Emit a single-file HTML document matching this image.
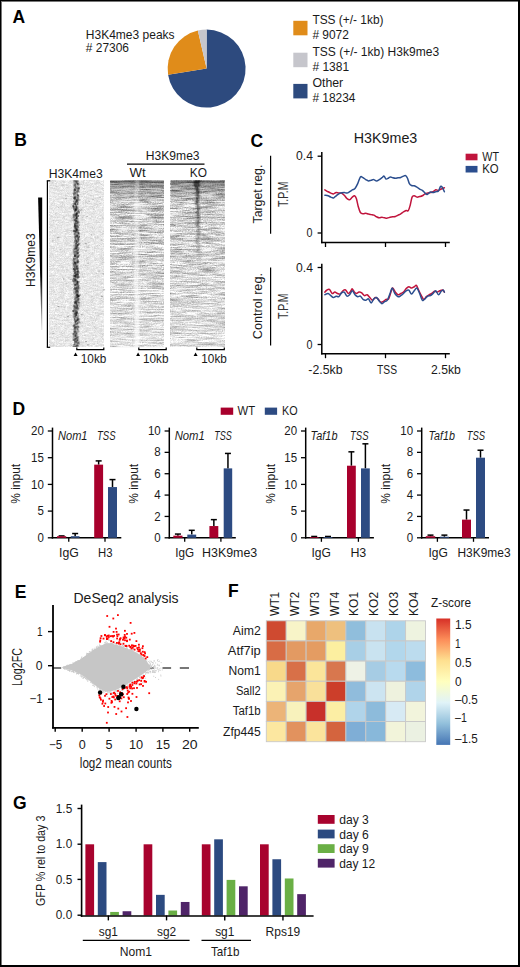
<!DOCTYPE html>
<html><head><meta charset="utf-8"><style>
html,body{margin:0;padding:0;background:#fff;width:520px;height:967px;overflow:hidden}
svg{display:block}
text{font-family:"Liberation Sans", sans-serif;}
</style></head><body>
<svg width="520" height="967" viewBox="0 0 520 967" fill="#1a1a1a">
<defs><filter id="n1" x="0" y="0" width="1" height="1" color-interpolation-filters="sRGB"><feTurbulence type="fractalNoise" baseFrequency="0.2 0.6" numOctaves="3" seed="3" result="a"/><feTurbulence type="fractalNoise" baseFrequency="0.9 0.9" numOctaves="2" seed="4" result="b"/><feComposite in="a" in2="b" operator="arithmetic" k1="0" k2="0.5" k3="0.5" k4="0" result="c"/><feColorMatrix in="c" type="matrix" values="0.415 0 0 0 0.698 0.415 0 0 0 0.698 0.415 0 0 0 0.698 0 0 0 0 1"/></filter><filter id="n2" x="0" y="0" width="1" height="1" color-interpolation-filters="sRGB"><feTurbulence type="fractalNoise" baseFrequency="0.06 0.75" numOctaves="3" seed="5" result="a"/><feTurbulence type="fractalNoise" baseFrequency="0.8 0.9" numOctaves="2" seed="6" result="b"/><feComposite in="a" in2="b" operator="arithmetic" k1="0" k2="0.7" k3="0.35" k4="0" result="c"/><feColorMatrix in="c" type="matrix" values="1.200 0 0 0 0.239 1.200 0 0 0 0.239 1.200 0 0 0 0.239 0 0 0 0 1"/></filter><filter id="n3" x="0" y="0" width="1" height="1" color-interpolation-filters="sRGB"><feTurbulence type="fractalNoise" baseFrequency="0.06 0.75" numOctaves="3" seed="9" result="a"/><feTurbulence type="fractalNoise" baseFrequency="0.8 0.9" numOctaves="2" seed="10" result="b"/><feComposite in="a" in2="b" operator="arithmetic" k1="0" k2="0.7" k3="0.35" k4="0" result="c"/><feColorMatrix in="c" type="matrix" values="1.200 0 0 0 0.239 1.200 0 0 0 0.239 1.200 0 0 0 0.239 0 0 0 0 1"/></filter><linearGradient id="gfade" x1="0" x2="0" y1="0" y2="1"><stop offset="0" stop-color="#000" stop-opacity="0.35"/><stop offset="0.06" stop-color="#000" stop-opacity="0.18"/><stop offset="0.16" stop-color="#000" stop-opacity="0"/><stop offset="0.4" stop-color="#fff" stop-opacity="0.06"/><stop offset="1" stop-color="#fff" stop-opacity="0.36"/></linearGradient><linearGradient id="gwedge" x1="0" x2="0" y1="0" y2="1"><stop offset="0" stop-color="#000"/><stop offset="0.6" stop-color="#000"/><stop offset="1" stop-color="#ccc"/></linearGradient><linearGradient id="cb" x1="0" x2="0" y1="0" y2="1"><stop offset="0.0000" stop-color="#D73027"/><stop offset="0.1667" stop-color="#FC8D59"/><stop offset="0.3333" stop-color="#FEE090"/><stop offset="0.5000" stop-color="#FFFFBF"/><stop offset="0.6667" stop-color="#E0F3F8"/><stop offset="0.8333" stop-color="#91BFDB"/><stop offset="1.0000" stop-color="#4575B4"/></linearGradient></defs>
<rect x="0" y="0" width="520" height="967" fill="#fff"/>
<text x="12.50" y="23.40" font-size="17.5" font-weight="bold" fill="#000">A</text>
<text x="85.80" y="38.50" font-size="12.6" textLength="88.80" lengthAdjust="spacingAndGlyphs">H3K4me3 peaks</text>
<text x="85.80" y="52.30" font-size="12.6" textLength="43.20" lengthAdjust="spacingAndGlyphs"># 27306</text>
<path d="M206.6,68.6 L206.60,29.60 A39,39 0 1 1 168.08,74.70 Z" fill="#2D4A7E"/>
<path d="M206.6,68.6 L168.08,74.70 A39,39 0 0 1 197.83,30.60 Z" fill="#E08C1A"/>
<path d="M206.6,68.6 L197.83,30.60 A39,39 0 0 1 206.60,29.60 Z" fill="#C6C6CC"/>
<rect x="293.30" y="20.80" width="14.20" height="14.50" fill="#E08C1A"/>
<text x="312.40" y="24.30" font-size="12.6" textLength="71.10" lengthAdjust="spacingAndGlyphs">TSS (+/- 1kb)</text>
<text x="312.40" y="38.80" font-size="12.6" textLength="36.50" lengthAdjust="spacingAndGlyphs"># 9072</text>
<rect x="293.30" y="52.70" width="14.20" height="14.50" fill="#C6C6CC"/>
<text x="312.40" y="56.20" font-size="12.6" textLength="126.70" lengthAdjust="spacingAndGlyphs">TSS (+/- 1kb) H3k9me3</text>
<text x="312.40" y="70.70" font-size="12.6" textLength="36.70" lengthAdjust="spacingAndGlyphs"># 1381</text>
<rect x="293.30" y="83.90" width="14.20" height="14.50" fill="#2D4A7E"/>
<text x="312.40" y="87.40" font-size="12.6" textLength="30.80" lengthAdjust="spacingAndGlyphs">Other</text>
<text x="312.40" y="101.90" font-size="12.6" textLength="43.10" lengthAdjust="spacingAndGlyphs"># 18234</text>
<text x="14.20" y="146.40" font-size="17.5" font-weight="bold" fill="#000">B</text>
<rect x="49.7" y="180.5" width="53.8" height="166.5" filter="url(#n1)"/>
<rect x="110.1" y="180.5" width="53.8" height="166.5" filter="url(#n2)"/>
<rect x="110.1" y="180.5" width="53.8" height="166.5" fill="url(#gfade)"/>
<rect x="110.1" y="180.5" width="53.8" height="2.5" fill="#000" opacity="0.25"/>
<rect x="170.6" y="180.5" width="54.0" height="166.5" filter="url(#n3)"/>
<rect x="170.6" y="180.5" width="54.0" height="166.5" fill="url(#gfade)"/>
<rect x="170.6" y="180.5" width="54.0" height="2.5" fill="#000" opacity="0.25"/>
<g fill="#000"><rect x="73.4" y="180.5" width="5.5" height="1.0" opacity="0.32"/><rect x="76.5" y="180.5" width="1.3" height="1.0" opacity="0.54"/><rect x="73.4" y="180.5" width="2.0" height="1.0" opacity="0.53"/><rect x="75.3" y="180.5" width="1.2" height="1.0" opacity="0.71"/><rect x="73.4" y="181.5" width="5.8" height="1.0" opacity="0.30"/><rect x="75.5" y="181.5" width="2.0" height="1.0" opacity="0.41"/><rect x="75.6" y="181.5" width="1.0" height="1.0" opacity="0.37"/><rect x="72.9" y="182.5" width="5.5" height="1.0" opacity="0.31"/><rect x="75.9" y="182.5" width="1.8" height="1.0" opacity="0.55"/><rect x="73.8" y="183.5" width="5.5" height="1.0" opacity="0.28"/><rect x="76.6" y="183.5" width="2.6" height="1.0" opacity="0.63"/><rect x="74.5" y="183.5" width="1.5" height="1.0" opacity="0.47"/><rect x="77.0" y="183.5" width="1.1" height="1.0" opacity="0.51"/><rect x="74.2" y="184.5" width="6.2" height="1.0" opacity="0.22"/><rect x="73.3" y="184.5" width="2.5" height="1.0" opacity="0.50"/><rect x="73.6" y="185.5" width="5.5" height="1.0" opacity="0.33"/><rect x="74.0" y="185.5" width="2.2" height="1.0" opacity="0.38"/><rect x="73.2" y="186.5" width="5.0" height="1.0" opacity="0.27"/><rect x="75.1" y="186.5" width="1.0" height="1.0" opacity="0.54"/><rect x="74.0" y="187.5" width="5.1" height="1.0" opacity="0.32"/><rect x="75.2" y="187.5" width="2.2" height="1.0" opacity="0.50"/><rect x="78.0" y="187.5" width="1.6" height="1.0" opacity="0.35"/><rect x="77.6" y="187.5" width="2.4" height="1.0" opacity="0.59"/><rect x="73.5" y="188.5" width="6.4" height="1.0" opacity="0.34"/><rect x="78.2" y="188.5" width="1.2" height="1.0" opacity="0.44"/><rect x="77.1" y="188.5" width="1.4" height="1.0" opacity="0.48"/><rect x="74.0" y="188.5" width="1.5" height="1.0" opacity="0.39"/><rect x="73.8" y="189.5" width="5.2" height="1.0" opacity="0.34"/><rect x="73.8" y="189.5" width="2.0" height="1.0" opacity="0.58"/><rect x="73.7" y="189.5" width="2.3" height="1.0" opacity="0.50"/><rect x="73.1" y="190.5" width="5.8" height="1.0" opacity="0.37"/><rect x="77.0" y="190.5" width="2.2" height="1.0" opacity="0.43"/><rect x="73.6" y="191.5" width="6.2" height="1.0" opacity="0.34"/><rect x="73.7" y="191.5" width="1.1" height="1.0" opacity="0.55"/><rect x="76.3" y="191.5" width="1.4" height="1.0" opacity="0.51"/><rect x="72.6" y="192.5" width="5.6" height="1.0" opacity="0.41"/><rect x="74.7" y="192.5" width="1.2" height="1.0" opacity="0.61"/><rect x="73.3" y="193.5" width="4.9" height="1.0" opacity="0.26"/><rect x="73.0" y="193.5" width="2.2" height="1.0" opacity="0.51"/><rect x="73.0" y="194.5" width="5.6" height="1.0" opacity="0.41"/><rect x="77.0" y="194.5" width="1.6" height="1.0" opacity="0.74"/><rect x="73.6" y="195.5" width="5.9" height="1.0" opacity="0.34"/><rect x="77.1" y="195.5" width="1.9" height="1.0" opacity="0.54"/><rect x="72.7" y="196.5" width="5.8" height="1.0" opacity="0.23"/><rect x="74.1" y="196.5" width="2.2" height="1.0" opacity="0.75"/><rect x="73.1" y="197.5" width="5.7" height="1.0" opacity="0.37"/><rect x="73.6" y="197.5" width="2.2" height="1.0" opacity="0.74"/><rect x="73.7" y="197.5" width="1.5" height="1.0" opacity="0.54"/><rect x="77.3" y="197.5" width="1.1" height="1.0" opacity="0.73"/><rect x="73.4" y="198.5" width="5.9" height="1.0" opacity="0.30"/><rect x="73.8" y="198.5" width="2.0" height="1.0" opacity="0.61"/><rect x="74.3" y="199.5" width="6.2" height="1.0" opacity="0.37"/><rect x="76.2" y="199.5" width="2.5" height="1.0" opacity="0.53"/><rect x="75.9" y="199.5" width="1.7" height="1.0" opacity="0.56"/><rect x="73.0" y="200.5" width="4.8" height="1.0" opacity="0.41"/><rect x="75.8" y="200.5" width="1.8" height="1.0" opacity="0.72"/><rect x="73.1" y="201.5" width="4.8" height="1.0" opacity="0.28"/><rect x="75.3" y="201.5" width="2.0" height="1.0" opacity="0.65"/><rect x="77.3" y="201.5" width="1.5" height="1.0" opacity="0.55"/><rect x="75.1" y="201.5" width="1.4" height="1.0" opacity="0.45"/><rect x="73.2" y="202.5" width="5.1" height="1.0" opacity="0.26"/><rect x="74.0" y="202.5" width="1.9" height="1.0" opacity="0.40"/><rect x="72.6" y="203.5" width="6.1" height="1.0" opacity="0.39"/><rect x="77.0" y="203.5" width="1.1" height="1.0" opacity="0.68"/><rect x="74.7" y="203.5" width="1.2" height="1.0" opacity="0.72"/><rect x="73.7" y="203.5" width="2.3" height="1.0" opacity="0.56"/><rect x="72.9" y="204.5" width="5.8" height="1.0" opacity="0.28"/><rect x="75.1" y="204.5" width="1.4" height="1.0" opacity="0.62"/><rect x="72.1" y="205.5" width="5.4" height="1.0" opacity="0.35"/><rect x="73.0" y="205.5" width="1.0" height="1.0" opacity="0.53"/><rect x="76.1" y="205.5" width="1.0" height="1.0" opacity="0.44"/><rect x="72.5" y="205.5" width="1.2" height="1.0" opacity="0.60"/><rect x="72.3" y="206.5" width="6.1" height="1.0" opacity="0.41"/><rect x="75.8" y="206.5" width="1.3" height="1.0" opacity="0.45"/><rect x="75.0" y="206.5" width="2.1" height="1.0" opacity="0.56"/><rect x="73.3" y="206.5" width="1.1" height="1.0" opacity="0.66"/><rect x="72.8" y="207.5" width="6.3" height="1.0" opacity="0.32"/><rect x="76.0" y="207.5" width="1.6" height="1.0" opacity="0.71"/><rect x="73.8" y="208.5" width="5.0" height="1.0" opacity="0.31"/><rect x="73.0" y="208.5" width="2.4" height="1.0" opacity="0.57"/><rect x="75.4" y="208.5" width="2.0" height="1.0" opacity="0.68"/><rect x="74.9" y="208.5" width="1.5" height="1.0" opacity="0.74"/><rect x="73.6" y="209.5" width="6.2" height="1.0" opacity="0.38"/><rect x="75.0" y="209.5" width="1.2" height="1.0" opacity="0.51"/><rect x="75.4" y="209.5" width="1.1" height="1.0" opacity="0.74"/><rect x="74.5" y="209.5" width="2.5" height="1.0" opacity="0.64"/><rect x="73.8" y="210.5" width="5.3" height="1.0" opacity="0.30"/><rect x="74.1" y="210.5" width="1.8" height="1.0" opacity="0.67"/><rect x="77.8" y="210.5" width="1.1" height="1.0" opacity="0.42"/><rect x="73.8" y="211.5" width="6.1" height="1.0" opacity="0.25"/><rect x="77.3" y="211.5" width="2.6" height="1.0" opacity="0.56"/><rect x="74.0" y="212.5" width="5.7" height="1.0" opacity="0.36"/><rect x="75.9" y="212.5" width="1.7" height="1.0" opacity="0.68"/><rect x="73.3" y="213.5" width="5.1" height="1.0" opacity="0.32"/><rect x="76.1" y="213.5" width="1.4" height="1.0" opacity="0.73"/><rect x="75.3" y="213.5" width="2.4" height="1.0" opacity="0.47"/><rect x="75.6" y="213.5" width="1.2" height="1.0" opacity="0.46"/><rect x="72.5" y="214.5" width="4.8" height="1.0" opacity="0.30"/><rect x="74.5" y="214.5" width="2.6" height="1.0" opacity="0.51"/><rect x="74.9" y="214.5" width="2.3" height="1.0" opacity="0.55"/><rect x="72.8" y="214.5" width="2.1" height="1.0" opacity="0.57"/><rect x="73.0" y="215.5" width="6.3" height="1.0" opacity="0.40"/><rect x="75.1" y="215.5" width="1.4" height="1.0" opacity="0.49"/><rect x="76.6" y="215.5" width="2.4" height="1.0" opacity="0.72"/><rect x="72.9" y="216.5" width="4.8" height="1.0" opacity="0.27"/><rect x="72.6" y="216.5" width="2.2" height="1.0" opacity="0.43"/><rect x="75.9" y="216.5" width="1.4" height="1.0" opacity="0.48"/><rect x="75.6" y="216.5" width="1.6" height="1.0" opacity="0.39"/><rect x="73.3" y="217.5" width="5.0" height="1.0" opacity="0.32"/><rect x="75.7" y="217.5" width="2.1" height="1.0" opacity="0.70"/><rect x="76.0" y="217.5" width="1.0" height="1.0" opacity="0.68"/><rect x="73.2" y="218.5" width="5.7" height="1.0" opacity="0.26"/><rect x="75.0" y="218.5" width="2.4" height="1.0" opacity="0.69"/><rect x="72.5" y="219.5" width="6.0" height="1.0" opacity="0.38"/><rect x="74.0" y="219.5" width="1.5" height="1.0" opacity="0.72"/><rect x="73.6" y="220.5" width="5.0" height="1.0" opacity="0.27"/><rect x="74.9" y="220.5" width="1.1" height="1.0" opacity="0.52"/><rect x="74.9" y="220.5" width="2.5" height="1.0" opacity="0.63"/><rect x="75.9" y="220.5" width="1.3" height="1.0" opacity="0.67"/><rect x="74.1" y="221.5" width="5.7" height="1.0" opacity="0.29"/><rect x="76.7" y="221.5" width="1.2" height="1.0" opacity="0.65"/><rect x="77.2" y="221.5" width="1.8" height="1.0" opacity="0.43"/><rect x="73.8" y="222.5" width="5.7" height="1.0" opacity="0.32"/><rect x="74.9" y="222.5" width="1.8" height="1.0" opacity="0.40"/><rect x="75.0" y="222.5" width="1.3" height="1.0" opacity="0.46"/><rect x="76.4" y="222.5" width="2.1" height="1.0" opacity="0.40"/><rect x="74.3" y="223.5" width="4.9" height="1.0" opacity="0.24"/><rect x="76.1" y="223.5" width="1.7" height="1.0" opacity="0.52"/><rect x="73.8" y="223.5" width="2.0" height="1.0" opacity="0.63"/><rect x="74.0" y="224.5" width="6.0" height="1.0" opacity="0.30"/><rect x="74.0" y="224.5" width="2.0" height="1.0" opacity="0.67"/><rect x="73.5" y="225.5" width="4.9" height="1.0" opacity="0.39"/><rect x="75.5" y="225.5" width="2.5" height="1.0" opacity="0.43"/><rect x="74.8" y="225.5" width="1.9" height="1.0" opacity="0.65"/><rect x="74.0" y="225.5" width="1.4" height="1.0" opacity="0.65"/><rect x="73.6" y="226.5" width="5.3" height="1.0" opacity="0.33"/><rect x="76.9" y="226.5" width="2.2" height="1.0" opacity="0.51"/><rect x="73.8" y="226.5" width="2.2" height="1.0" opacity="0.49"/><rect x="74.5" y="227.5" width="4.8" height="1.0" opacity="0.29"/><rect x="74.1" y="227.5" width="2.4" height="1.0" opacity="0.46"/><rect x="75.2" y="227.5" width="2.5" height="1.0" opacity="0.44"/><rect x="75.1" y="227.5" width="1.6" height="1.0" opacity="0.38"/><rect x="73.5" y="228.5" width="5.0" height="1.0" opacity="0.30"/><rect x="76.6" y="228.5" width="1.0" height="1.0" opacity="0.65"/><rect x="75.4" y="228.5" width="1.4" height="1.0" opacity="0.37"/><rect x="75.4" y="228.5" width="1.3" height="1.0" opacity="0.39"/><rect x="73.4" y="229.5" width="6.2" height="1.0" opacity="0.33"/><rect x="75.7" y="229.5" width="1.7" height="1.0" opacity="0.69"/><rect x="75.6" y="229.5" width="1.2" height="1.0" opacity="0.61"/><rect x="76.2" y="229.5" width="1.9" height="1.0" opacity="0.73"/><rect x="72.8" y="230.5" width="6.4" height="1.0" opacity="0.39"/><rect x="72.8" y="230.5" width="2.0" height="1.0" opacity="0.73"/><rect x="75.0" y="230.5" width="1.7" height="1.0" opacity="0.59"/><rect x="74.0" y="230.5" width="1.6" height="1.0" opacity="0.61"/><rect x="73.7" y="231.5" width="5.3" height="1.0" opacity="0.36"/><rect x="77.1" y="231.5" width="1.0" height="1.0" opacity="0.58"/><rect x="75.0" y="231.5" width="2.0" height="1.0" opacity="0.62"/><rect x="73.7" y="232.5" width="5.7" height="1.0" opacity="0.36"/><rect x="77.9" y="232.5" width="1.1" height="1.0" opacity="0.52"/><rect x="77.8" y="232.5" width="1.8" height="1.0" opacity="0.45"/><rect x="73.8" y="233.5" width="6.3" height="1.0" opacity="0.36"/><rect x="78.0" y="233.5" width="1.2" height="1.0" opacity="0.45"/><rect x="73.6" y="233.5" width="2.1" height="1.0" opacity="0.52"/><rect x="74.1" y="234.5" width="5.0" height="1.0" opacity="0.29"/><rect x="75.8" y="234.5" width="2.1" height="1.0" opacity="0.45"/><rect x="74.5" y="235.5" width="5.5" height="1.0" opacity="0.38"/><rect x="74.5" y="235.5" width="2.3" height="1.0" opacity="0.47"/><rect x="76.5" y="235.5" width="1.2" height="1.0" opacity="0.55"/><rect x="76.5" y="235.5" width="1.5" height="1.0" opacity="0.69"/><rect x="74.3" y="236.5" width="5.9" height="1.0" opacity="0.26"/><rect x="74.4" y="236.5" width="2.2" height="1.0" opacity="0.45"/><rect x="77.4" y="236.5" width="2.6" height="1.0" opacity="0.70"/><rect x="73.9" y="237.5" width="4.9" height="1.0" opacity="0.27"/><rect x="74.6" y="237.5" width="1.0" height="1.0" opacity="0.44"/><rect x="77.5" y="237.5" width="1.4" height="1.0" opacity="0.72"/><rect x="74.7" y="238.5" width="5.6" height="1.0" opacity="0.29"/><rect x="77.3" y="238.5" width="1.5" height="1.0" opacity="0.69"/><rect x="74.8" y="238.5" width="1.1" height="1.0" opacity="0.67"/><rect x="74.3" y="239.5" width="6.0" height="1.0" opacity="0.26"/><rect x="75.4" y="239.5" width="2.2" height="1.0" opacity="0.41"/><rect x="77.8" y="239.5" width="1.2" height="1.0" opacity="0.59"/><rect x="74.1" y="240.5" width="5.1" height="1.0" opacity="0.35"/><rect x="77.7" y="240.5" width="1.2" height="1.0" opacity="0.38"/><rect x="76.3" y="240.5" width="1.1" height="1.0" opacity="0.54"/><rect x="74.7" y="240.5" width="2.1" height="1.0" opacity="0.66"/><rect x="73.8" y="241.5" width="5.1" height="1.0" opacity="0.35"/><rect x="76.0" y="241.5" width="2.1" height="1.0" opacity="0.66"/><rect x="73.4" y="242.5" width="5.9" height="1.0" opacity="0.29"/><rect x="75.4" y="242.5" width="1.5" height="1.0" opacity="0.59"/><rect x="74.6" y="243.5" width="5.9" height="1.0" opacity="0.28"/><rect x="75.0" y="243.5" width="2.3" height="1.0" opacity="0.48"/><rect x="78.1" y="243.5" width="1.6" height="1.0" opacity="0.71"/><rect x="75.7" y="243.5" width="1.4" height="1.0" opacity="0.50"/><rect x="73.6" y="244.5" width="5.1" height="1.0" opacity="0.33"/><rect x="77.1" y="244.5" width="1.9" height="1.0" opacity="0.58"/><rect x="77.0" y="244.5" width="1.3" height="1.0" opacity="0.70"/><rect x="73.7" y="245.5" width="4.8" height="1.0" opacity="0.32"/><rect x="75.2" y="245.5" width="1.3" height="1.0" opacity="0.36"/><rect x="75.2" y="245.5" width="2.3" height="1.0" opacity="0.58"/><rect x="76.2" y="245.5" width="1.5" height="1.0" opacity="0.48"/><rect x="73.5" y="246.5" width="4.8" height="1.0" opacity="0.35"/><rect x="76.1" y="246.5" width="2.2" height="1.0" opacity="0.45"/><rect x="73.5" y="247.5" width="6.0" height="1.0" opacity="0.32"/><rect x="75.1" y="247.5" width="1.6" height="1.0" opacity="0.74"/><rect x="75.5" y="247.5" width="2.1" height="1.0" opacity="0.56"/><rect x="74.0" y="248.5" width="5.5" height="1.0" opacity="0.39"/><rect x="73.4" y="248.5" width="1.6" height="1.0" opacity="0.50"/><rect x="75.6" y="248.5" width="1.1" height="1.0" opacity="0.57"/><rect x="75.2" y="248.5" width="1.0" height="1.0" opacity="0.35"/><rect x="72.6" y="249.5" width="6.3" height="1.0" opacity="0.40"/><rect x="76.8" y="249.5" width="2.2" height="1.0" opacity="0.50"/><rect x="73.1" y="250.5" width="5.3" height="1.0" opacity="0.41"/><rect x="76.2" y="250.5" width="1.8" height="1.0" opacity="0.47"/><rect x="73.1" y="251.5" width="6.3" height="1.0" opacity="0.40"/><rect x="75.7" y="251.5" width="1.0" height="1.0" opacity="0.67"/><rect x="74.2" y="251.5" width="1.5" height="1.0" opacity="0.49"/><rect x="73.0" y="252.5" width="5.6" height="1.0" opacity="0.31"/><rect x="76.8" y="252.5" width="1.6" height="1.0" opacity="0.72"/><rect x="76.8" y="252.5" width="2.0" height="1.0" opacity="0.57"/><rect x="73.3" y="253.5" width="5.6" height="1.0" opacity="0.30"/><rect x="75.9" y="253.5" width="2.1" height="1.0" opacity="0.39"/><rect x="74.1" y="253.5" width="2.4" height="1.0" opacity="0.44"/><rect x="73.9" y="254.5" width="6.1" height="1.0" opacity="0.37"/><rect x="74.1" y="254.5" width="2.1" height="1.0" opacity="0.35"/><rect x="73.9" y="255.5" width="5.4" height="1.0" opacity="0.38"/><rect x="77.5" y="255.5" width="1.7" height="1.0" opacity="0.52"/><rect x="74.0" y="255.5" width="2.2" height="1.0" opacity="0.71"/><rect x="73.9" y="255.5" width="2.3" height="1.0" opacity="0.65"/><rect x="73.0" y="256.5" width="5.7" height="1.0" opacity="0.26"/><rect x="76.6" y="256.5" width="2.3" height="1.0" opacity="0.68"/><rect x="72.7" y="257.5" width="5.2" height="1.0" opacity="0.36"/><rect x="75.6" y="257.5" width="2.4" height="1.0" opacity="0.38"/><rect x="73.2" y="258.5" width="4.8" height="1.0" opacity="0.26"/><rect x="73.0" y="258.5" width="2.5" height="1.0" opacity="0.68"/><rect x="72.5" y="259.5" width="5.7" height="1.0" opacity="0.33"/><rect x="76.4" y="259.5" width="2.5" height="1.0" opacity="0.48"/><rect x="73.1" y="260.5" width="5.9" height="1.0" opacity="0.23"/><rect x="72.7" y="260.5" width="2.1" height="1.0" opacity="0.51"/><rect x="73.1" y="261.5" width="6.3" height="1.0" opacity="0.39"/><rect x="76.7" y="261.5" width="1.7" height="1.0" opacity="0.63"/><rect x="74.1" y="261.5" width="1.8" height="1.0" opacity="0.40"/><rect x="76.4" y="261.5" width="2.2" height="1.0" opacity="0.69"/><rect x="72.7" y="262.5" width="5.8" height="1.0" opacity="0.41"/><rect x="74.4" y="262.5" width="1.5" height="1.0" opacity="0.51"/><rect x="73.8" y="262.5" width="2.1" height="1.0" opacity="0.43"/><rect x="74.0" y="262.5" width="2.2" height="1.0" opacity="0.73"/><rect x="72.5" y="263.5" width="6.0" height="1.0" opacity="0.29"/><rect x="73.1" y="263.5" width="1.1" height="1.0" opacity="0.39"/><rect x="75.1" y="263.5" width="2.1" height="1.0" opacity="0.42"/><rect x="72.3" y="264.5" width="4.9" height="1.0" opacity="0.27"/><rect x="73.4" y="264.5" width="2.6" height="1.0" opacity="0.66"/><rect x="72.8" y="265.5" width="6.1" height="1.0" opacity="0.41"/><rect x="75.9" y="265.5" width="2.0" height="1.0" opacity="0.68"/><rect x="72.7" y="266.5" width="4.8" height="1.0" opacity="0.30"/><rect x="76.1" y="266.5" width="1.5" height="1.0" opacity="0.45"/><rect x="74.5" y="266.5" width="2.6" height="1.0" opacity="0.45"/><rect x="74.1" y="266.5" width="1.3" height="1.0" opacity="0.53"/><rect x="73.3" y="267.5" width="5.1" height="1.0" opacity="0.29"/><rect x="75.3" y="267.5" width="2.3" height="1.0" opacity="0.41"/><rect x="76.7" y="267.5" width="2.2" height="1.0" opacity="0.57"/><rect x="72.7" y="268.5" width="5.9" height="1.0" opacity="0.42"/><rect x="75.4" y="268.5" width="2.6" height="1.0" opacity="0.72"/><rect x="72.8" y="268.5" width="1.9" height="1.0" opacity="0.61"/><rect x="73.1" y="268.5" width="2.2" height="1.0" opacity="0.54"/><rect x="73.4" y="269.5" width="5.3" height="1.0" opacity="0.24"/><rect x="77.2" y="269.5" width="1.4" height="1.0" opacity="0.53"/><rect x="74.0" y="269.5" width="2.2" height="1.0" opacity="0.58"/><rect x="73.7" y="270.5" width="5.1" height="1.0" opacity="0.37"/><rect x="73.5" y="270.5" width="2.0" height="1.0" opacity="0.68"/><rect x="77.1" y="270.5" width="1.5" height="1.0" opacity="0.45"/><rect x="73.4" y="271.5" width="6.1" height="1.0" opacity="0.26"/><rect x="74.8" y="271.5" width="2.3" height="1.0" opacity="0.51"/><rect x="76.9" y="271.5" width="2.3" height="1.0" opacity="0.75"/><rect x="76.6" y="271.5" width="1.2" height="1.0" opacity="0.69"/><rect x="73.9" y="272.5" width="6.0" height="1.0" opacity="0.25"/><rect x="74.1" y="272.5" width="1.7" height="1.0" opacity="0.50"/><rect x="74.1" y="272.5" width="1.9" height="1.0" opacity="0.56"/><rect x="73.1" y="273.5" width="5.7" height="1.0" opacity="0.29"/><rect x="76.0" y="273.5" width="2.3" height="1.0" opacity="0.67"/><rect x="75.3" y="273.5" width="1.6" height="1.0" opacity="0.39"/><rect x="77.1" y="273.5" width="1.6" height="1.0" opacity="0.72"/><rect x="72.8" y="274.5" width="6.2" height="1.0" opacity="0.31"/><rect x="74.7" y="274.5" width="1.7" height="1.0" opacity="0.58"/><rect x="74.7" y="274.5" width="2.4" height="1.0" opacity="0.56"/><rect x="76.8" y="274.5" width="1.7" height="1.0" opacity="0.48"/><rect x="72.6" y="275.5" width="6.0" height="1.0" opacity="0.40"/><rect x="74.2" y="275.5" width="1.6" height="1.0" opacity="0.67"/><rect x="76.3" y="275.5" width="2.4" height="1.0" opacity="0.45"/><rect x="73.5" y="275.5" width="2.4" height="1.0" opacity="0.70"/><rect x="73.1" y="276.5" width="6.3" height="1.0" opacity="0.33"/><rect x="74.3" y="276.5" width="1.6" height="1.0" opacity="0.38"/><rect x="77.1" y="276.5" width="2.5" height="1.0" opacity="0.62"/><rect x="74.8" y="276.5" width="2.4" height="1.0" opacity="0.67"/><rect x="73.1" y="277.5" width="6.0" height="1.0" opacity="0.33"/><rect x="76.9" y="277.5" width="1.2" height="1.0" opacity="0.40"/><rect x="72.1" y="278.5" width="5.2" height="1.0" opacity="0.28"/><rect x="74.5" y="278.5" width="1.3" height="1.0" opacity="0.53"/><rect x="72.9" y="278.5" width="1.8" height="1.0" opacity="0.63"/><rect x="72.4" y="279.5" width="5.3" height="1.0" opacity="0.31"/><rect x="74.7" y="279.5" width="1.5" height="1.0" opacity="0.72"/><rect x="74.0" y="279.5" width="2.6" height="1.0" opacity="0.43"/><rect x="73.0" y="280.5" width="5.1" height="1.0" opacity="0.39"/><rect x="72.1" y="280.5" width="2.4" height="1.0" opacity="0.60"/><rect x="74.6" y="280.5" width="2.1" height="1.0" opacity="0.56"/><rect x="73.4" y="281.5" width="6.3" height="1.0" opacity="0.42"/><rect x="76.8" y="281.5" width="1.2" height="1.0" opacity="0.48"/><rect x="76.8" y="281.5" width="2.4" height="1.0" opacity="0.64"/><rect x="76.7" y="281.5" width="1.2" height="1.0" opacity="0.73"/><rect x="73.1" y="282.5" width="5.3" height="1.0" opacity="0.36"/><rect x="76.5" y="282.5" width="1.4" height="1.0" opacity="0.55"/><rect x="73.3" y="283.5" width="5.2" height="1.0" opacity="0.38"/><rect x="75.5" y="283.5" width="2.4" height="1.0" opacity="0.44"/><rect x="77.4" y="283.5" width="1.5" height="1.0" opacity="0.62"/><rect x="76.2" y="283.5" width="1.4" height="1.0" opacity="0.39"/><rect x="73.8" y="284.5" width="5.6" height="1.0" opacity="0.23"/><rect x="75.8" y="284.5" width="1.9" height="1.0" opacity="0.52"/><rect x="74.2" y="284.5" width="1.9" height="1.0" opacity="0.75"/><rect x="74.6" y="284.5" width="1.3" height="1.0" opacity="0.64"/><rect x="73.2" y="285.5" width="6.1" height="1.0" opacity="0.25"/><rect x="77.3" y="285.5" width="2.0" height="1.0" opacity="0.58"/><rect x="73.9" y="286.5" width="4.9" height="1.0" opacity="0.38"/><rect x="76.3" y="286.5" width="1.5" height="1.0" opacity="0.36"/><rect x="77.8" y="286.5" width="1.5" height="1.0" opacity="0.60"/><rect x="74.5" y="287.5" width="6.0" height="1.0" opacity="0.33"/><rect x="74.3" y="287.5" width="2.2" height="1.0" opacity="0.59"/><rect x="75.9" y="287.5" width="1.4" height="1.0" opacity="0.66"/><rect x="77.0" y="287.5" width="2.3" height="1.0" opacity="0.44"/><rect x="73.7" y="288.5" width="5.6" height="1.0" opacity="0.23"/><rect x="73.2" y="288.5" width="2.6" height="1.0" opacity="0.53"/><rect x="74.4" y="288.5" width="2.4" height="1.0" opacity="0.59"/><rect x="76.8" y="288.5" width="2.0" height="1.0" opacity="0.55"/><rect x="73.8" y="289.5" width="6.2" height="1.0" opacity="0.23"/><rect x="75.4" y="289.5" width="2.5" height="1.0" opacity="0.57"/><rect x="73.2" y="290.5" width="5.3" height="1.0" opacity="0.23"/><rect x="76.3" y="290.5" width="2.3" height="1.0" opacity="0.66"/><rect x="75.3" y="290.5" width="2.2" height="1.0" opacity="0.61"/><rect x="73.3" y="291.5" width="5.4" height="1.0" opacity="0.27"/><rect x="76.5" y="291.5" width="2.1" height="1.0" opacity="0.66"/><rect x="75.1" y="291.5" width="1.1" height="1.0" opacity="0.50"/><rect x="73.1" y="292.5" width="5.6" height="1.0" opacity="0.37"/><rect x="75.5" y="292.5" width="1.2" height="1.0" opacity="0.65"/><rect x="73.9" y="293.5" width="5.2" height="1.0" opacity="0.40"/><rect x="76.9" y="293.5" width="1.1" height="1.0" opacity="0.54"/><rect x="75.1" y="294.5" width="5.9" height="1.0" opacity="0.42"/><rect x="76.0" y="294.5" width="1.4" height="1.0" opacity="0.57"/><rect x="76.9" y="294.5" width="1.4" height="1.0" opacity="0.72"/><rect x="76.2" y="294.5" width="1.6" height="1.0" opacity="0.74"/><rect x="74.2" y="295.5" width="4.9" height="1.0" opacity="0.30"/><rect x="76.7" y="295.5" width="2.6" height="1.0" opacity="0.58"/><rect x="77.4" y="295.5" width="2.5" height="1.0" opacity="0.72"/><rect x="77.9" y="295.5" width="1.3" height="1.0" opacity="0.72"/><rect x="73.5" y="296.5" width="5.5" height="1.0" opacity="0.27"/><rect x="75.5" y="296.5" width="2.3" height="1.0" opacity="0.51"/><rect x="76.9" y="296.5" width="2.0" height="1.0" opacity="0.54"/><rect x="76.4" y="296.5" width="1.8" height="1.0" opacity="0.42"/><rect x="74.1" y="297.5" width="5.7" height="1.0" opacity="0.30"/><rect x="75.3" y="297.5" width="2.1" height="1.0" opacity="0.46"/><rect x="73.9" y="298.5" width="5.4" height="1.0" opacity="0.40"/><rect x="74.5" y="298.5" width="1.3" height="1.0" opacity="0.37"/><rect x="77.1" y="298.5" width="2.2" height="1.0" opacity="0.40"/><rect x="77.7" y="298.5" width="1.4" height="1.0" opacity="0.40"/><rect x="74.4" y="299.5" width="6.1" height="1.0" opacity="0.31"/><rect x="77.2" y="299.5" width="1.5" height="1.0" opacity="0.56"/><rect x="75.7" y="299.5" width="1.1" height="1.0" opacity="0.45"/><rect x="74.1" y="300.5" width="4.9" height="1.0" opacity="0.28"/><rect x="76.7" y="300.5" width="1.8" height="1.0" opacity="0.56"/><rect x="75.0" y="300.5" width="1.9" height="1.0" opacity="0.53"/><rect x="73.7" y="301.5" width="6.2" height="1.0" opacity="0.39"/><rect x="75.2" y="301.5" width="2.1" height="1.0" opacity="0.50"/><rect x="74.3" y="301.5" width="2.4" height="1.0" opacity="0.47"/><rect x="74.6" y="301.5" width="1.6" height="1.0" opacity="0.37"/><rect x="74.3" y="302.5" width="6.1" height="1.0" opacity="0.42"/><rect x="74.1" y="302.5" width="2.1" height="1.0" opacity="0.69"/><rect x="75.4" y="302.5" width="1.9" height="1.0" opacity="0.40"/><rect x="74.3" y="303.5" width="5.4" height="1.0" opacity="0.38"/><rect x="75.9" y="303.5" width="1.1" height="1.0" opacity="0.51"/><rect x="75.8" y="303.5" width="1.1" height="1.0" opacity="0.48"/><rect x="73.2" y="304.5" width="5.4" height="1.0" opacity="0.32"/><rect x="76.5" y="304.5" width="1.6" height="1.0" opacity="0.56"/><rect x="73.8" y="305.5" width="6.3" height="1.0" opacity="0.38"/><rect x="76.2" y="305.5" width="1.9" height="1.0" opacity="0.57"/><rect x="73.2" y="305.5" width="2.1" height="1.0" opacity="0.51"/><rect x="73.3" y="306.5" width="4.9" height="1.0" opacity="0.32"/><rect x="76.4" y="306.5" width="1.5" height="1.0" opacity="0.70"/><rect x="73.6" y="306.5" width="1.1" height="1.0" opacity="0.48"/><rect x="74.5" y="306.5" width="1.6" height="1.0" opacity="0.68"/><rect x="73.9" y="307.5" width="5.8" height="1.0" opacity="0.30"/><rect x="74.4" y="307.5" width="2.5" height="1.0" opacity="0.58"/><rect x="76.2" y="307.5" width="2.5" height="1.0" opacity="0.60"/><rect x="73.1" y="308.5" width="5.2" height="1.0" opacity="0.39"/><rect x="77.0" y="308.5" width="1.6" height="1.0" opacity="0.37"/><rect x="75.4" y="308.5" width="1.2" height="1.0" opacity="0.47"/><rect x="72.9" y="309.5" width="6.4" height="1.0" opacity="0.25"/><rect x="74.0" y="309.5" width="1.4" height="1.0" opacity="0.44"/><rect x="72.8" y="310.5" width="4.8" height="1.0" opacity="0.33"/><rect x="72.2" y="310.5" width="2.2" height="1.0" opacity="0.68"/><rect x="74.8" y="310.5" width="2.4" height="1.0" opacity="0.67"/><rect x="72.7" y="310.5" width="1.4" height="1.0" opacity="0.36"/><rect x="72.9" y="311.5" width="5.1" height="1.0" opacity="0.30"/><rect x="75.5" y="311.5" width="2.5" height="1.0" opacity="0.41"/><rect x="72.6" y="312.5" width="5.4" height="1.0" opacity="0.28"/><rect x="74.3" y="312.5" width="2.1" height="1.0" opacity="0.61"/><rect x="75.4" y="312.5" width="1.6" height="1.0" opacity="0.72"/><rect x="75.9" y="312.5" width="2.2" height="1.0" opacity="0.75"/><rect x="72.8" y="313.5" width="6.2" height="1.0" opacity="0.28"/><rect x="75.2" y="313.5" width="1.8" height="1.0" opacity="0.37"/><rect x="73.9" y="313.5" width="2.0" height="1.0" opacity="0.54"/><rect x="72.8" y="314.5" width="5.9" height="1.0" opacity="0.27"/><rect x="75.6" y="314.5" width="1.4" height="1.0" opacity="0.48"/><rect x="75.7" y="314.5" width="1.5" height="1.0" opacity="0.69"/><rect x="74.5" y="314.5" width="2.3" height="1.0" opacity="0.52"/><rect x="73.3" y="315.5" width="5.8" height="1.0" opacity="0.39"/><rect x="74.8" y="315.5" width="1.2" height="1.0" opacity="0.62"/><rect x="72.7" y="316.5" width="5.7" height="1.0" opacity="0.41"/><rect x="74.3" y="316.5" width="1.4" height="1.0" opacity="0.45"/><rect x="73.7" y="317.5" width="5.4" height="1.0" opacity="0.36"/><rect x="76.7" y="317.5" width="1.1" height="1.0" opacity="0.40"/><rect x="74.0" y="318.5" width="6.4" height="1.0" opacity="0.24"/><rect x="76.8" y="318.5" width="2.4" height="1.0" opacity="0.69"/><rect x="74.0" y="318.5" width="1.3" height="1.0" opacity="0.53"/><rect x="74.1" y="319.5" width="5.8" height="1.0" opacity="0.26"/><rect x="76.7" y="319.5" width="2.0" height="1.0" opacity="0.74"/><rect x="76.6" y="319.5" width="1.6" height="1.0" opacity="0.57"/><rect x="73.8" y="319.5" width="2.3" height="1.0" opacity="0.42"/><rect x="74.0" y="320.5" width="5.6" height="1.0" opacity="0.24"/><rect x="74.8" y="320.5" width="2.4" height="1.0" opacity="0.58"/><rect x="75.9" y="320.5" width="1.4" height="1.0" opacity="0.48"/><rect x="74.1" y="321.5" width="5.1" height="1.0" opacity="0.33"/><rect x="74.9" y="321.5" width="1.1" height="1.0" opacity="0.71"/><rect x="74.7" y="321.5" width="1.5" height="1.0" opacity="0.42"/><rect x="78.6" y="321.5" width="1.8" height="1.0" opacity="0.43"/><rect x="74.4" y="322.5" width="6.1" height="1.0" opacity="0.30"/><rect x="77.1" y="322.5" width="1.3" height="1.0" opacity="0.68"/><rect x="73.6" y="323.5" width="5.1" height="1.0" opacity="0.28"/><rect x="75.1" y="323.5" width="2.6" height="1.0" opacity="0.68"/><rect x="73.2" y="324.5" width="5.1" height="1.0" opacity="0.24"/><rect x="73.7" y="324.5" width="1.4" height="1.0" opacity="0.57"/><rect x="72.9" y="325.5" width="5.5" height="1.0" opacity="0.40"/><rect x="72.8" y="325.5" width="2.5" height="1.0" opacity="0.56"/><rect x="73.8" y="326.5" width="5.4" height="1.0" opacity="0.38"/><rect x="77.4" y="326.5" width="2.2" height="1.0" opacity="0.39"/><rect x="74.7" y="326.5" width="2.5" height="1.0" opacity="0.63"/><rect x="77.5" y="326.5" width="1.4" height="1.0" opacity="0.36"/><rect x="73.0" y="327.5" width="5.2" height="1.0" opacity="0.30"/><rect x="73.9" y="327.5" width="1.8" height="1.0" opacity="0.75"/><rect x="74.5" y="327.5" width="2.0" height="1.0" opacity="0.47"/><rect x="73.7" y="328.5" width="5.2" height="1.0" opacity="0.26"/><rect x="76.8" y="328.5" width="1.3" height="1.0" opacity="0.57"/><rect x="73.9" y="329.5" width="5.1" height="1.0" opacity="0.24"/><rect x="74.3" y="329.5" width="1.6" height="1.0" opacity="0.36"/><rect x="73.1" y="330.5" width="6.3" height="1.0" opacity="0.39"/><rect x="74.4" y="330.5" width="1.0" height="1.0" opacity="0.38"/><rect x="73.6" y="331.5" width="5.7" height="1.0" opacity="0.28"/><rect x="73.9" y="331.5" width="2.5" height="1.0" opacity="0.51"/><rect x="73.9" y="331.5" width="2.1" height="1.0" opacity="0.46"/><rect x="73.0" y="332.5" width="5.1" height="1.0" opacity="0.29"/><rect x="75.9" y="332.5" width="1.2" height="1.0" opacity="0.50"/><rect x="72.6" y="333.5" width="5.1" height="1.0" opacity="0.34"/><rect x="74.6" y="333.5" width="2.4" height="1.0" opacity="0.55"/><rect x="72.6" y="333.5" width="1.9" height="1.0" opacity="0.68"/><rect x="72.8" y="334.5" width="5.5" height="1.0" opacity="0.30"/><rect x="74.8" y="334.5" width="1.6" height="1.0" opacity="0.37"/><rect x="72.9" y="335.5" width="5.6" height="1.0" opacity="0.31"/><rect x="74.7" y="335.5" width="1.9" height="1.0" opacity="0.72"/><rect x="74.5" y="335.5" width="1.2" height="1.0" opacity="0.75"/><rect x="73.0" y="336.5" width="6.4" height="1.0" opacity="0.30"/><rect x="76.2" y="336.5" width="2.2" height="1.0" opacity="0.39"/><rect x="72.3" y="337.5" width="6.3" height="1.0" opacity="0.38"/><rect x="75.6" y="337.5" width="2.3" height="1.0" opacity="0.55"/><rect x="73.4" y="338.5" width="5.9" height="1.0" opacity="0.27"/><rect x="75.1" y="338.5" width="1.7" height="1.0" opacity="0.70"/><rect x="74.2" y="338.5" width="1.3" height="1.0" opacity="0.61"/><rect x="72.7" y="339.5" width="5.7" height="1.0" opacity="0.38"/><rect x="72.8" y="339.5" width="2.4" height="1.0" opacity="0.55"/><rect x="77.0" y="339.5" width="1.1" height="1.0" opacity="0.74"/><rect x="74.3" y="340.5" width="5.1" height="1.0" opacity="0.29"/><rect x="74.3" y="340.5" width="2.5" height="1.0" opacity="0.47"/><rect x="76.4" y="340.5" width="1.7" height="1.0" opacity="0.36"/><rect x="74.3" y="341.5" width="5.5" height="1.0" opacity="0.32"/><rect x="74.3" y="341.5" width="2.6" height="1.0" opacity="0.60"/><rect x="74.0" y="342.5" width="5.9" height="1.0" opacity="0.31"/><rect x="76.8" y="342.5" width="2.3" height="1.0" opacity="0.69"/><rect x="74.1" y="343.5" width="5.9" height="1.0" opacity="0.26"/><rect x="74.2" y="343.5" width="1.3" height="1.0" opacity="0.63"/><rect x="73.0" y="344.5" width="6.3" height="1.0" opacity="0.34"/><rect x="73.3" y="344.5" width="1.5" height="1.0" opacity="0.38"/><rect x="76.5" y="344.5" width="1.3" height="1.0" opacity="0.70"/><rect x="73.7" y="345.5" width="5.1" height="1.0" opacity="0.23"/><rect x="76.8" y="345.5" width="1.7" height="1.0" opacity="0.51"/><rect x="75.4" y="345.5" width="1.7" height="1.0" opacity="0.73"/><rect x="72.8" y="346.5" width="5.7" height="0.5" opacity="0.28"/><rect x="72.8" y="346.5" width="2.5" height="0.5" opacity="0.61"/><rect x="75.1" y="346.5" width="1.4" height="0.5" opacity="0.43"/><rect x="71.9" y="217.4" width="1.9" height="1" opacity="0.17"/><rect x="67.7" y="277.4" width="1.9" height="1" opacity="0.15"/><rect x="85.1" y="183.1" width="1.8" height="1" opacity="0.10"/><rect x="69.9" y="278.9" width="2.3" height="1" opacity="0.18"/><rect x="64.8" y="197.8" width="2.3" height="1" opacity="0.25"/><rect x="55.5" y="289.5" width="1.6" height="1" opacity="0.14"/><rect x="91.9" y="183.7" width="0.9" height="1" opacity="0.22"/><rect x="87.0" y="344.3" width="2.2" height="1" opacity="0.27"/><rect x="85.4" y="206.7" width="0.9" height="1" opacity="0.13"/><rect x="76.8" y="260.1" width="1.9" height="1" opacity="0.11"/><rect x="61.8" y="184.5" width="2.1" height="1" opacity="0.19"/><rect x="62.2" y="270.3" width="1.0" height="1" opacity="0.11"/><rect x="103.0" y="289.3" width="2.1" height="1" opacity="0.29"/><rect x="77.4" y="277.4" width="1.6" height="1" opacity="0.27"/><rect x="77.3" y="196.8" width="2.2" height="1" opacity="0.10"/><rect x="100.8" y="295.8" width="2.1" height="1" opacity="0.28"/><rect x="85.2" y="341.0" width="1.6" height="1" opacity="0.28"/><rect x="73.0" y="206.7" width="1.4" height="1" opacity="0.17"/><rect x="94.1" y="326.5" width="1.0" height="1" opacity="0.18"/><rect x="79.7" y="341.8" width="2.1" height="1" opacity="0.12"/><rect x="102.9" y="274.1" width="0.9" height="1" opacity="0.15"/><rect x="85.1" y="265.1" width="1.3" height="1" opacity="0.17"/><rect x="63.0" y="278.5" width="1.6" height="1" opacity="0.30"/><rect x="81.2" y="209.1" width="1.0" height="1" opacity="0.13"/><rect x="97.6" y="314.6" width="1.7" height="1" opacity="0.13"/><rect x="79.9" y="209.7" width="1.9" height="1" opacity="0.29"/><rect x="87.8" y="200.6" width="2.2" height="1" opacity="0.15"/><rect x="92.2" y="199.1" width="2.1" height="1" opacity="0.18"/><rect x="65.6" y="283.1" width="1.5" height="1" opacity="0.20"/><rect x="98.3" y="270.6" width="2.1" height="1" opacity="0.26"/><rect x="70.7" y="230.4" width="1.2" height="1" opacity="0.21"/><rect x="84.8" y="250.2" width="2.3" height="1" opacity="0.14"/><rect x="102.6" y="273.4" width="1.0" height="1" opacity="0.30"/><rect x="99.1" y="197.0" width="1.9" height="1" opacity="0.15"/><rect x="81.8" y="217.3" width="0.9" height="1" opacity="0.26"/><rect x="70.4" y="288.0" width="1.4" height="1" opacity="0.12"/><rect x="66.5" y="268.6" width="1.1" height="1" opacity="0.18"/><rect x="67.1" y="316.1" width="1.9" height="1" opacity="0.24"/><rect x="51.7" y="240.3" width="2.4" height="1" opacity="0.20"/><rect x="77.9" y="302.0" width="1.4" height="1" opacity="0.22"/><rect x="55.6" y="294.4" width="1.4" height="1" opacity="0.15"/><rect x="101.1" y="295.5" width="2.2" height="1" opacity="0.14"/><rect x="90.4" y="190.2" width="1.1" height="1" opacity="0.12"/><rect x="90.2" y="237.9" width="2.3" height="1" opacity="0.14"/><rect x="81.2" y="314.3" width="2.4" height="1" opacity="0.23"/><rect x="69.8" y="195.8" width="1.8" height="1" opacity="0.12"/><rect x="71.0" y="218.2" width="1.2" height="1" opacity="0.11"/><rect x="57.9" y="206.7" width="1.3" height="1" opacity="0.16"/><rect x="103.0" y="261.9" width="1.5" height="1" opacity="0.12"/><rect x="57.3" y="237.1" width="2.0" height="1" opacity="0.22"/><rect x="86.2" y="215.9" width="1.7" height="1" opacity="0.26"/><rect x="75.4" y="236.4" width="1.9" height="1" opacity="0.28"/><rect x="93.5" y="209.5" width="0.9" height="1" opacity="0.24"/><rect x="57.4" y="305.9" width="2.0" height="1" opacity="0.26"/><rect x="73.6" y="329.1" width="2.0" height="1" opacity="0.27"/><rect x="100.7" y="239.7" width="2.2" height="1" opacity="0.24"/><rect x="87.3" y="246.5" width="2.0" height="1" opacity="0.23"/><rect x="56.0" y="324.2" width="1.0" height="1" opacity="0.16"/><rect x="57.4" y="337.3" width="1.1" height="1" opacity="0.15"/><rect x="71.6" y="328.9" width="2.4" height="1" opacity="0.14"/><rect x="87.3" y="262.6" width="1.5" height="1" opacity="0.26"/><rect x="77.1" y="260.5" width="1.7" height="1" opacity="0.27"/><rect x="91.0" y="234.5" width="0.8" height="1" opacity="0.26"/><rect x="84.5" y="243.2" width="2.2" height="1" opacity="0.24"/><rect x="74.0" y="278.2" width="1.6" height="1" opacity="0.25"/><rect x="57.8" y="297.1" width="1.5" height="1" opacity="0.12"/><rect x="75.9" y="285.3" width="1.4" height="1" opacity="0.18"/><rect x="52.4" y="333.1" width="2.2" height="1" opacity="0.15"/><rect x="62.9" y="216.2" width="2.3" height="1" opacity="0.11"/><rect x="59.5" y="249.3" width="1.7" height="1" opacity="0.18"/></g>
<g fill="#000"><rect x="110.1" y="180.5" width="53.8" height="1" opacity="0.062"/><rect x="110.1" y="184.5" width="53.8" height="1" opacity="0.157"/><rect x="110.1" y="186.5" width="53.8" height="1" opacity="0.097"/><rect x="110.1" y="191.5" width="53.8" height="1" opacity="0.067"/><rect x="110.1" y="192.5" width="53.8" height="1" opacity="0.153"/><rect x="110.1" y="195.5" width="53.8" height="1" opacity="0.057"/><rect x="110.1" y="196.5" width="53.8" height="1" opacity="0.057"/><rect x="110.1" y="199.5" width="53.8" height="1" opacity="0.050"/><rect x="110.1" y="205.5" width="53.8" height="1" opacity="0.077"/><rect x="110.1" y="206.5" width="53.8" height="1" opacity="0.135"/><rect x="110.1" y="208.5" width="53.8" height="1" opacity="0.098"/><rect x="110.1" y="209.5" width="53.8" height="1" opacity="0.045"/><rect x="110.1" y="210.5" width="53.8" height="1" opacity="0.123"/><rect x="110.1" y="212.5" width="53.8" height="1" opacity="0.078"/><rect x="110.1" y="215.5" width="53.8" height="1" opacity="0.045"/><rect x="110.1" y="217.5" width="53.8" height="1" opacity="0.116"/><rect x="110.1" y="221.5" width="53.8" height="1" opacity="0.080"/><rect x="110.1" y="227.5" width="53.8" height="1" opacity="0.057"/><rect x="110.1" y="229.5" width="53.8" height="1" opacity="0.108"/><rect x="110.1" y="231.5" width="53.8" height="1" opacity="0.090"/><rect x="110.1" y="235.5" width="53.8" height="1" opacity="0.034"/><rect x="110.1" y="238.5" width="53.8" height="1" opacity="0.069"/><rect x="110.1" y="240.5" width="53.8" height="1" opacity="0.126"/><rect x="110.1" y="242.5" width="53.8" height="1" opacity="0.073"/><rect x="110.1" y="243.5" width="53.8" height="1" opacity="0.120"/><rect x="110.1" y="250.5" width="53.8" height="1" opacity="0.097"/><rect x="110.1" y="254.5" width="53.8" height="1" opacity="0.044"/><rect x="110.1" y="255.5" width="53.8" height="1" opacity="0.095"/><rect x="110.1" y="256.5" width="53.8" height="1" opacity="0.118"/><rect x="110.1" y="258.5" width="53.8" height="1" opacity="0.113"/><rect x="110.1" y="259.5" width="53.8" height="1" opacity="0.051"/><rect x="110.1" y="260.5" width="53.8" height="1" opacity="0.044"/><rect x="110.1" y="263.5" width="53.8" height="1" opacity="0.069"/><rect x="110.1" y="270.5" width="53.8" height="1" opacity="0.044"/><rect x="110.1" y="272.5" width="53.8" height="1" opacity="0.108"/><rect x="110.1" y="273.5" width="53.8" height="1" opacity="0.055"/><rect x="110.1" y="274.5" width="53.8" height="1" opacity="0.114"/><rect x="110.1" y="276.5" width="53.8" height="1" opacity="0.044"/><rect x="110.1" y="281.5" width="53.8" height="1" opacity="0.059"/><rect x="110.1" y="283.5" width="53.8" height="1" opacity="0.060"/><rect x="110.1" y="284.5" width="53.8" height="1" opacity="0.056"/><rect x="110.1" y="285.5" width="53.8" height="1" opacity="0.060"/><rect x="110.1" y="287.5" width="53.8" height="1" opacity="0.031"/><rect x="110.1" y="295.5" width="53.8" height="1" opacity="0.043"/><rect x="110.1" y="297.5" width="53.8" height="1" opacity="0.097"/><rect x="110.1" y="298.5" width="53.8" height="1" opacity="0.078"/><rect x="110.1" y="303.5" width="53.8" height="1" opacity="0.049"/><rect x="110.1" y="304.5" width="53.8" height="1" opacity="0.063"/><rect x="110.1" y="306.5" width="53.8" height="1" opacity="0.027"/><rect x="110.1" y="307.5" width="53.8" height="1" opacity="0.032"/><rect x="110.1" y="311.5" width="53.8" height="1" opacity="0.065"/><rect x="110.1" y="312.5" width="53.8" height="1" opacity="0.073"/><rect x="110.1" y="313.5" width="53.8" height="1" opacity="0.029"/><rect x="110.1" y="318.5" width="53.8" height="1" opacity="0.093"/><rect x="110.1" y="319.5" width="53.8" height="1" opacity="0.087"/><rect x="110.1" y="322.5" width="53.8" height="1" opacity="0.090"/><rect x="110.1" y="324.5" width="53.8" height="1" opacity="0.025"/><rect x="110.1" y="327.5" width="53.8" height="1" opacity="0.027"/><rect x="110.1" y="328.5" width="53.8" height="1" opacity="0.055"/><rect x="110.1" y="329.5" width="53.8" height="1" opacity="0.043"/><rect x="110.1" y="330.5" width="53.8" height="1" opacity="0.031"/><rect x="110.1" y="332.5" width="53.8" height="1" opacity="0.025"/><rect x="110.1" y="333.5" width="53.8" height="1" opacity="0.067"/><rect x="110.1" y="334.5" width="53.8" height="1" opacity="0.076"/><rect x="110.1" y="340.5" width="53.8" height="1" opacity="0.075"/><rect x="110.1" y="344.5" width="53.8" height="1" opacity="0.040"/><rect x="110.1" y="346.5" width="53.8" height="1" opacity="0.051"/><rect x="170.6" y="183.5" width="54.0" height="1" opacity="0.051"/><rect x="170.6" y="185.5" width="54.0" height="1" opacity="0.148"/><rect x="170.6" y="189.5" width="54.0" height="1" opacity="0.152"/><rect x="170.6" y="191.5" width="54.0" height="1" opacity="0.095"/><rect x="170.6" y="197.5" width="54.0" height="1" opacity="0.055"/><rect x="170.6" y="203.5" width="54.0" height="1" opacity="0.042"/><rect x="170.6" y="207.5" width="54.0" height="1" opacity="0.084"/><rect x="170.6" y="210.5" width="54.0" height="1" opacity="0.039"/><rect x="170.6" y="211.5" width="54.0" height="1" opacity="0.054"/><rect x="170.6" y="213.5" width="54.0" height="1" opacity="0.128"/><rect x="170.6" y="216.5" width="54.0" height="1" opacity="0.115"/><rect x="170.6" y="217.5" width="54.0" height="1" opacity="0.051"/><rect x="170.6" y="222.5" width="54.0" height="1" opacity="0.135"/><rect x="170.6" y="233.5" width="54.0" height="1" opacity="0.090"/><rect x="170.6" y="236.5" width="54.0" height="1" opacity="0.097"/><rect x="170.6" y="238.5" width="54.0" height="1" opacity="0.081"/><rect x="170.6" y="239.5" width="54.0" height="1" opacity="0.106"/><rect x="170.6" y="248.5" width="54.0" height="1" opacity="0.062"/><rect x="170.6" y="250.5" width="54.0" height="1" opacity="0.045"/><rect x="170.6" y="251.5" width="54.0" height="1" opacity="0.082"/><rect x="170.6" y="252.5" width="54.0" height="1" opacity="0.058"/><rect x="170.6" y="253.5" width="54.0" height="1" opacity="0.086"/><rect x="170.6" y="255.5" width="54.0" height="1" opacity="0.049"/><rect x="170.6" y="257.5" width="54.0" height="1" opacity="0.063"/><rect x="170.6" y="258.5" width="54.0" height="1" opacity="0.037"/><rect x="170.6" y="260.5" width="54.0" height="1" opacity="0.059"/><rect x="170.6" y="267.5" width="54.0" height="1" opacity="0.089"/><rect x="170.6" y="268.5" width="54.0" height="1" opacity="0.051"/><rect x="170.6" y="270.5" width="54.0" height="1" opacity="0.055"/><rect x="170.6" y="272.5" width="54.0" height="1" opacity="0.070"/><rect x="170.6" y="274.5" width="54.0" height="1" opacity="0.098"/><rect x="170.6" y="284.5" width="54.0" height="1" opacity="0.049"/><rect x="170.6" y="285.5" width="54.0" height="1" opacity="0.059"/><rect x="170.6" y="286.5" width="54.0" height="1" opacity="0.077"/><rect x="170.6" y="288.5" width="54.0" height="1" opacity="0.084"/><rect x="170.6" y="296.5" width="54.0" height="1" opacity="0.047"/><rect x="170.6" y="299.5" width="54.0" height="1" opacity="0.081"/><rect x="170.6" y="300.5" width="54.0" height="1" opacity="0.093"/><rect x="170.6" y="303.5" width="54.0" height="1" opacity="0.072"/><rect x="170.6" y="304.5" width="54.0" height="1" opacity="0.037"/><rect x="170.6" y="308.5" width="54.0" height="1" opacity="0.044"/><rect x="170.6" y="310.5" width="54.0" height="1" opacity="0.048"/><rect x="170.6" y="311.5" width="54.0" height="1" opacity="0.026"/><rect x="170.6" y="314.5" width="54.0" height="1" opacity="0.057"/><rect x="170.6" y="315.5" width="54.0" height="1" opacity="0.032"/><rect x="170.6" y="316.5" width="54.0" height="1" opacity="0.094"/><rect x="170.6" y="317.5" width="54.0" height="1" opacity="0.030"/><rect x="170.6" y="319.5" width="54.0" height="1" opacity="0.076"/><rect x="170.6" y="321.5" width="54.0" height="1" opacity="0.088"/><rect x="170.6" y="325.5" width="54.0" height="1" opacity="0.088"/><rect x="170.6" y="326.5" width="54.0" height="1" opacity="0.080"/><rect x="170.6" y="329.5" width="54.0" height="1" opacity="0.083"/><rect x="170.6" y="332.5" width="54.0" height="1" opacity="0.050"/><rect x="170.6" y="342.5" width="54.0" height="1" opacity="0.026"/><rect x="170.6" y="343.5" width="54.0" height="1" opacity="0.081"/><rect x="170.6" y="345.5" width="54.0" height="1" opacity="0.079"/></g>
<g fill="#fff"><rect x="135.3" y="180.5" width="3.9" height="1.0" opacity="0.34"/><rect x="134.0" y="180.5" width="6.5" height="1.0" opacity="0.12"/><rect x="135.4" y="181.5" width="3.2" height="1.0" opacity="0.16"/><rect x="134.1" y="181.5" width="5.8" height="1.0" opacity="0.12"/><rect x="135.9" y="182.5" width="3.2" height="1.0" opacity="0.35"/><rect x="134.6" y="182.5" width="5.8" height="1.0" opacity="0.12"/><rect x="135.7" y="183.5" width="3.4" height="1.0" opacity="0.34"/><rect x="134.4" y="183.5" width="6.0" height="1.0" opacity="0.12"/><rect x="135.3" y="184.5" width="3.8" height="1.0" opacity="0.16"/><rect x="134.0" y="184.5" width="6.4" height="1.0" opacity="0.13"/><rect x="134.6" y="185.5" width="4.2" height="1.0" opacity="0.37"/><rect x="133.3" y="185.5" width="6.8" height="1.0" opacity="0.13"/><rect x="134.9" y="186.5" width="3.7" height="1.0" opacity="0.33"/><rect x="133.6" y="186.5" width="6.3" height="1.0" opacity="0.13"/><rect x="135.1" y="187.5" width="3.4" height="1.0" opacity="0.35"/><rect x="133.8" y="187.5" width="6.0" height="1.0" opacity="0.13"/><rect x="135.6" y="188.5" width="3.6" height="1.0" opacity="0.19"/><rect x="134.3" y="188.5" width="6.2" height="1.0" opacity="0.13"/><rect x="135.1" y="189.5" width="3.8" height="1.0" opacity="0.26"/><rect x="133.8" y="189.5" width="6.4" height="1.0" opacity="0.13"/><rect x="135.0" y="190.5" width="3.6" height="1.0" opacity="0.33"/><rect x="133.7" y="190.5" width="6.2" height="1.0" opacity="0.14"/><rect x="135.1" y="191.5" width="3.4" height="1.0" opacity="0.24"/><rect x="133.8" y="191.5" width="6.0" height="1.0" opacity="0.14"/><rect x="134.3" y="192.5" width="4.1" height="1.0" opacity="0.39"/><rect x="133.0" y="192.5" width="6.7" height="1.0" opacity="0.14"/><rect x="135.0" y="193.5" width="3.9" height="1.0" opacity="0.26"/><rect x="133.7" y="193.5" width="6.5" height="1.0" opacity="0.14"/><rect x="134.9" y="194.5" width="3.1" height="1.0" opacity="0.36"/><rect x="133.6" y="194.5" width="5.7" height="1.0" opacity="0.14"/><rect x="134.4" y="195.5" width="4.1" height="1.0" opacity="0.37"/><rect x="133.1" y="195.5" width="6.7" height="1.0" opacity="0.14"/><rect x="134.5" y="196.5" width="3.3" height="1.0" opacity="0.21"/><rect x="133.2" y="196.5" width="5.9" height="1.0" opacity="0.14"/><rect x="134.9" y="197.5" width="3.4" height="1.0" opacity="0.34"/><rect x="133.6" y="197.5" width="6.0" height="1.0" opacity="0.15"/><rect x="135.1" y="198.5" width="3.4" height="1.0" opacity="0.30"/><rect x="133.8" y="198.5" width="6.0" height="1.0" opacity="0.15"/><rect x="134.7" y="199.5" width="4.2" height="1.0" opacity="0.34"/><rect x="133.4" y="199.5" width="6.8" height="1.0" opacity="0.15"/><rect x="135.3" y="200.5" width="3.2" height="1.0" opacity="0.36"/><rect x="134.0" y="200.5" width="5.8" height="1.0" opacity="0.15"/><rect x="134.6" y="201.5" width="4.0" height="1.0" opacity="0.35"/><rect x="133.3" y="201.5" width="6.6" height="1.0" opacity="0.15"/><rect x="134.5" y="202.5" width="3.8" height="1.0" opacity="0.38"/><rect x="133.2" y="202.5" width="6.4" height="1.0" opacity="0.15"/><rect x="135.5" y="203.5" width="3.2" height="1.0" opacity="0.27"/><rect x="134.2" y="203.5" width="5.8" height="1.0" opacity="0.15"/><rect x="135.0" y="204.5" width="3.4" height="1.0" opacity="0.35"/><rect x="133.7" y="204.5" width="6.0" height="1.0" opacity="0.16"/><rect x="134.1" y="205.5" width="3.7" height="1.0" opacity="0.28"/><rect x="132.8" y="205.5" width="6.3" height="1.0" opacity="0.16"/><rect x="133.9" y="206.5" width="3.5" height="1.0" opacity="0.36"/><rect x="132.6" y="206.5" width="6.1" height="1.0" opacity="0.16"/><rect x="134.3" y="207.5" width="4.0" height="1.0" opacity="0.35"/><rect x="133.0" y="207.5" width="6.6" height="1.0" opacity="0.16"/><rect x="134.9" y="208.5" width="3.6" height="1.0" opacity="0.41"/><rect x="133.6" y="208.5" width="6.2" height="1.0" opacity="0.16"/><rect x="134.9" y="209.5" width="3.2" height="1.0" opacity="0.32"/><rect x="133.6" y="209.5" width="5.8" height="1.0" opacity="0.16"/><rect x="134.8" y="210.5" width="4.2" height="1.0" opacity="0.31"/><rect x="133.5" y="210.5" width="6.8" height="1.0" opacity="0.17"/><rect x="135.5" y="211.5" width="3.7" height="1.0" opacity="0.35"/><rect x="134.2" y="211.5" width="6.3" height="1.0" opacity="0.17"/><rect x="135.4" y="212.5" width="3.2" height="1.0" opacity="0.30"/><rect x="134.1" y="212.5" width="5.8" height="1.0" opacity="0.17"/><rect x="134.7" y="213.5" width="4.4" height="1.0" opacity="0.40"/><rect x="133.4" y="213.5" width="7.0" height="1.0" opacity="0.17"/><rect x="135.0" y="214.5" width="3.5" height="1.0" opacity="0.34"/><rect x="133.7" y="214.5" width="6.1" height="1.0" opacity="0.17"/><rect x="134.6" y="215.5" width="4.0" height="1.0" opacity="0.35"/><rect x="133.3" y="215.5" width="6.6" height="1.0" opacity="0.17"/><rect x="135.0" y="216.5" width="3.3" height="1.0" opacity="0.27"/><rect x="133.7" y="216.5" width="5.9" height="1.0" opacity="0.17"/><rect x="134.6" y="217.5" width="4.2" height="1.0" opacity="0.37"/><rect x="133.3" y="217.5" width="6.8" height="1.0" opacity="0.18"/><rect x="134.8" y="218.5" width="3.1" height="1.0" opacity="0.43"/><rect x="133.5" y="218.5" width="5.7" height="1.0" opacity="0.18"/><rect x="134.3" y="219.5" width="3.5" height="1.0" opacity="0.46"/><rect x="133.0" y="219.5" width="6.1" height="1.0" opacity="0.18"/><rect x="134.8" y="220.5" width="4.1" height="1.0" opacity="0.38"/><rect x="133.5" y="220.5" width="6.7" height="1.0" opacity="0.18"/><rect x="134.0" y="221.5" width="4.4" height="1.0" opacity="0.42"/><rect x="132.7" y="221.5" width="7.0" height="1.0" opacity="0.18"/><rect x="134.8" y="222.5" width="3.2" height="1.0" opacity="0.30"/><rect x="133.5" y="222.5" width="5.8" height="1.0" opacity="0.18"/><rect x="134.3" y="223.5" width="3.7" height="1.0" opacity="0.30"/><rect x="133.0" y="223.5" width="6.3" height="1.0" opacity="0.18"/><rect x="134.7" y="224.5" width="3.5" height="1.0" opacity="0.38"/><rect x="133.4" y="224.5" width="6.1" height="1.0" opacity="0.19"/><rect x="134.7" y="225.5" width="3.8" height="1.0" opacity="0.33"/><rect x="133.4" y="225.5" width="6.4" height="1.0" opacity="0.19"/><rect x="134.9" y="226.5" width="3.6" height="1.0" opacity="0.35"/><rect x="133.6" y="226.5" width="6.2" height="1.0" opacity="0.19"/><rect x="134.7" y="227.5" width="3.9" height="1.0" opacity="0.41"/><rect x="133.4" y="227.5" width="6.5" height="1.0" opacity="0.19"/><rect x="134.6" y="228.5" width="3.8" height="1.0" opacity="0.39"/><rect x="133.3" y="228.5" width="6.4" height="1.0" opacity="0.19"/><rect x="134.2" y="229.5" width="3.9" height="1.0" opacity="0.48"/><rect x="132.9" y="229.5" width="6.5" height="1.0" opacity="0.19"/><rect x="134.7" y="230.5" width="3.9" height="1.0" opacity="0.36"/><rect x="133.4" y="230.5" width="6.5" height="1.0" opacity="0.20"/><rect x="135.4" y="231.5" width="3.9" height="1.0" opacity="0.32"/><rect x="134.1" y="231.5" width="6.5" height="1.0" opacity="0.20"/><rect x="135.6" y="232.5" width="3.3" height="1.0" opacity="0.33"/><rect x="134.3" y="232.5" width="5.9" height="1.0" opacity="0.20"/><rect x="135.5" y="233.5" width="4.0" height="1.0" opacity="0.38"/><rect x="134.2" y="233.5" width="6.6" height="1.0" opacity="0.20"/><rect x="135.7" y="234.5" width="3.5" height="1.0" opacity="0.45"/><rect x="134.4" y="234.5" width="6.1" height="1.0" opacity="0.20"/><rect x="135.0" y="235.5" width="4.2" height="1.0" opacity="0.51"/><rect x="133.7" y="235.5" width="6.8" height="1.0" opacity="0.20"/><rect x="135.1" y="236.5" width="4.2" height="1.0" opacity="0.48"/><rect x="133.8" y="236.5" width="6.8" height="1.0" opacity="0.20"/><rect x="135.7" y="237.5" width="4.1" height="1.0" opacity="0.39"/><rect x="134.4" y="237.5" width="6.7" height="1.0" opacity="0.21"/><rect x="135.7" y="238.5" width="3.8" height="1.0" opacity="0.41"/><rect x="134.4" y="238.5" width="6.4" height="1.0" opacity="0.21"/><rect x="135.2" y="239.5" width="3.5" height="1.0" opacity="0.47"/><rect x="133.9" y="239.5" width="6.1" height="1.0" opacity="0.21"/><rect x="134.6" y="240.5" width="4.3" height="1.0" opacity="0.51"/><rect x="133.3" y="240.5" width="6.9" height="1.0" opacity="0.21"/><rect x="135.3" y="241.5" width="3.3" height="1.0" opacity="0.47"/><rect x="134.0" y="241.5" width="5.9" height="1.0" opacity="0.21"/><rect x="134.7" y="242.5" width="4.1" height="1.0" opacity="0.45"/><rect x="133.4" y="242.5" width="6.7" height="1.0" opacity="0.21"/><rect x="134.5" y="243.5" width="4.1" height="1.0" opacity="0.42"/><rect x="133.2" y="243.5" width="6.7" height="1.0" opacity="0.21"/><rect x="134.4" y="244.5" width="4.2" height="1.0" opacity="0.46"/><rect x="133.1" y="244.5" width="6.8" height="1.0" opacity="0.22"/><rect x="134.9" y="245.5" width="4.0" height="1.0" opacity="0.53"/><rect x="133.6" y="245.5" width="6.6" height="1.0" opacity="0.22"/><rect x="135.0" y="246.5" width="4.1" height="1.0" opacity="0.52"/><rect x="133.7" y="246.5" width="6.7" height="1.0" opacity="0.22"/><rect x="135.1" y="247.5" width="3.1" height="1.0" opacity="0.44"/><rect x="133.8" y="247.5" width="5.7" height="1.0" opacity="0.22"/><rect x="134.1" y="248.5" width="3.9" height="1.0" opacity="0.53"/><rect x="132.8" y="248.5" width="6.5" height="1.0" opacity="0.22"/><rect x="134.1" y="249.5" width="3.6" height="1.0" opacity="0.54"/><rect x="132.8" y="249.5" width="6.2" height="1.0" opacity="0.22"/><rect x="134.4" y="250.5" width="3.6" height="1.0" opacity="0.56"/><rect x="133.1" y="250.5" width="6.2" height="1.0" opacity="0.23"/><rect x="134.5" y="251.5" width="3.2" height="1.0" opacity="0.42"/><rect x="133.2" y="251.5" width="5.8" height="1.0" opacity="0.23"/><rect x="134.1" y="252.5" width="4.0" height="1.0" opacity="0.40"/><rect x="132.8" y="252.5" width="6.6" height="1.0" opacity="0.23"/><rect x="134.7" y="253.5" width="3.1" height="1.0" opacity="0.44"/><rect x="133.4" y="253.5" width="5.7" height="1.0" opacity="0.23"/><rect x="134.7" y="254.5" width="3.1" height="1.0" opacity="0.58"/><rect x="133.4" y="254.5" width="5.7" height="1.0" opacity="0.23"/><rect x="134.6" y="255.5" width="3.6" height="1.0" opacity="0.48"/><rect x="133.3" y="255.5" width="6.2" height="1.0" opacity="0.23"/><rect x="134.9" y="256.5" width="3.3" height="1.0" opacity="0.44"/><rect x="133.6" y="256.5" width="5.9" height="1.0" opacity="0.23"/><rect x="134.7" y="257.5" width="4.0" height="1.0" opacity="0.44"/><rect x="133.4" y="257.5" width="6.6" height="1.0" opacity="0.24"/><rect x="134.9" y="258.5" width="3.8" height="1.0" opacity="0.58"/><rect x="133.6" y="258.5" width="6.4" height="1.0" opacity="0.24"/><rect x="135.4" y="259.5" width="3.7" height="1.0" opacity="0.55"/><rect x="134.1" y="259.5" width="6.3" height="1.0" opacity="0.24"/><rect x="135.0" y="260.5" width="3.4" height="1.0" opacity="0.58"/><rect x="133.7" y="260.5" width="6.0" height="1.0" opacity="0.24"/><rect x="134.7" y="261.5" width="3.7" height="1.0" opacity="0.53"/><rect x="133.4" y="261.5" width="6.3" height="1.0" opacity="0.24"/><rect x="134.6" y="262.5" width="4.4" height="1.0" opacity="0.58"/><rect x="133.3" y="262.5" width="7.0" height="1.0" opacity="0.24"/><rect x="135.2" y="263.5" width="3.5" height="1.0" opacity="0.50"/><rect x="133.9" y="263.5" width="6.1" height="1.0" opacity="0.24"/><rect x="134.7" y="264.5" width="3.9" height="1.0" opacity="0.44"/><rect x="133.4" y="264.5" width="6.5" height="1.0" opacity="0.25"/><rect x="134.6" y="265.5" width="3.6" height="1.0" opacity="0.62"/><rect x="133.3" y="265.5" width="6.2" height="1.0" opacity="0.25"/><rect x="134.7" y="266.5" width="3.8" height="1.0" opacity="0.53"/><rect x="133.4" y="266.5" width="6.4" height="1.0" opacity="0.25"/><rect x="134.6" y="267.5" width="3.2" height="1.0" opacity="0.54"/><rect x="133.3" y="267.5" width="5.8" height="1.0" opacity="0.25"/><rect x="135.2" y="268.5" width="3.4" height="1.0" opacity="0.56"/><rect x="133.9" y="268.5" width="6.0" height="1.0" opacity="0.25"/><rect x="134.8" y="269.5" width="3.4" height="1.0" opacity="0.47"/><rect x="133.5" y="269.5" width="6.0" height="1.0" opacity="0.25"/><rect x="134.2" y="270.5" width="3.8" height="1.0" opacity="0.51"/><rect x="132.9" y="270.5" width="6.4" height="1.0" opacity="0.26"/><rect x="134.4" y="271.5" width="3.2" height="1.0" opacity="0.51"/><rect x="133.1" y="271.5" width="5.8" height="1.0" opacity="0.26"/><rect x="134.6" y="272.5" width="3.6" height="1.0" opacity="0.64"/><rect x="133.3" y="272.5" width="6.2" height="1.0" opacity="0.26"/><rect x="134.3" y="273.5" width="4.2" height="1.0" opacity="0.62"/><rect x="133.0" y="273.5" width="6.8" height="1.0" opacity="0.26"/><rect x="134.5" y="274.5" width="4.0" height="1.0" opacity="0.61"/><rect x="133.2" y="274.5" width="6.6" height="1.0" opacity="0.26"/><rect x="133.6" y="275.5" width="4.3" height="1.0" opacity="0.58"/><rect x="132.3" y="275.5" width="6.9" height="1.0" opacity="0.26"/><rect x="134.4" y="276.5" width="3.8" height="1.0" opacity="0.48"/><rect x="133.1" y="276.5" width="6.4" height="1.0" opacity="0.26"/><rect x="134.4" y="277.5" width="4.1" height="1.0" opacity="0.52"/><rect x="133.1" y="277.5" width="6.7" height="1.0" opacity="0.27"/><rect x="134.6" y="278.5" width="3.7" height="1.0" opacity="0.66"/><rect x="133.3" y="278.5" width="6.3" height="1.0" opacity="0.27"/><rect x="134.0" y="279.5" width="4.4" height="1.0" opacity="0.66"/><rect x="132.7" y="279.5" width="7.0" height="1.0" opacity="0.27"/><rect x="134.0" y="280.5" width="3.9" height="1.0" opacity="0.48"/><rect x="132.7" y="280.5" width="6.5" height="1.0" opacity="0.27"/><rect x="134.1" y="281.5" width="3.9" height="1.0" opacity="0.53"/><rect x="132.8" y="281.5" width="6.5" height="1.0" opacity="0.27"/><rect x="133.9" y="282.5" width="3.5" height="1.0" opacity="0.52"/><rect x="132.6" y="282.5" width="6.1" height="1.0" opacity="0.27"/><rect x="134.1" y="283.5" width="4.4" height="1.0" opacity="0.53"/><rect x="132.8" y="283.5" width="7.0" height="1.0" opacity="0.27"/><rect x="134.5" y="284.5" width="3.3" height="1.0" opacity="0.65"/><rect x="133.2" y="284.5" width="5.9" height="1.0" opacity="0.28"/><rect x="134.6" y="285.5" width="3.5" height="1.0" opacity="0.64"/><rect x="133.3" y="285.5" width="6.1" height="1.0" opacity="0.28"/><rect x="134.7" y="286.5" width="4.0" height="1.0" opacity="0.66"/><rect x="133.4" y="286.5" width="6.6" height="1.0" opacity="0.28"/><rect x="134.3" y="287.5" width="4.3" height="1.0" opacity="0.63"/><rect x="133.0" y="287.5" width="6.9" height="1.0" opacity="0.28"/><rect x="134.0" y="288.5" width="4.4" height="1.0" opacity="0.67"/><rect x="132.7" y="288.5" width="7.0" height="1.0" opacity="0.28"/><rect x="135.0" y="289.5" width="3.5" height="1.0" opacity="0.53"/><rect x="133.7" y="289.5" width="6.1" height="1.0" opacity="0.28"/><rect x="134.9" y="290.5" width="3.1" height="1.0" opacity="0.65"/><rect x="133.6" y="290.5" width="5.7" height="1.0" opacity="0.29"/><rect x="134.6" y="291.5" width="4.2" height="1.0" opacity="0.65"/><rect x="133.3" y="291.5" width="6.8" height="1.0" opacity="0.29"/><rect x="134.8" y="292.5" width="3.6" height="1.0" opacity="0.65"/><rect x="133.5" y="292.5" width="6.2" height="1.0" opacity="0.29"/><rect x="134.7" y="293.5" width="3.1" height="1.0" opacity="0.64"/><rect x="133.4" y="293.5" width="5.7" height="1.0" opacity="0.29"/><rect x="134.9" y="294.5" width="3.5" height="1.0" opacity="0.57"/><rect x="133.6" y="294.5" width="6.1" height="1.0" opacity="0.29"/><rect x="134.9" y="295.5" width="4.0" height="1.0" opacity="0.61"/><rect x="133.6" y="295.5" width="6.6" height="1.0" opacity="0.29"/><rect x="134.8" y="296.5" width="4.3" height="1.0" opacity="0.67"/><rect x="133.5" y="296.5" width="6.9" height="1.0" opacity="0.29"/><rect x="135.3" y="297.5" width="3.9" height="1.0" opacity="0.67"/><rect x="134.0" y="297.5" width="6.5" height="1.0" opacity="0.30"/><rect x="135.2" y="298.5" width="4.3" height="1.0" opacity="0.60"/><rect x="133.9" y="298.5" width="6.9" height="1.0" opacity="0.30"/><rect x="135.6" y="299.5" width="3.9" height="1.0" opacity="0.57"/><rect x="134.3" y="299.5" width="6.5" height="1.0" opacity="0.30"/><rect x="135.6" y="300.5" width="3.4" height="1.0" opacity="0.57"/><rect x="134.3" y="300.5" width="6.0" height="1.0" opacity="0.30"/><rect x="135.0" y="301.5" width="3.8" height="1.0" opacity="0.63"/><rect x="133.7" y="301.5" width="6.4" height="1.0" opacity="0.30"/><rect x="135.0" y="302.5" width="4.3" height="1.0" opacity="0.68"/><rect x="133.7" y="302.5" width="6.9" height="1.0" opacity="0.30"/><rect x="135.4" y="303.5" width="3.1" height="1.0" opacity="0.69"/><rect x="134.1" y="303.5" width="5.7" height="1.0" opacity="0.30"/><rect x="134.8" y="304.5" width="3.9" height="1.0" opacity="0.68"/><rect x="133.5" y="304.5" width="6.5" height="1.0" opacity="0.31"/><rect x="134.9" y="305.5" width="3.2" height="1.0" opacity="0.67"/><rect x="133.6" y="305.5" width="5.8" height="1.0" opacity="0.31"/><rect x="134.5" y="306.5" width="4.3" height="1.0" opacity="0.59"/><rect x="133.2" y="306.5" width="6.9" height="1.0" opacity="0.31"/><rect x="134.7" y="307.5" width="3.7" height="1.0" opacity="0.64"/><rect x="133.4" y="307.5" width="6.3" height="1.0" opacity="0.31"/><rect x="135.1" y="308.5" width="3.3" height="1.0" opacity="0.65"/><rect x="133.8" y="308.5" width="5.9" height="1.0" opacity="0.31"/><rect x="135.4" y="309.5" width="3.2" height="1.0" opacity="0.63"/><rect x="134.1" y="309.5" width="5.8" height="1.0" opacity="0.31"/><rect x="134.8" y="310.5" width="3.9" height="1.0" opacity="0.76"/><rect x="133.5" y="310.5" width="6.5" height="1.0" opacity="0.32"/><rect x="135.1" y="311.5" width="3.3" height="1.0" opacity="0.73"/><rect x="133.8" y="311.5" width="5.9" height="1.0" opacity="0.32"/><rect x="135.6" y="312.5" width="3.3" height="1.0" opacity="0.65"/><rect x="134.3" y="312.5" width="5.9" height="1.0" opacity="0.32"/><rect x="135.7" y="313.5" width="3.9" height="1.0" opacity="0.64"/><rect x="134.4" y="313.5" width="6.5" height="1.0" opacity="0.32"/><rect x="135.7" y="314.5" width="3.3" height="1.0" opacity="0.68"/><rect x="134.4" y="314.5" width="5.9" height="1.0" opacity="0.32"/><rect x="135.2" y="315.5" width="3.8" height="1.0" opacity="0.61"/><rect x="133.9" y="315.5" width="6.4" height="1.0" opacity="0.32"/><rect x="134.9" y="316.5" width="4.2" height="1.0" opacity="0.76"/><rect x="133.6" y="316.5" width="6.8" height="1.0" opacity="0.32"/><rect x="134.7" y="317.5" width="4.1" height="1.0" opacity="0.62"/><rect x="133.4" y="317.5" width="6.7" height="1.0" opacity="0.33"/><rect x="135.3" y="318.5" width="3.1" height="1.0" opacity="0.67"/><rect x="134.0" y="318.5" width="5.7" height="1.0" opacity="0.33"/><rect x="134.9" y="319.5" width="4.1" height="1.0" opacity="0.80"/><rect x="133.6" y="319.5" width="6.7" height="1.0" opacity="0.33"/><rect x="135.1" y="320.5" width="3.6" height="1.0" opacity="0.77"/><rect x="133.8" y="320.5" width="6.2" height="1.0" opacity="0.33"/><rect x="135.3" y="321.5" width="3.5" height="1.0" opacity="0.75"/><rect x="134.0" y="321.5" width="6.1" height="1.0" opacity="0.33"/><rect x="135.1" y="322.5" width="3.3" height="1.0" opacity="0.78"/><rect x="133.8" y="322.5" width="5.9" height="1.0" opacity="0.33"/><rect x="135.6" y="323.5" width="3.2" height="1.0" opacity="0.75"/><rect x="134.3" y="323.5" width="5.8" height="1.0" opacity="0.33"/><rect x="134.9" y="324.5" width="3.4" height="1.0" opacity="0.69"/><rect x="133.6" y="324.5" width="6.0" height="1.0" opacity="0.34"/><rect x="135.1" y="325.5" width="3.2" height="1.0" opacity="0.78"/><rect x="133.8" y="325.5" width="5.8" height="1.0" opacity="0.34"/><rect x="135.8" y="326.5" width="3.9" height="1.0" opacity="0.76"/><rect x="134.5" y="326.5" width="6.5" height="1.0" opacity="0.34"/><rect x="136.0" y="327.5" width="3.4" height="1.0" opacity="0.75"/><rect x="134.7" y="327.5" width="6.0" height="1.0" opacity="0.34"/><rect x="135.6" y="328.5" width="3.3" height="1.0" opacity="0.72"/><rect x="134.3" y="328.5" width="5.9" height="1.0" opacity="0.34"/><rect x="134.9" y="329.5" width="4.0" height="1.0" opacity="0.76"/><rect x="133.6" y="329.5" width="6.6" height="1.0" opacity="0.34"/><rect x="134.4" y="330.5" width="4.2" height="1.0" opacity="0.82"/><rect x="133.1" y="330.5" width="6.8" height="1.0" opacity="0.35"/><rect x="134.7" y="331.5" width="3.7" height="1.0" opacity="0.70"/><rect x="133.4" y="331.5" width="6.3" height="1.0" opacity="0.35"/><rect x="134.9" y="332.5" width="3.8" height="1.0" opacity="0.70"/><rect x="133.6" y="332.5" width="6.4" height="1.0" opacity="0.35"/><rect x="134.7" y="333.5" width="4.1" height="1.0" opacity="0.79"/><rect x="133.4" y="333.5" width="6.7" height="1.0" opacity="0.35"/><rect x="134.9" y="334.5" width="3.7" height="1.0" opacity="0.77"/><rect x="133.6" y="334.5" width="6.3" height="1.0" opacity="0.35"/><rect x="135.1" y="335.5" width="3.6" height="1.0" opacity="0.72"/><rect x="133.8" y="335.5" width="6.2" height="1.0" opacity="0.35"/><rect x="135.6" y="336.5" width="4.0" height="1.0" opacity="0.84"/><rect x="134.3" y="336.5" width="6.6" height="1.0" opacity="0.35"/><rect x="135.7" y="337.5" width="3.8" height="1.0" opacity="0.79"/><rect x="134.4" y="337.5" width="6.4" height="1.0" opacity="0.36"/><rect x="135.5" y="338.5" width="3.8" height="1.0" opacity="0.72"/><rect x="134.2" y="338.5" width="6.4" height="1.0" opacity="0.36"/><rect x="134.9" y="339.5" width="4.1" height="1.0" opacity="0.70"/><rect x="133.6" y="339.5" width="6.7" height="1.0" opacity="0.36"/><rect x="135.2" y="340.5" width="4.0" height="1.0" opacity="0.80"/><rect x="133.9" y="340.5" width="6.6" height="1.0" opacity="0.36"/><rect x="135.0" y="341.5" width="3.8" height="1.0" opacity="0.69"/><rect x="133.7" y="341.5" width="6.4" height="1.0" opacity="0.36"/><rect x="134.7" y="342.5" width="3.7" height="1.0" opacity="0.87"/><rect x="133.4" y="342.5" width="6.3" height="1.0" opacity="0.36"/><rect x="134.8" y="343.5" width="3.7" height="1.0" opacity="0.78"/><rect x="133.5" y="343.5" width="6.3" height="1.0" opacity="0.36"/><rect x="134.6" y="344.5" width="4.0" height="1.0" opacity="0.75"/><rect x="133.3" y="344.5" width="6.6" height="1.0" opacity="0.37"/><rect x="134.4" y="345.5" width="4.0" height="1.0" opacity="0.85"/><rect x="133.1" y="345.5" width="6.6" height="1.0" opacity="0.37"/><rect x="134.5" y="346.5" width="3.8" height="0.5" opacity="0.82"/><rect x="133.2" y="346.5" width="6.4" height="0.5" opacity="0.37"/></g>
<g fill="#000"><rect x="194.7" y="180.5" width="5.5" height="1.0" opacity="0.49"/><rect x="193.2" y="180.5" width="8.5" height="1.0" opacity="0.26"/><rect x="194.4" y="181.5" width="5.0" height="1.0" opacity="0.78"/><rect x="192.9" y="181.5" width="8.0" height="1.0" opacity="0.26"/><rect x="193.6" y="182.5" width="4.9" height="1.0" opacity="0.51"/><rect x="192.1" y="182.5" width="7.9" height="1.0" opacity="0.26"/><rect x="194.3" y="183.5" width="5.1" height="1.0" opacity="0.59"/><rect x="192.8" y="183.5" width="8.1" height="1.0" opacity="0.25"/><rect x="193.9" y="184.5" width="5.5" height="1.0" opacity="0.47"/><rect x="192.4" y="184.5" width="8.5" height="1.0" opacity="0.25"/><rect x="193.9" y="185.5" width="5.1" height="1.0" opacity="0.43"/><rect x="192.4" y="185.5" width="8.1" height="1.0" opacity="0.21"/><rect x="195.0" y="186.5" width="3.3" height="1.0" opacity="0.71"/><rect x="193.5" y="186.5" width="6.3" height="1.0" opacity="0.20"/><rect x="196.3" y="187.5" width="2.1" height="1.0" opacity="0.58"/><rect x="194.8" y="187.5" width="5.1" height="1.0" opacity="0.20"/><rect x="195.6" y="188.5" width="2.9" height="1.0" opacity="0.65"/><rect x="194.1" y="188.5" width="5.9" height="1.0" opacity="0.20"/><rect x="196.0" y="189.5" width="2.3" height="1.0" opacity="0.45"/><rect x="194.5" y="189.5" width="5.3" height="1.0" opacity="0.19"/><rect x="196.1" y="190.5" width="3.4" height="1.0" opacity="0.66"/><rect x="194.6" y="190.5" width="6.4" height="1.0" opacity="0.19"/><rect x="196.7" y="191.5" width="2.6" height="1.0" opacity="0.55"/><rect x="195.2" y="191.5" width="5.6" height="1.0" opacity="0.19"/><rect x="195.8" y="192.5" width="3.0" height="1.0" opacity="0.38"/><rect x="194.3" y="192.5" width="6.0" height="1.0" opacity="0.18"/><rect x="196.7" y="193.5" width="2.1" height="1.0" opacity="0.49"/><rect x="195.2" y="193.5" width="5.1" height="1.0" opacity="0.18"/><rect x="196.1" y="194.5" width="2.5" height="1.0" opacity="0.44"/><rect x="194.6" y="194.5" width="5.5" height="1.0" opacity="0.18"/><rect x="196.6" y="195.5" width="2.3" height="1.0" opacity="0.44"/><rect x="195.1" y="195.5" width="5.3" height="1.0" opacity="0.18"/><rect x="196.3" y="196.5" width="3.5" height="1.0" opacity="0.33"/><rect x="194.8" y="196.5" width="6.5" height="1.0" opacity="0.17"/><rect x="196.1" y="197.5" width="2.4" height="1.0" opacity="0.46"/><rect x="194.6" y="197.5" width="5.4" height="1.0" opacity="0.17"/><rect x="196.0" y="198.5" width="2.2" height="1.0" opacity="0.59"/><rect x="194.5" y="198.5" width="5.2" height="1.0" opacity="0.17"/><rect x="196.0" y="199.5" width="3.2" height="1.0" opacity="0.29"/><rect x="194.5" y="199.5" width="6.2" height="1.0" opacity="0.16"/><rect x="195.9" y="200.5" width="2.4" height="1.0" opacity="0.58"/><rect x="194.4" y="200.5" width="5.4" height="1.0" opacity="0.16"/><rect x="195.4" y="201.5" width="3.1" height="1.0" opacity="0.56"/><rect x="193.9" y="201.5" width="6.1" height="1.0" opacity="0.16"/><rect x="195.8" y="202.5" width="2.1" height="1.0" opacity="0.29"/><rect x="194.3" y="202.5" width="5.1" height="1.0" opacity="0.16"/><rect x="194.7" y="203.5" width="3.1" height="1.0" opacity="0.41"/><rect x="193.2" y="203.5" width="6.1" height="1.0" opacity="0.15"/><rect x="196.7" y="204.5" width="2.7" height="1.0" opacity="0.42"/><rect x="195.2" y="204.5" width="5.7" height="1.0" opacity="0.15"/><rect x="196.5" y="205.5" width="2.2" height="1.0" opacity="0.30"/><rect x="195.0" y="205.5" width="5.2" height="1.0" opacity="0.15"/><rect x="196.8" y="206.5" width="2.5" height="1.0" opacity="0.34"/><rect x="195.3" y="206.5" width="5.5" height="1.0" opacity="0.15"/><rect x="196.8" y="207.5" width="3.5" height="1.0" opacity="0.44"/><rect x="195.3" y="207.5" width="6.5" height="1.0" opacity="0.14"/><rect x="197.4" y="208.5" width="2.2" height="1.0" opacity="0.27"/><rect x="195.9" y="208.5" width="5.2" height="1.0" opacity="0.14"/><rect x="197.2" y="209.5" width="2.2" height="1.0" opacity="0.46"/><rect x="195.7" y="209.5" width="5.2" height="1.0" opacity="0.14"/><rect x="196.9" y="210.5" width="2.2" height="1.0" opacity="0.31"/><rect x="195.4" y="210.5" width="5.2" height="1.0" opacity="0.13"/><rect x="196.2" y="211.5" width="2.3" height="1.0" opacity="0.47"/><rect x="194.7" y="211.5" width="5.3" height="1.0" opacity="0.13"/><rect x="196.0" y="212.5" width="3.1" height="1.0" opacity="0.32"/><rect x="194.5" y="212.5" width="6.1" height="1.0" opacity="0.13"/><rect x="196.8" y="213.5" width="2.1" height="1.0" opacity="0.34"/><rect x="195.3" y="213.5" width="5.1" height="1.0" opacity="0.13"/><rect x="197.0" y="214.5" width="2.6" height="1.0" opacity="0.43"/><rect x="195.5" y="214.5" width="5.6" height="1.0" opacity="0.12"/><rect x="196.5" y="215.5" width="3.2" height="1.0" opacity="0.40"/><rect x="195.0" y="215.5" width="6.2" height="1.0" opacity="0.12"/><rect x="197.0" y="216.5" width="2.8" height="1.0" opacity="0.26"/><rect x="195.5" y="216.5" width="5.8" height="1.0" opacity="0.12"/><rect x="196.8" y="217.5" width="2.7" height="1.0" opacity="0.37"/><rect x="195.3" y="217.5" width="5.7" height="1.0" opacity="0.12"/><rect x="197.5" y="218.5" width="2.3" height="1.0" opacity="0.29"/><rect x="196.0" y="218.5" width="5.3" height="1.0" opacity="0.11"/><rect x="197.2" y="219.5" width="2.3" height="1.0" opacity="0.19"/><rect x="195.7" y="219.5" width="5.3" height="1.0" opacity="0.11"/><rect x="195.5" y="220.5" width="3.6" height="1.0" opacity="0.35"/><rect x="194.0" y="220.5" width="6.6" height="1.0" opacity="0.11"/><rect x="197.0" y="221.5" width="2.4" height="1.0" opacity="0.35"/><rect x="195.5" y="221.5" width="5.4" height="1.0" opacity="0.11"/><rect x="196.4" y="222.5" width="2.5" height="1.0" opacity="0.20"/><rect x="194.9" y="222.5" width="5.5" height="1.0" opacity="0.10"/><rect x="196.4" y="223.5" width="2.8" height="1.0" opacity="0.34"/><rect x="194.9" y="223.5" width="5.8" height="1.0" opacity="0.10"/><rect x="196.5" y="224.5" width="2.4" height="1.0" opacity="0.29"/><rect x="195.0" y="224.5" width="5.4" height="1.0" opacity="0.10"/><rect x="196.1" y="225.5" width="3.4" height="1.0" opacity="0.33"/><rect x="194.6" y="225.5" width="6.4" height="1.0" opacity="0.10"/><rect x="196.6" y="226.5" width="2.8" height="1.0" opacity="0.19"/><rect x="195.1" y="226.5" width="5.8" height="1.0" opacity="0.09"/><rect x="197.2" y="227.5" width="2.4" height="1.0" opacity="0.22"/><rect x="195.7" y="227.5" width="5.4" height="1.0" opacity="0.09"/><rect x="197.6" y="228.5" width="2.3" height="1.0" opacity="0.15"/><rect x="196.1" y="228.5" width="5.3" height="1.0" opacity="0.09"/><rect x="197.0" y="229.5" width="2.4" height="1.0" opacity="0.24"/><rect x="195.5" y="229.5" width="5.4" height="1.0" opacity="0.09"/><rect x="196.9" y="230.5" width="2.8" height="1.0" opacity="0.22"/><rect x="195.4" y="230.5" width="5.8" height="1.0" opacity="0.08"/><rect x="196.9" y="231.5" width="3.6" height="1.0" opacity="0.27"/><rect x="195.4" y="231.5" width="6.6" height="1.0" opacity="0.08"/><rect x="197.5" y="232.5" width="2.7" height="1.0" opacity="0.16"/><rect x="196.0" y="232.5" width="5.7" height="1.0" opacity="0.08"/><rect x="196.1" y="233.5" width="3.6" height="1.0" opacity="0.26"/><rect x="194.6" y="233.5" width="6.6" height="1.0" opacity="0.08"/><rect x="197.1" y="234.5" width="2.4" height="1.0" opacity="0.19"/><rect x="195.6" y="234.5" width="5.4" height="1.0" opacity="0.07"/><rect x="196.7" y="235.5" width="2.9" height="1.0" opacity="0.15"/><rect x="195.2" y="235.5" width="5.9" height="1.0" opacity="0.07"/><rect x="197.1" y="236.5" width="2.5" height="1.0" opacity="0.21"/><rect x="195.6" y="236.5" width="5.5" height="1.0" opacity="0.07"/><rect x="197.2" y="237.5" width="2.1" height="1.0" opacity="0.16"/><rect x="195.7" y="237.5" width="5.1" height="1.0" opacity="0.07"/><rect x="196.1" y="238.5" width="2.3" height="1.0" opacity="0.22"/><rect x="194.6" y="238.5" width="5.3" height="1.0" opacity="0.06"/><rect x="195.9" y="239.5" width="2.9" height="1.0" opacity="0.18"/><rect x="194.4" y="239.5" width="5.9" height="1.0" opacity="0.06"/><rect x="196.1" y="240.5" width="2.8" height="1.0" opacity="0.17"/><rect x="194.6" y="240.5" width="5.8" height="1.0" opacity="0.06"/><rect x="195.3" y="241.5" width="2.9" height="1.0" opacity="0.18"/><rect x="193.8" y="241.5" width="5.9" height="1.0" opacity="0.06"/><rect x="196.3" y="242.5" width="2.1" height="1.0" opacity="0.17"/><rect x="194.8" y="242.5" width="5.1" height="1.0" opacity="0.06"/><rect x="196.3" y="243.5" width="3.5" height="1.0" opacity="0.17"/><rect x="194.8" y="243.5" width="6.5" height="1.0" opacity="0.05"/><rect x="198.0" y="244.5" width="2.5" height="1.0" opacity="0.13"/><rect x="196.5" y="244.5" width="5.5" height="1.0" opacity="0.05"/><rect x="197.6" y="245.5" width="2.3" height="1.0" opacity="0.14"/><rect x="196.1" y="245.5" width="5.3" height="1.0" opacity="0.05"/><rect x="198.0" y="246.5" width="2.0" height="1.0" opacity="0.12"/><rect x="196.5" y="246.5" width="5.0" height="1.0" opacity="0.05"/><rect x="197.4" y="247.5" width="2.1" height="1.0" opacity="0.14"/><rect x="195.9" y="247.5" width="5.1" height="1.0" opacity="0.04"/><rect x="197.0" y="248.5" width="2.7" height="1.0" opacity="0.11"/><rect x="195.5" y="248.5" width="5.7" height="1.0" opacity="0.04"/><rect x="197.3" y="249.5" width="2.5" height="1.0" opacity="0.11"/><rect x="195.8" y="249.5" width="5.5" height="1.0" opacity="0.04"/><rect x="197.4" y="250.5" width="2.2" height="1.0" opacity="0.11"/><rect x="195.9" y="250.5" width="5.2" height="1.0" opacity="0.04"/><rect x="197.3" y="251.5" width="3.2" height="1.0" opacity="0.11"/><rect x="195.8" y="251.5" width="6.2" height="1.0" opacity="0.04"/><rect x="197.9" y="252.5" width="3.0" height="1.0" opacity="0.07"/><rect x="196.4" y="252.5" width="6.0" height="1.0" opacity="0.03"/><rect x="198.2" y="253.5" width="3.0" height="1.0" opacity="0.09"/><rect x="196.7" y="253.5" width="6.0" height="1.0" opacity="0.03"/><rect x="198.6" y="254.5" width="2.5" height="1.0" opacity="0.07"/><rect x="197.1" y="254.5" width="5.5" height="1.0" opacity="0.03"/><rect x="199.0" y="255.5" width="2.5" height="1.0" opacity="0.06"/><rect x="197.5" y="255.5" width="5.5" height="1.0" opacity="0.03"/><rect x="199.4" y="256.5" width="2.1" height="1.0" opacity="0.05"/><rect x="197.9" y="256.5" width="5.1" height="1.0" opacity="0.03"/><rect x="199.0" y="257.5" width="2.5" height="1.0" opacity="0.05"/><rect x="197.5" y="257.5" width="5.5" height="1.0" opacity="0.03"/><rect x="197.3" y="258.5" width="3.3" height="1.0" opacity="0.07"/><rect x="195.8" y="258.5" width="6.3" height="1.0" opacity="0.02"/><rect x="197.3" y="259.5" width="3.4" height="1.0" opacity="0.06"/><rect x="195.8" y="259.5" width="6.4" height="1.0" opacity="0.02"/><rect x="198.3" y="260.5" width="2.7" height="1.0" opacity="0.07"/><rect x="196.8" y="260.5" width="5.7" height="1.0" opacity="0.02"/><rect x="197.2" y="261.5" width="3.2" height="1.0" opacity="0.06"/><rect x="195.7" y="261.5" width="6.2" height="1.0" opacity="0.02"/><rect x="198.9" y="262.5" width="2.2" height="1.0" opacity="0.03"/><rect x="197.4" y="262.5" width="5.2" height="1.0" opacity="0.02"/><rect x="198.5" y="263.5" width="2.3" height="1.0" opacity="0.04"/><rect x="197.0" y="263.5" width="5.3" height="1.0" opacity="0.01"/><rect x="198.1" y="264.5" width="2.2" height="1.0" opacity="0.03"/><rect x="196.6" y="264.5" width="5.2" height="1.0" opacity="0.01"/><rect x="197.6" y="265.5" width="2.7" height="1.0" opacity="0.03"/><rect x="196.1" y="265.5" width="5.7" height="1.0" opacity="0.01"/><rect x="197.3" y="266.5" width="2.3" height="1.0" opacity="0.02"/><rect x="195.8" y="266.5" width="5.3" height="1.0" opacity="0.01"/><rect x="198.2" y="267.5" width="3.0" height="1.0" opacity="0.03"/><rect x="196.7" y="267.5" width="6.0" height="1.0" opacity="0.01"/><rect x="198.5" y="268.5" width="2.5" height="1.0" opacity="0.02"/><rect x="197.0" y="268.5" width="5.5" height="1.0" opacity="0.01"/><rect x="198.2" y="269.5" width="2.7" height="1.0" opacity="0.01"/><rect x="196.7" y="269.5" width="5.7" height="1.0" opacity="0.01"/><rect x="198.7" y="270.5" width="2.9" height="1.0" opacity="0.01"/><rect x="197.2" y="270.5" width="5.9" height="1.0" opacity="0.00"/><rect x="198.8" y="271.5" width="2.9" height="1.0" opacity="0.01"/><rect x="197.3" y="271.5" width="5.9" height="1.0" opacity="0.00"/><rect x="197.7" y="272.5" width="2.3" height="1.0" opacity="0.01"/><rect x="196.2" y="272.5" width="5.3" height="1.0" opacity="0.00"/><rect x="197.9" y="273.5" width="3.0" height="1.0" opacity="0.00"/><rect x="196.4" y="273.5" width="6.0" height="1.0" opacity="0.00"/><rect x="197.8" y="274.5" width="3.1" height="1.0" opacity="0.00"/><rect x="196.3" y="274.5" width="6.1" height="1.0" opacity="0.00"/></g>
<line x1="47.40" y1="180.80" x2="47.40" y2="347.30" stroke="#000" stroke-width="1.2"/>
<line x1="46.80" y1="180.80" x2="50.20" y2="180.80" stroke="#000" stroke-width="1.2"/>
<line x1="46.80" y1="347.30" x2="50.20" y2="347.30" stroke="#000" stroke-width="1.2"/>
<path d="M38.1,197.5 L42.2,197.5 L42.2,330 L41.6,330 Z" fill="url(#gwedge)"/>
<text x="35.50" y="286.90" font-size="12.6" textLength="53.60" lengthAdjust="spacingAndGlyphs" transform="rotate(-90 35.50 286.90)">H3K9me3</text>
<text x="48.70" y="177.50" font-size="12.6" textLength="54.00" lengthAdjust="spacingAndGlyphs">H3K4me3</text>
<text x="145.80" y="160.00" font-size="12.6" textLength="53.80" lengthAdjust="spacingAndGlyphs">H3K9me3</text>
<line x1="127.00" y1="164.20" x2="204.50" y2="164.20" stroke="#000" stroke-width="1.2"/>
<text x="129.60" y="176.90" font-size="12.6" textLength="16.20" lengthAdjust="spacingAndGlyphs">Wt</text>
<text x="189.70" y="176.90" font-size="12.6" textLength="17.20" lengthAdjust="spacingAndGlyphs">KO</text>
<path d="M76.8,347.6 L76.8,349.6 L103.8,349.6 L103.8,347.6" fill="none" stroke="#000" stroke-width="1.2"/>
<path d="M73.60,356 L77.60,356 L75.60,352.4 Z" fill="#000"/>
<text x="80.80" y="363.20" font-size="12.6" textLength="25.50" lengthAdjust="spacingAndGlyphs">10kb</text>
<path d="M138.8,347.6 L138.8,349.6 L166.2,349.6 L166.2,347.6" fill="none" stroke="#000" stroke-width="1.2"/>
<path d="M136.10,356 L140.10,356 L138.10,352.4 Z" fill="#000"/>
<text x="143.00" y="363.20" font-size="12.6" textLength="25.50" lengthAdjust="spacingAndGlyphs">10kb</text>
<path d="M196.8,347.6 L196.8,349.6 L224.3,349.6 L224.3,347.6" fill="none" stroke="#000" stroke-width="1.2"/>
<path d="M193.60,356 L197.60,356 L195.60,352.4 Z" fill="#000"/>
<text x="201.30" y="363.20" font-size="12.6" textLength="25.50" lengthAdjust="spacingAndGlyphs">10kb</text>
<text x="250.60" y="147.00" font-size="17.5" font-weight="bold" fill="#000">C</text>
<text x="353.80" y="142.70" font-size="14" textLength="63.50" lengthAdjust="spacingAndGlyphs">H3K9me3</text>
<rect x="465.60" y="153.70" width="11.90" height="6.60" fill="#C0143C"/>
<text x="482.30" y="160.60" font-size="12.6" textLength="16.70" lengthAdjust="spacingAndGlyphs">WT</text>
<rect x="465.60" y="165.90" width="11.90" height="6.60" fill="#2B4E8E"/>
<text x="482.30" y="172.80" font-size="12.6" textLength="16.40" lengthAdjust="spacingAndGlyphs">KO</text>
<line x1="321.80" y1="152.00" x2="321.80" y2="243.20" stroke="#000" stroke-width="1.5"/>
<line x1="321.10" y1="242.50" x2="449.80" y2="242.50" stroke="#000" stroke-width="1.5"/>
<line x1="325.50" y1="242.50" x2="325.50" y2="247.00" stroke="#000" stroke-width="1.3"/>
<line x1="385.50" y1="242.50" x2="385.50" y2="247.00" stroke="#000" stroke-width="1.3"/>
<line x1="445.50" y1="242.50" x2="445.50" y2="247.00" stroke="#000" stroke-width="1.3"/>
<line x1="317.60" y1="156.20" x2="321.80" y2="156.20" stroke="#000" stroke-width="1.3"/>
<line x1="317.60" y1="233.00" x2="321.80" y2="233.00" stroke="#000" stroke-width="1.3"/>
<text x="312.90" y="160.30" font-size="12" text-anchor="end" textLength="16.90" lengthAdjust="spacingAndGlyphs">0.4</text>
<text x="312.50" y="237.10" font-size="12" text-anchor="end" textLength="6.00" lengthAdjust="spacingAndGlyphs">0</text>
<line x1="270.60" y1="155.80" x2="270.60" y2="233.80" stroke="#000" stroke-width="1.2"/>
<text x="262.30" y="223.50" font-size="12.6" textLength="58.90" lengthAdjust="spacingAndGlyphs" transform="rotate(-90 262.30 223.50)">Target reg.</text>
<text x="287.60" y="206.90" font-size="14" textLength="25.40" lengthAdjust="spacingAndGlyphs" fill="#333" transform="rotate(-90 287.60 206.90)">T.P.M</text>
<path d="M324.85,189.85 C325.39,190.16 327.09,191.20 328.08,191.73 C329.06,192.27 329.87,192.72 330.77,193.08 C331.67,193.44 332.57,193.98 333.46,193.89 C334.36,193.80 335.26,192.68 336.16,192.54 C337.05,192.41 337.95,192.99 338.85,193.08 C339.75,193.17 340.64,192.72 341.54,193.08 C342.44,193.44 343.34,194.34 344.23,195.23 C345.13,196.13 346.03,197.70 346.93,198.47 C347.82,199.23 348.72,200.04 349.62,199.81 C350.52,199.59 351.50,197.79 352.31,197.12 C353.12,196.45 353.79,195.55 354.46,195.77 C355.14,196.00 355.72,196.67 356.35,198.47 C356.98,200.26 357.56,204.21 358.23,206.54 C358.91,208.88 359.58,211.25 360.39,212.47 C361.20,213.68 362.18,213.68 363.08,213.81 C363.98,213.95 364.88,213.23 365.77,213.27 C366.67,213.32 367.57,213.86 368.47,214.08 C369.36,214.31 370.26,214.44 371.16,214.62 C372.06,214.80 372.95,214.80 373.85,215.16 C374.75,215.52 375.65,216.33 376.54,216.77 C377.44,217.22 378.34,217.76 379.24,217.85 C380.13,217.94 381.03,217.31 381.93,217.31 C382.83,217.31 383.72,217.72 384.62,217.85 C385.52,217.99 386.42,218.21 387.31,218.12 C388.21,218.03 389.11,217.54 390.01,217.31 C390.90,217.09 391.80,216.91 392.70,216.77 C393.60,216.64 394.49,216.77 395.39,216.51 C396.29,216.24 397.19,215.61 398.08,215.16 C398.98,214.71 399.88,214.35 400.78,213.81 C401.67,213.27 402.57,212.47 403.47,211.93 C404.37,211.39 405.35,210.81 406.16,210.58 C406.97,210.36 407.64,211.48 408.31,210.58 C408.99,209.68 409.57,207.44 410.20,205.20 C410.83,202.95 411.41,198.69 412.08,197.12 C412.76,195.55 413.43,195.77 414.24,195.77 C415.05,195.77 416.03,196.98 416.93,197.12 C417.83,197.25 418.73,196.80 419.62,196.58 C420.52,196.36 421.42,196.22 422.32,195.77 C423.21,195.32 424.11,194.34 425.01,193.89 C425.91,193.44 426.80,193.30 427.70,193.08 C428.60,192.86 429.50,192.77 430.39,192.54 C431.29,192.32 432.19,192.18 433.09,191.73 C433.98,191.29 434.88,190.07 435.78,189.85 C436.68,189.62 437.57,190.52 438.47,190.39 C439.37,190.25 440.18,189.49 441.16,189.04 C442.15,188.59 443.86,187.92 444.39,187.70" fill="none" stroke="#C0143C" stroke-width="1.5" stroke-linejoin="round" stroke-linecap="round"/>
<path d="M324.85,195.23 C325.39,195.32 327.09,195.46 328.08,195.77 C329.06,196.09 329.87,196.76 330.77,197.12 C331.67,197.48 332.57,198.15 333.46,197.93 C334.36,197.70 335.03,196.58 336.16,195.77 C337.28,194.96 338.85,193.62 340.19,193.08 C341.54,192.54 343.11,192.54 344.23,192.54 C345.35,192.54 346.03,193.21 346.93,193.08 C347.82,192.95 348.72,192.27 349.62,191.73 C350.52,191.20 351.41,190.39 352.31,189.85 C353.21,189.31 354.11,189.54 355.00,188.50 C355.90,187.47 356.80,185.59 357.70,183.66 C358.59,181.73 359.49,177.91 360.39,176.93 C361.29,175.94 362.18,177.28 363.08,177.73 C363.98,178.18 364.88,179.08 365.77,179.62 C366.67,180.16 367.57,180.87 368.47,180.96 C369.36,181.05 370.26,180.38 371.16,180.16 C372.06,179.93 372.95,179.48 373.85,179.62 C374.75,179.75 375.65,180.96 376.54,180.96 C377.44,180.96 378.34,180.16 379.24,179.62 C380.13,179.08 381.12,178.32 381.93,177.73 C382.74,177.15 383.41,175.89 384.08,176.12 C384.75,176.34 385.20,178.77 385.97,179.08 C386.73,179.39 387.90,178.36 388.66,178.00 C389.42,177.64 389.87,176.97 390.54,176.93 C391.22,176.88 391.89,177.51 392.70,177.73 C393.51,177.96 394.49,178.27 395.39,178.27 C396.29,178.27 397.19,177.87 398.08,177.73 C398.98,177.60 399.88,177.73 400.78,177.46 C401.67,177.19 402.66,176.43 403.47,176.12 C404.28,175.80 404.95,175.22 405.62,175.58 C406.30,175.94 406.88,176.93 407.51,178.27 C408.13,179.62 408.72,182.44 409.39,183.66 C410.06,184.87 410.74,185.18 411.55,185.54 C412.35,185.90 413.34,185.54 414.24,185.81 C415.14,186.08 416.03,186.62 416.93,187.16 C417.83,187.70 418.73,188.50 419.62,189.04 C420.52,189.58 421.42,189.71 422.32,190.39 C423.21,191.06 424.20,192.41 425.01,193.08 C425.82,193.75 426.26,194.61 427.16,194.43 C428.06,194.25 429.41,192.32 430.39,192.00 C431.38,191.69 432.19,192.59 433.09,192.54 C433.98,192.50 434.88,192.00 435.78,191.73 C436.68,191.46 437.66,191.82 438.47,190.93 C439.28,190.03 439.95,186.89 440.62,186.35 C441.30,185.81 441.88,186.80 442.51,187.70 C443.14,188.59 444.08,191.06 444.39,191.73" fill="none" stroke="#2B4E8E" stroke-width="1.5" stroke-linejoin="round" stroke-linecap="round"/>
<line x1="321.80" y1="263.80" x2="321.80" y2="354.40" stroke="#000" stroke-width="1.5"/>
<line x1="321.10" y1="353.70" x2="449.80" y2="353.70" stroke="#000" stroke-width="1.5"/>
<line x1="325.50" y1="353.70" x2="325.50" y2="358.20" stroke="#000" stroke-width="1.3"/>
<line x1="385.50" y1="353.70" x2="385.50" y2="358.20" stroke="#000" stroke-width="1.3"/>
<line x1="445.50" y1="353.70" x2="445.50" y2="358.20" stroke="#000" stroke-width="1.3"/>
<line x1="317.60" y1="267.50" x2="321.80" y2="267.50" stroke="#000" stroke-width="1.3"/>
<line x1="317.60" y1="344.50" x2="321.80" y2="344.50" stroke="#000" stroke-width="1.3"/>
<text x="312.90" y="271.60" font-size="12" text-anchor="end" textLength="16.90" lengthAdjust="spacingAndGlyphs">0.4</text>
<text x="312.50" y="348.60" font-size="12" text-anchor="end" textLength="6.00" lengthAdjust="spacingAndGlyphs">0</text>
<line x1="270.60" y1="267.50" x2="270.60" y2="345.40" stroke="#000" stroke-width="1.2"/>
<text x="262.30" y="339.20" font-size="12.6" textLength="66.20" lengthAdjust="spacingAndGlyphs" transform="rotate(-90 262.30 339.20)">Control reg.</text>
<text x="287.60" y="319.00" font-size="14" textLength="25.40" lengthAdjust="spacingAndGlyphs" fill="#333" transform="rotate(-90 287.60 319.00)">T.P.M</text>
<path d="M324.85,292.12 C325.16,291.80 325.97,290.68 326.73,290.23 C327.49,289.78 328.53,288.89 329.42,289.42 C330.32,289.96 331.22,293.01 332.12,293.46 C333.01,293.91 333.91,292.12 334.81,292.12 C335.71,292.12 336.60,293.15 337.50,293.46 C338.40,293.78 339.30,294.45 340.19,294.00 C341.09,293.55 341.99,291.44 342.89,290.77 C343.78,290.10 344.68,289.51 345.58,289.96 C346.48,290.41 347.37,293.33 348.27,293.46 C349.17,293.60 350.29,291.53 350.96,290.77 C351.64,290.01 351.73,288.66 352.31,288.89 C352.89,289.11 353.79,291.35 354.46,292.12 C355.14,292.88 355.59,293.46 356.35,293.46 C357.11,293.46 358.14,292.21 359.04,292.12 C359.94,292.03 360.84,292.34 361.73,292.92 C362.63,293.51 363.53,295.30 364.43,295.62 C365.32,295.93 366.22,294.49 367.12,294.81 C368.02,295.12 368.91,296.60 369.81,297.50 C370.71,298.40 371.61,300.19 372.50,300.19 C373.40,300.19 374.30,297.73 375.20,297.50 C376.09,297.28 376.99,298.08 377.89,298.85 C378.79,299.61 379.68,301.63 380.58,302.08 C381.48,302.53 382.38,301.99 383.27,301.54 C384.17,301.09 385.07,299.83 385.97,299.39 C386.86,298.94 387.76,300.28 388.66,298.85 C389.56,297.41 390.68,292.57 391.35,290.77 C392.02,288.98 392.02,287.85 392.70,288.08 C393.37,288.30 394.49,290.99 395.39,292.12 C396.29,293.24 397.19,294.58 398.08,294.81 C398.98,295.03 399.88,293.91 400.78,293.46 C401.67,293.01 402.57,292.92 403.47,292.12 C404.37,291.31 405.26,289.51 406.16,288.62 C407.06,287.72 407.96,286.82 408.85,286.73 C409.75,286.64 410.65,288.08 411.55,288.08 C412.44,288.08 413.43,287.18 414.24,286.73 C415.05,286.28 415.72,284.94 416.39,285.39 C417.07,285.83 417.51,287.85 418.28,289.42 C419.04,290.99 420.07,293.15 420.97,294.81 C421.87,296.47 422.76,299.07 423.66,299.39 C424.56,299.70 425.46,297.46 426.35,296.69 C427.25,295.93 428.15,295.35 429.05,294.81 C429.94,294.27 430.84,294.05 431.74,293.46 C432.64,292.88 433.53,291.53 434.43,291.31 C435.33,291.08 436.23,292.21 437.12,292.12 C438.02,292.03 438.92,291.13 439.82,290.77 C440.71,290.41 441.75,289.74 442.51,289.96 C443.27,290.19 444.08,291.76 444.39,292.12" fill="none" stroke="#C0143C" stroke-width="1.5" stroke-linejoin="round" stroke-linecap="round"/>
<path d="M324.85,294.81 C325.39,294.58 327.09,293.33 328.08,293.46 C329.06,293.60 329.87,294.94 330.77,295.62 C331.67,296.29 332.57,297.41 333.46,297.50 C334.36,297.59 335.26,296.29 336.16,296.16 C337.05,296.02 337.95,297.23 338.85,296.69 C339.75,296.16 340.64,293.69 341.54,292.92 C342.44,292.16 343.34,291.58 344.23,292.12 C345.13,292.65 346.03,295.71 346.93,296.16 C347.82,296.60 348.72,295.71 349.62,294.81 C350.52,293.91 351.41,290.77 352.31,290.77 C353.21,290.77 354.11,293.82 355.00,294.81 C355.90,295.80 356.80,296.47 357.70,296.69 C358.59,296.92 359.49,295.71 360.39,296.16 C361.29,296.60 362.18,298.71 363.08,299.39 C363.98,300.06 364.88,300.28 365.77,300.19 C366.67,300.10 367.57,298.40 368.47,298.85 C369.36,299.30 370.26,302.89 371.16,302.89 C372.06,302.89 372.95,299.75 373.85,298.85 C374.75,297.95 375.65,297.14 376.54,297.50 C377.44,297.86 378.34,299.97 379.24,301.00 C380.13,302.03 381.03,303.60 381.93,303.69 C382.83,303.78 383.72,302.12 384.62,301.54 C385.52,300.96 386.42,301.54 387.31,300.19 C388.21,298.85 389.20,295.48 390.01,293.46 C390.81,291.44 391.35,288.08 392.16,288.08 C392.97,288.08 393.86,292.03 394.85,293.46 C395.84,294.90 397.10,296.33 398.08,296.69 C399.07,297.05 399.88,296.16 400.78,295.62 C401.67,295.08 402.57,294.27 403.47,293.46 C404.37,292.65 405.26,291.31 406.16,290.77 C407.06,290.23 407.96,289.69 408.85,290.23 C409.75,290.77 410.65,293.91 411.55,294.00 C412.44,294.09 413.34,291.76 414.24,290.77 C415.14,289.78 416.03,287.63 416.93,288.08 C417.83,288.53 418.73,291.44 419.62,293.46 C420.52,295.48 421.42,299.30 422.32,300.19 C423.21,301.09 424.11,299.52 425.01,298.85 C425.91,298.17 426.80,296.69 427.70,296.16 C428.60,295.62 429.50,296.07 430.39,295.62 C431.29,295.17 432.19,294.27 433.09,293.46 C433.98,292.65 434.88,290.55 435.78,290.77 C436.68,290.99 437.57,294.72 438.47,294.81 C439.37,294.90 440.36,292.12 441.16,291.31 C441.97,290.50 442.78,289.83 443.32,289.96 C443.86,290.10 444.21,291.76 444.39,292.12" fill="none" stroke="#2B4E8E" stroke-width="1.5" stroke-linejoin="round" stroke-linecap="round"/>
<text x="325.40" y="374.20" font-size="12.6" text-anchor="middle" textLength="34.20" lengthAdjust="spacingAndGlyphs">-2.5kb</text>
<text x="387.00" y="374.20" font-size="12.6" text-anchor="middle" textLength="20.00" lengthAdjust="spacingAndGlyphs">TSS</text>
<text x="446.00" y="374.20" font-size="12.6" text-anchor="middle" textLength="29.80" lengthAdjust="spacingAndGlyphs">2.5kb</text>
<text x="12.50" y="415.20" font-size="17.5" font-weight="bold" fill="#000">D</text>
<rect x="220.70" y="407.60" width="12.50" height="7.20" fill="#A8002C"/>
<text x="237.50" y="414.60" font-size="12.6" textLength="17.60" lengthAdjust="spacingAndGlyphs">WT</text>
<rect x="264.80" y="407.60" width="12.30" height="7.20" fill="#2D4B82"/>
<text x="282.10" y="414.60" font-size="12.6" textLength="15.60" lengthAdjust="spacingAndGlyphs">KO</text>
<line x1="52.50" y1="427.60" x2="52.50" y2="538.55" stroke="#000" stroke-width="1.5"/>
<line x1="51.75" y1="537.80" x2="121.30" y2="537.80" stroke="#000" stroke-width="1.5"/>
<line x1="68.75" y1="537.80" x2="68.75" y2="541.80" stroke="#000" stroke-width="1.3"/>
<line x1="105.00" y1="537.80" x2="105.00" y2="541.80" stroke="#000" stroke-width="1.3"/>
<line x1="47.80" y1="537.80" x2="52.50" y2="537.80" stroke="#000" stroke-width="1.3"/>
<text x="43.90" y="541.90" font-size="12" text-anchor="end" textLength="6.40" lengthAdjust="spacingAndGlyphs">0</text>
<line x1="47.80" y1="511.10" x2="52.50" y2="511.10" stroke="#000" stroke-width="1.3"/>
<text x="43.90" y="515.20" font-size="12" text-anchor="end" textLength="6.40" lengthAdjust="spacingAndGlyphs">5</text>
<line x1="47.80" y1="484.40" x2="52.50" y2="484.40" stroke="#000" stroke-width="1.3"/>
<text x="43.90" y="488.50" font-size="12" text-anchor="end" textLength="12.80" lengthAdjust="spacingAndGlyphs">10</text>
<line x1="47.80" y1="457.70" x2="52.50" y2="457.70" stroke="#000" stroke-width="1.3"/>
<text x="43.90" y="461.80" font-size="12" text-anchor="end" textLength="12.80" lengthAdjust="spacingAndGlyphs">15</text>
<line x1="47.80" y1="431.00" x2="52.50" y2="431.00" stroke="#000" stroke-width="1.3"/>
<text x="43.90" y="435.10" font-size="12" text-anchor="end" textLength="12.80" lengthAdjust="spacingAndGlyphs">20</text>
<line x1="61.60" y1="536.20" x2="61.60" y2="535.93" stroke="#000" stroke-width="1.5"/>
<line x1="58.60" y1="535.93" x2="64.60" y2="535.93" stroke="#000" stroke-width="1.5"/>
<rect x="57.00" y="536.20" width="9.20" height="1.60" fill="#A8002C"/>
<line x1="75.15" y1="536.20" x2="75.15" y2="533.53" stroke="#000" stroke-width="1.5"/>
<line x1="72.15" y1="533.53" x2="78.15" y2="533.53" stroke="#000" stroke-width="1.5"/>
<rect x="70.80" y="536.20" width="8.70" height="1.60" fill="#2D4B82"/>
<line x1="98.65" y1="464.64" x2="98.65" y2="460.90" stroke="#000" stroke-width="1.5"/>
<line x1="95.65" y1="460.90" x2="101.65" y2="460.90" stroke="#000" stroke-width="1.5"/>
<rect x="94.20" y="464.64" width="8.90" height="73.16" fill="#A8002C"/>
<line x1="112.50" y1="487.07" x2="112.50" y2="479.59" stroke="#000" stroke-width="1.5"/>
<line x1="109.50" y1="479.59" x2="115.50" y2="479.59" stroke="#000" stroke-width="1.5"/>
<rect x="108.00" y="487.07" width="9.00" height="50.73" fill="#2D4B82"/>
<text x="58.00" y="439.50" font-size="12" textLength="29.50" lengthAdjust="spacingAndGlyphs" font-style="italic">Nom1</text>
<text x="97.00" y="439.50" font-size="12" textLength="18.50" lengthAdjust="spacingAndGlyphs" font-style="italic">TSS</text>
<text x="59.00" y="557.00" font-size="12.6" textLength="19.75" lengthAdjust="spacingAndGlyphs">IgG</text>
<text x="98.00" y="557.00" font-size="12.6" textLength="14.50" lengthAdjust="spacingAndGlyphs">H3</text>
<text x="20.40" y="503.80" font-size="12.6" textLength="40.00" lengthAdjust="spacingAndGlyphs" transform="rotate(-90 20.40 503.80)">% input</text>
<line x1="169.30" y1="427.60" x2="169.30" y2="538.55" stroke="#000" stroke-width="1.5"/>
<line x1="168.55" y1="537.80" x2="235.80" y2="537.80" stroke="#000" stroke-width="1.5"/>
<line x1="184.70" y1="537.80" x2="184.70" y2="541.80" stroke="#000" stroke-width="1.3"/>
<line x1="220.90" y1="537.80" x2="220.90" y2="541.80" stroke="#000" stroke-width="1.3"/>
<line x1="164.60" y1="537.80" x2="169.30" y2="537.80" stroke="#000" stroke-width="1.3"/>
<text x="160.70" y="541.90" font-size="12" text-anchor="end" textLength="6.40" lengthAdjust="spacingAndGlyphs">0</text>
<line x1="164.60" y1="516.44" x2="169.30" y2="516.44" stroke="#000" stroke-width="1.3"/>
<text x="160.70" y="520.54" font-size="12" text-anchor="end" textLength="6.40" lengthAdjust="spacingAndGlyphs">2</text>
<line x1="164.60" y1="495.08" x2="169.30" y2="495.08" stroke="#000" stroke-width="1.3"/>
<text x="160.70" y="499.18" font-size="12" text-anchor="end" textLength="6.40" lengthAdjust="spacingAndGlyphs">4</text>
<line x1="164.60" y1="473.72" x2="169.30" y2="473.72" stroke="#000" stroke-width="1.3"/>
<text x="160.70" y="477.82" font-size="12" text-anchor="end" textLength="6.40" lengthAdjust="spacingAndGlyphs">6</text>
<line x1="164.60" y1="452.36" x2="169.30" y2="452.36" stroke="#000" stroke-width="1.3"/>
<text x="160.70" y="456.46" font-size="12" text-anchor="end" textLength="6.40" lengthAdjust="spacingAndGlyphs">8</text>
<line x1="164.60" y1="431.00" x2="169.30" y2="431.00" stroke="#000" stroke-width="1.3"/>
<text x="160.70" y="435.10" font-size="12" text-anchor="end" textLength="12.80" lengthAdjust="spacingAndGlyphs">10</text>
<line x1="177.90" y1="535.66" x2="177.90" y2="534.06" stroke="#000" stroke-width="1.5"/>
<line x1="174.90" y1="534.06" x2="180.90" y2="534.06" stroke="#000" stroke-width="1.5"/>
<rect x="173.30" y="535.66" width="9.20" height="2.14" fill="#A8002C"/>
<line x1="191.75" y1="534.60" x2="191.75" y2="530.32" stroke="#000" stroke-width="1.5"/>
<line x1="188.75" y1="530.32" x2="194.75" y2="530.32" stroke="#000" stroke-width="1.5"/>
<rect x="187.30" y="534.60" width="8.90" height="3.20" fill="#2D4B82"/>
<line x1="213.85" y1="526.05" x2="213.85" y2="519.64" stroke="#000" stroke-width="1.5"/>
<line x1="210.85" y1="519.64" x2="216.85" y2="519.64" stroke="#000" stroke-width="1.5"/>
<rect x="209.40" y="526.05" width="8.90" height="11.75" fill="#A8002C"/>
<line x1="227.95" y1="468.38" x2="227.95" y2="453.43" stroke="#000" stroke-width="1.5"/>
<line x1="224.95" y1="453.43" x2="230.95" y2="453.43" stroke="#000" stroke-width="1.5"/>
<rect x="223.70" y="468.38" width="8.50" height="69.42" fill="#2D4B82"/>
<text x="174.70" y="439.50" font-size="12" textLength="30.10" lengthAdjust="spacingAndGlyphs" font-style="italic">Nom1</text>
<text x="214.20" y="439.50" font-size="12" textLength="17.50" lengthAdjust="spacingAndGlyphs" font-style="italic">TSS</text>
<text x="175.20" y="557.00" font-size="12.6" textLength="18.80" lengthAdjust="spacingAndGlyphs">IgG</text>
<text x="202.00" y="557.00" font-size="12.6" textLength="55.30" lengthAdjust="spacingAndGlyphs">H3K9me3</text>
<text x="137.90" y="503.80" font-size="12.6" textLength="40.00" lengthAdjust="spacingAndGlyphs" transform="rotate(-90 137.90 503.80)">% input</text>
<line x1="305.70" y1="427.60" x2="305.70" y2="538.55" stroke="#000" stroke-width="1.5"/>
<line x1="304.95" y1="537.80" x2="373.90" y2="537.80" stroke="#000" stroke-width="1.5"/>
<line x1="321.40" y1="537.80" x2="321.40" y2="541.80" stroke="#000" stroke-width="1.3"/>
<line x1="358.40" y1="537.80" x2="358.40" y2="541.80" stroke="#000" stroke-width="1.3"/>
<line x1="301.00" y1="537.80" x2="305.70" y2="537.80" stroke="#000" stroke-width="1.3"/>
<text x="297.10" y="541.90" font-size="12" text-anchor="end" textLength="6.40" lengthAdjust="spacingAndGlyphs">0</text>
<line x1="301.00" y1="511.10" x2="305.70" y2="511.10" stroke="#000" stroke-width="1.3"/>
<text x="297.10" y="515.20" font-size="12" text-anchor="end" textLength="6.40" lengthAdjust="spacingAndGlyphs">5</text>
<line x1="301.00" y1="484.40" x2="305.70" y2="484.40" stroke="#000" stroke-width="1.3"/>
<text x="297.10" y="488.50" font-size="12" text-anchor="end" textLength="12.80" lengthAdjust="spacingAndGlyphs">10</text>
<line x1="301.00" y1="457.70" x2="305.70" y2="457.70" stroke="#000" stroke-width="1.3"/>
<text x="297.10" y="461.80" font-size="12" text-anchor="end" textLength="12.80" lengthAdjust="spacingAndGlyphs">15</text>
<line x1="301.00" y1="431.00" x2="305.70" y2="431.00" stroke="#000" stroke-width="1.3"/>
<text x="297.10" y="435.10" font-size="12" text-anchor="end" textLength="12.80" lengthAdjust="spacingAndGlyphs">20</text>
<line x1="314.20" y1="537.00" x2="314.20" y2="536.46" stroke="#000" stroke-width="1.5"/>
<line x1="311.20" y1="536.46" x2="317.20" y2="536.46" stroke="#000" stroke-width="1.5"/>
<rect x="309.80" y="537.00" width="8.80" height="0.80" fill="#A8002C"/>
<line x1="328.00" y1="537.00" x2="328.00" y2="536.46" stroke="#000" stroke-width="1.5"/>
<line x1="325.00" y1="536.46" x2="331.00" y2="536.46" stroke="#000" stroke-width="1.5"/>
<rect x="323.60" y="537.00" width="8.80" height="0.80" fill="#2D4B82"/>
<line x1="351.40" y1="465.71" x2="351.40" y2="451.83" stroke="#000" stroke-width="1.5"/>
<line x1="348.40" y1="451.83" x2="354.40" y2="451.83" stroke="#000" stroke-width="1.5"/>
<rect x="347.00" y="465.71" width="8.80" height="72.09" fill="#A8002C"/>
<line x1="365.40" y1="468.38" x2="365.40" y2="443.82" stroke="#000" stroke-width="1.5"/>
<line x1="362.40" y1="443.82" x2="368.40" y2="443.82" stroke="#000" stroke-width="1.5"/>
<rect x="361.00" y="468.38" width="8.80" height="69.42" fill="#2D4B82"/>
<text x="310.60" y="439.50" font-size="12" textLength="26.90" lengthAdjust="spacingAndGlyphs" font-style="italic">Taf1b</text>
<text x="350.00" y="439.50" font-size="12" textLength="18.50" lengthAdjust="spacingAndGlyphs" font-style="italic">TSS</text>
<text x="311.40" y="557.00" font-size="12.6" textLength="19.40" lengthAdjust="spacingAndGlyphs">IgG</text>
<text x="350.40" y="557.00" font-size="12.6" textLength="15.90" lengthAdjust="spacingAndGlyphs">H3</text>
<text x="274.90" y="503.80" font-size="12.6" textLength="40.00" lengthAdjust="spacingAndGlyphs" transform="rotate(-90 274.90 503.80)">% input</text>
<line x1="421.70" y1="427.60" x2="421.70" y2="538.55" stroke="#000" stroke-width="1.5"/>
<line x1="420.95" y1="537.80" x2="489.00" y2="537.80" stroke="#000" stroke-width="1.5"/>
<line x1="437.40" y1="537.80" x2="437.40" y2="541.80" stroke="#000" stroke-width="1.3"/>
<line x1="473.50" y1="537.80" x2="473.50" y2="541.80" stroke="#000" stroke-width="1.3"/>
<line x1="417.00" y1="537.80" x2="421.70" y2="537.80" stroke="#000" stroke-width="1.3"/>
<text x="413.10" y="541.90" font-size="12" text-anchor="end" textLength="6.40" lengthAdjust="spacingAndGlyphs">0</text>
<line x1="417.00" y1="516.44" x2="421.70" y2="516.44" stroke="#000" stroke-width="1.3"/>
<text x="413.10" y="520.54" font-size="12" text-anchor="end" textLength="6.40" lengthAdjust="spacingAndGlyphs">2</text>
<line x1="417.00" y1="495.08" x2="421.70" y2="495.08" stroke="#000" stroke-width="1.3"/>
<text x="413.10" y="499.18" font-size="12" text-anchor="end" textLength="6.40" lengthAdjust="spacingAndGlyphs">4</text>
<line x1="417.00" y1="473.72" x2="421.70" y2="473.72" stroke="#000" stroke-width="1.3"/>
<text x="413.10" y="477.82" font-size="12" text-anchor="end" textLength="6.40" lengthAdjust="spacingAndGlyphs">6</text>
<line x1="417.00" y1="452.36" x2="421.70" y2="452.36" stroke="#000" stroke-width="1.3"/>
<text x="413.10" y="456.46" font-size="12" text-anchor="end" textLength="6.40" lengthAdjust="spacingAndGlyphs">8</text>
<line x1="417.00" y1="431.00" x2="421.70" y2="431.00" stroke="#000" stroke-width="1.3"/>
<text x="413.10" y="435.10" font-size="12" text-anchor="end" textLength="12.80" lengthAdjust="spacingAndGlyphs">10</text>
<line x1="430.50" y1="536.20" x2="430.50" y2="535.13" stroke="#000" stroke-width="1.5"/>
<line x1="427.50" y1="535.13" x2="433.50" y2="535.13" stroke="#000" stroke-width="1.5"/>
<rect x="425.80" y="536.20" width="9.40" height="1.60" fill="#A8002C"/>
<line x1="444.40" y1="536.73" x2="444.40" y2="535.13" stroke="#000" stroke-width="1.5"/>
<line x1="441.40" y1="535.13" x2="447.40" y2="535.13" stroke="#000" stroke-width="1.5"/>
<rect x="439.80" y="536.73" width="9.20" height="1.07" fill="#2D4B82"/>
<line x1="466.50" y1="519.64" x2="466.50" y2="510.03" stroke="#000" stroke-width="1.5"/>
<line x1="463.50" y1="510.03" x2="469.50" y2="510.03" stroke="#000" stroke-width="1.5"/>
<rect x="462.00" y="519.64" width="9.00" height="18.16" fill="#A8002C"/>
<line x1="480.50" y1="457.70" x2="480.50" y2="450.22" stroke="#000" stroke-width="1.5"/>
<line x1="477.50" y1="450.22" x2="483.50" y2="450.22" stroke="#000" stroke-width="1.5"/>
<rect x="476.00" y="457.70" width="9.00" height="80.10" fill="#2D4B82"/>
<text x="428.50" y="439.50" font-size="12" textLength="26.40" lengthAdjust="spacingAndGlyphs" font-style="italic">Taf1b</text>
<text x="466.70" y="439.50" font-size="12" textLength="18.30" lengthAdjust="spacingAndGlyphs" font-style="italic">TSS</text>
<text x="428.50" y="557.00" font-size="12.6" textLength="19.40" lengthAdjust="spacingAndGlyphs">IgG</text>
<text x="457.50" y="557.00" font-size="12.6" textLength="53.10" lengthAdjust="spacingAndGlyphs">H3K9me3</text>
<text x="390.40" y="503.80" font-size="12.6" textLength="40.00" lengthAdjust="spacingAndGlyphs" transform="rotate(-90 390.40 503.80)">% input</text>
<text x="14.80" y="598.20" font-size="17.5" font-weight="bold" fill="#000">E</text>
<text x="73.50" y="603.30" font-size="14" textLength="105.00" lengthAdjust="spacingAndGlyphs">DeSeq2 analysis</text>
<line x1="52.50" y1="668.00" x2="61.20" y2="668.00" stroke="#555" stroke-width="1.6"/>
<line x1="145.20" y1="668.00" x2="153.80" y2="668.00" stroke="#555" stroke-width="1.6"/>
<line x1="162.50" y1="668.00" x2="171.10" y2="668.00" stroke="#555" stroke-width="1.6"/>
<line x1="179.80" y1="668.00" x2="189.00" y2="668.00" stroke="#555" stroke-width="1.6"/>
<path d="M62.50,667.00 C63.00,666.67 64.45,666.23 65.50,665.90 C66.55,665.57 67.63,665.35 68.80,665.00 C69.97,664.65 71.15,664.37 72.50,663.80 C73.85,663.23 75.13,662.63 76.90,661.60 C78.67,660.57 81.05,659.03 83.10,657.60 C85.15,656.17 87.15,654.47 89.20,653.00 C91.25,651.53 93.35,650.05 95.40,648.80 C97.45,647.55 99.70,646.40 101.50,645.50 C103.30,644.60 104.15,643.62 106.20,643.40 C108.25,643.18 111.50,643.77 113.80,644.20 C116.10,644.63 117.93,645.33 120.00,646.00 C122.07,646.67 124.15,647.43 126.20,648.20 C128.25,648.97 130.25,649.67 132.30,650.60 C134.35,651.53 136.62,652.57 138.50,653.80 C140.38,655.03 142.08,656.53 143.60,658.00 C145.12,659.47 146.43,661.10 147.60,662.60 C148.77,664.10 150.10,666.07 150.60,667.00 C151.10,667.93 151.10,667.60 150.60,668.20 C150.10,668.80 148.77,669.70 147.60,670.60 C146.43,671.50 145.12,672.53 143.60,673.60 C142.08,674.67 140.38,675.77 138.50,677.00 C136.62,678.23 134.35,679.70 132.30,681.00 C130.25,682.30 128.25,683.65 126.20,684.80 C124.15,685.95 122.07,686.93 120.00,687.90 C117.93,688.87 116.10,689.95 113.80,690.60 C111.50,691.25 108.25,691.97 106.20,691.80 C104.15,691.63 103.30,690.67 101.50,689.60 C99.70,688.53 97.45,686.93 95.40,685.40 C93.35,683.87 91.25,681.97 89.20,680.40 C87.15,678.83 85.15,677.30 83.10,676.00 C81.05,674.70 78.67,673.47 76.90,672.60 C75.13,671.73 73.85,671.30 72.50,670.80 C71.15,670.30 69.97,669.93 68.80,669.60 C67.63,669.27 66.55,669.08 65.50,668.80 C64.45,668.52 63.00,668.20 62.50,667.90 C62.00,667.60 62.00,667.33 62.50,667.00 Z" fill="#c6c6c6"/>
<g fill="#c6c6c6"><rect x="93.1" y="650.3" width="0.9" height="0.9"/><rect x="112.8" y="643.7" width="0.9" height="0.9"/><rect x="68.4" y="669.8" width="0.9" height="0.9"/><rect x="69.5" y="664.9" width="0.9" height="0.9"/><rect x="102.5" y="690.6" width="0.9" height="0.9"/><rect x="121.4" y="688.1" width="0.9" height="0.9"/><rect x="116.7" y="644.7" width="0.9" height="0.9"/><rect x="142.8" y="657.5" width="0.9" height="0.9"/><rect x="76.4" y="661.6" width="0.9" height="0.9"/><rect x="79.8" y="675.6" width="0.9" height="0.9"/><rect x="122.4" y="646.3" width="0.9" height="0.9"/><rect x="68.5" y="665.3" width="0.9" height="0.9"/><rect x="126.3" y="647.2" width="0.9" height="0.9"/><rect x="105.1" y="641.9" width="0.9" height="0.9"/><rect x="136.9" y="677.9" width="0.9" height="0.9"/><rect x="111.8" y="693.3" width="0.9" height="0.9"/><rect x="130.8" y="649.0" width="0.9" height="0.9"/><rect x="101.9" y="689.6" width="0.9" height="0.9"/><rect x="77.1" y="660.4" width="0.9" height="0.9"/><rect x="134.1" y="680.6" width="0.9" height="0.9"/><rect x="144.4" y="657.8" width="0.9" height="0.9"/><rect x="116.9" y="642.6" width="0.9" height="0.9"/><rect x="141.1" y="679.4" width="0.9" height="0.9"/><rect x="68.6" y="669.4" width="0.9" height="0.9"/><rect x="123.2" y="686.9" width="0.9" height="0.9"/><rect x="98.9" y="688.7" width="0.9" height="0.9"/><rect x="65.1" y="666.2" width="0.9" height="0.9"/><rect x="68.5" y="669.5" width="0.9" height="0.9"/><rect x="75.0" y="661.5" width="0.9" height="0.9"/><rect x="70.5" y="663.9" width="0.9" height="0.9"/><rect x="114.1" y="692.0" width="0.9" height="0.9"/><rect x="88.9" y="651.2" width="0.9" height="0.9"/><rect x="96.4" y="686.6" width="0.9" height="0.9"/><rect x="79.4" y="660.1" width="0.9" height="0.9"/><rect x="84.7" y="655.9" width="0.9" height="0.9"/><rect x="63.4" y="666.8" width="0.9" height="0.9"/><rect x="97.3" y="688.7" width="0.9" height="0.9"/><rect x="110.9" y="691.7" width="0.9" height="0.9"/><rect x="125.9" y="644.8" width="0.9" height="0.9"/><rect x="144.3" y="676.0" width="0.9" height="0.9"/><rect x="99.5" y="645.0" width="0.9" height="0.9"/><rect x="68.8" y="664.8" width="0.9" height="0.9"/><rect x="82.4" y="658.2" width="0.9" height="0.9"/><rect x="63.0" y="667.0" width="0.9" height="0.9"/><rect x="72.4" y="662.6" width="0.9" height="0.9"/><rect x="120.1" y="645.6" width="0.9" height="0.9"/><rect x="86.5" y="655.0" width="0.9" height="0.9"/><rect x="142.0" y="675.6" width="0.9" height="0.9"/><rect x="106.3" y="643.0" width="0.9" height="0.9"/><rect x="94.9" y="649.1" width="0.9" height="0.9"/><rect x="140.1" y="648.1" width="0.9" height="0.9"/><rect x="112.1" y="643.6" width="0.9" height="0.9"/><rect x="113.5" y="638.7" width="0.9" height="0.9"/><rect x="143.3" y="675.0" width="0.9" height="0.9"/><rect x="87.3" y="653.7" width="0.9" height="0.9"/><rect x="112.5" y="693.6" width="0.9" height="0.9"/><rect x="93.7" y="648.7" width="0.9" height="0.9"/><rect x="142.3" y="682.4" width="0.9" height="0.9"/><rect x="139.1" y="676.8" width="0.9" height="0.9"/><rect x="96.1" y="646.9" width="0.9" height="0.9"/><rect x="65.6" y="666.1" width="0.9" height="0.9"/><rect x="152.0" y="662.1" width="0.9" height="0.9"/><rect x="150.1" y="671.3" width="0.9" height="0.9"/><rect x="83.5" y="657.3" width="0.9" height="0.9"/><rect x="81.3" y="657.5" width="0.9" height="0.9"/><rect x="141.2" y="651.7" width="0.9" height="0.9"/><rect x="123.7" y="688.8" width="0.9" height="0.9"/><rect x="147.6" y="672.7" width="0.9" height="0.9"/><rect x="132.8" y="649.0" width="0.9" height="0.9"/><rect x="93.9" y="686.2" width="0.9" height="0.9"/><rect x="153.4" y="660.5" width="0.9" height="0.9"/><rect x="130.4" y="646.4" width="0.9" height="0.9"/><rect x="74.8" y="661.7" width="0.9" height="0.9"/><rect x="76.6" y="673.1" width="0.9" height="0.9"/><rect x="154.2" y="670.5" width="0.9" height="0.9"/><rect x="75.2" y="661.9" width="0.9" height="0.9"/><rect x="153.3" y="675.8" width="0.9" height="0.9"/><rect x="103.3" y="690.9" width="0.9" height="0.9"/><rect x="139.8" y="655.2" width="0.9" height="0.9"/><rect x="85.4" y="678.3" width="0.9" height="0.9"/><rect x="87.1" y="653.0" width="0.9" height="0.9"/><rect x="95.9" y="646.4" width="0.9" height="0.9"/><rect x="117.3" y="693.2" width="0.9" height="0.9"/><rect x="109.7" y="693.1" width="0.9" height="0.9"/><rect x="111.7" y="643.1" width="0.9" height="0.9"/><rect x="63.4" y="668.0" width="0.9" height="0.9"/><rect x="79.0" y="660.3" width="0.9" height="0.9"/><rect x="93.3" y="685.2" width="0.9" height="0.9"/><rect x="114.7" y="692.1" width="0.9" height="0.9"/><rect x="86.1" y="654.7" width="0.9" height="0.9"/><rect x="134.8" y="683.5" width="0.9" height="0.9"/><rect x="147.9" y="661.2" width="0.9" height="0.9"/><rect x="120.0" y="691.2" width="0.9" height="0.9"/><rect x="105.1" y="691.2" width="0.9" height="0.9"/><rect x="107.5" y="692.5" width="0.9" height="0.9"/><rect x="150.6" y="660.8" width="0.9" height="0.9"/><rect x="115.0" y="690.4" width="0.9" height="0.9"/><rect x="74.3" y="662.8" width="0.9" height="0.9"/><rect x="69.7" y="664.1" width="0.9" height="0.9"/><rect x="135.9" y="680.3" width="0.9" height="0.9"/><rect x="77.4" y="672.8" width="0.9" height="0.9"/><rect x="145.1" y="673.7" width="0.9" height="0.9"/><rect x="83.4" y="677.0" width="0.9" height="0.9"/><rect x="155.1" y="670.3" width="0.9" height="0.9"/><rect x="78.0" y="660.3" width="0.9" height="0.9"/><rect x="81.2" y="659.0" width="0.9" height="0.9"/><rect x="130.2" y="647.3" width="0.9" height="0.9"/><rect x="64.7" y="666.3" width="0.9" height="0.9"/><rect x="121.0" y="693.4" width="0.9" height="0.9"/><rect x="136.3" y="681.4" width="0.9" height="0.9"/><rect x="72.7" y="662.7" width="0.9" height="0.9"/><rect x="88.2" y="653.5" width="0.9" height="0.9"/><rect x="102.3" y="690.2" width="0.9" height="0.9"/><rect x="76.9" y="672.9" width="0.9" height="0.9"/><rect x="116.1" y="690.0" width="0.9" height="0.9"/><rect x="127.0" y="648.3" width="0.9" height="0.9"/><rect x="69.7" y="670.4" width="0.9" height="0.9"/><rect x="70.8" y="670.9" width="0.9" height="0.9"/><rect x="69.2" y="670.0" width="0.9" height="0.9"/><rect x="114.4" y="690.6" width="0.9" height="0.9"/><rect x="87.9" y="653.4" width="0.9" height="0.9"/><rect x="73.2" y="663.7" width="0.9" height="0.9"/><rect x="67.7" y="665.4" width="0.9" height="0.9"/><rect x="133.6" y="649.4" width="0.9" height="0.9"/><rect x="109.5" y="643.8" width="0.9" height="0.9"/><rect x="86.3" y="655.3" width="0.9" height="0.9"/><rect x="131.2" y="682.5" width="0.9" height="0.9"/><rect x="149.9" y="662.8" width="0.9" height="0.9"/><rect x="139.2" y="649.0" width="0.9" height="0.9"/><rect x="99.6" y="688.1" width="0.9" height="0.9"/><rect x="127.0" y="686.7" width="0.9" height="0.9"/><rect x="128.7" y="687.1" width="0.9" height="0.9"/><rect x="100.6" y="645.4" width="0.9" height="0.9"/><rect x="69.6" y="669.7" width="0.9" height="0.9"/><rect x="86.8" y="653.1" width="0.9" height="0.9"/><rect x="144.0" y="676.1" width="0.9" height="0.9"/><rect x="89.2" y="652.9" width="0.9" height="0.9"/><rect x="77.7" y="660.4" width="0.9" height="0.9"/><rect x="87.5" y="680.4" width="0.9" height="0.9"/><rect x="85.7" y="677.9" width="0.9" height="0.9"/><rect x="91.8" y="650.2" width="0.9" height="0.9"/><rect x="107.1" y="691.4" width="0.9" height="0.9"/><rect x="81.7" y="675.8" width="0.9" height="0.9"/><rect x="71.3" y="664.5" width="0.9" height="0.9"/><rect x="66.9" y="665.7" width="0.9" height="0.9"/><rect x="117.5" y="690.2" width="0.9" height="0.9"/><rect x="132.8" y="681.6" width="0.9" height="0.9"/><rect x="99.2" y="643.7" width="0.9" height="0.9"/><rect x="154.6" y="666.5" width="0.9" height="0.9"/><rect x="67.1" y="669.7" width="0.9" height="0.9"/><rect x="146.0" y="672.1" width="0.9" height="0.9"/><rect x="76.0" y="673.5" width="0.9" height="0.9"/><rect x="109.9" y="692.2" width="0.9" height="0.9"/><rect x="117.3" y="692.7" width="0.9" height="0.9"/><rect x="126.5" y="684.4" width="0.9" height="0.9"/><rect x="75.4" y="662.5" width="0.9" height="0.9"/><rect x="72.8" y="671.6" width="0.9" height="0.9"/><rect x="121.2" y="688.2" width="0.9" height="0.9"/><rect x="108.5" y="643.0" width="0.9" height="0.9"/><rect x="109.8" y="694.1" width="0.9" height="0.9"/><rect x="124.3" y="647.7" width="0.9" height="0.9"/><rect x="69.9" y="664.4" width="0.9" height="0.9"/><rect x="130.8" y="649.9" width="0.9" height="0.9"/><rect x="108.9" y="638.6" width="0.9" height="0.9"/><rect x="107.5" y="691.6" width="0.9" height="0.9"/><rect x="122.8" y="643.9" width="0.9" height="0.9"/><rect x="76.7" y="662.0" width="0.9" height="0.9"/><rect x="115.8" y="643.2" width="0.9" height="0.9"/><rect x="68.6" y="664.9" width="0.9" height="0.9"/><rect x="125.8" y="644.9" width="0.9" height="0.9"/><rect x="111.0" y="643.2" width="0.9" height="0.9"/><rect x="146.1" y="660.8" width="0.9" height="0.9"/><rect x="154.0" y="671.7" width="0.9" height="0.9"/><rect x="139.3" y="676.6" width="0.9" height="0.9"/><rect x="104.8" y="643.2" width="0.9" height="0.9"/><rect x="82.6" y="678.0" width="0.9" height="0.9"/><rect x="76.2" y="672.5" width="0.9" height="0.9"/><rect x="139.3" y="676.6" width="0.9" height="0.9"/><rect x="145.5" y="672.7" width="0.9" height="0.9"/><rect x="108.2" y="639.8" width="0.9" height="0.9"/><rect x="63.3" y="666.6" width="0.9" height="0.9"/><rect x="76.1" y="662.1" width="0.9" height="0.9"/><rect x="92.4" y="685.0" width="0.9" height="0.9"/><rect x="141.0" y="656.1" width="0.9" height="0.9"/><rect x="149.2" y="671.3" width="0.9" height="0.9"/><rect x="97.6" y="647.1" width="0.9" height="0.9"/><rect x="155.9" y="670.3" width="0.9" height="0.9"/><rect x="88.6" y="652.7" width="0.9" height="0.9"/><rect x="72.5" y="670.9" width="0.9" height="0.9"/><rect x="86.2" y="652.8" width="0.9" height="0.9"/><rect x="110.5" y="640.6" width="0.9" height="0.9"/><rect x="145.2" y="677.7" width="0.9" height="0.9"/><rect x="121.7" y="689.6" width="0.9" height="0.9"/><rect x="129.9" y="648.7" width="0.9" height="0.9"/><rect x="131.1" y="650.4" width="0.9" height="0.9"/><rect x="89.6" y="651.1" width="0.9" height="0.9"/><rect x="149.2" y="662.2" width="0.9" height="0.9"/><rect x="90.7" y="681.5" width="0.9" height="0.9"/><rect x="153.8" y="665.7" width="0.9" height="0.9"/><rect x="114.8" y="643.3" width="0.9" height="0.9"/><rect x="78.6" y="660.3" width="0.9" height="0.9"/><rect x="109.2" y="639.9" width="0.9" height="0.9"/><rect x="147.3" y="672.2" width="0.9" height="0.9"/><rect x="80.9" y="659.1" width="0.9" height="0.9"/><rect x="94.8" y="649.4" width="0.9" height="0.9"/><rect x="116.0" y="691.0" width="0.9" height="0.9"/><rect x="132.7" y="648.2" width="0.9" height="0.9"/><rect x="98.0" y="646.7" width="0.9" height="0.9"/><rect x="68.8" y="665.0" width="0.9" height="0.9"/><rect x="109.8" y="691.1" width="0.9" height="0.9"/><rect x="143.2" y="657.7" width="0.9" height="0.9"/><rect x="100.2" y="645.3" width="0.9" height="0.9"/><rect x="151.7" y="668.4" width="0.9" height="0.9"/><rect x="66.0" y="668.7" width="0.9" height="0.9"/><rect x="146.3" y="661.4" width="0.9" height="0.9"/><rect x="99.4" y="687.9" width="0.9" height="0.9"/><rect x="139.8" y="678.1" width="0.9" height="0.9"/><rect x="73.1" y="663.7" width="0.9" height="0.9"/><rect x="111.6" y="693.7" width="0.9" height="0.9"/><rect x="123.2" y="687.4" width="0.9" height="0.9"/><rect x="105.5" y="694.3" width="0.9" height="0.9"/><rect x="84.6" y="677.3" width="0.9" height="0.9"/><rect x="123.0" y="646.1" width="0.9" height="0.9"/><rect x="122.2" y="687.8" width="0.9" height="0.9"/><rect x="73.4" y="662.6" width="0.9" height="0.9"/><rect x="99.1" y="646.8" width="0.9" height="0.9"/><rect x="118.9" y="645.2" width="0.9" height="0.9"/><rect x="152.2" y="671.5" width="0.9" height="0.9"/><rect x="145.2" y="659.9" width="0.9" height="0.9"/><rect x="152.3" y="670.5" width="0.9" height="0.9"/><rect x="91.6" y="649.6" width="0.9" height="0.9"/><rect x="102.1" y="645.5" width="0.9" height="0.9"/><rect x="125.1" y="685.2" width="0.9" height="0.9"/><rect x="94.4" y="649.4" width="0.9" height="0.9"/><rect x="126.5" y="647.4" width="0.9" height="0.9"/><rect x="110.0" y="641.0" width="0.9" height="0.9"/><rect x="153.2" y="666.2" width="0.9" height="0.9"/><rect x="83.6" y="676.8" width="0.9" height="0.9"/><rect x="90.4" y="682.0" width="0.9" height="0.9"/><rect x="83.8" y="657.4" width="0.9" height="0.9"/><rect x="124.9" y="686.7" width="0.9" height="0.9"/><rect x="82.8" y="676.4" width="0.9" height="0.9"/><rect x="76.2" y="661.4" width="0.9" height="0.9"/><rect x="146.5" y="672.3" width="0.9" height="0.9"/><rect x="131.1" y="683.6" width="0.9" height="0.9"/><rect x="80.3" y="674.5" width="0.9" height="0.9"/><rect x="132.4" y="649.6" width="0.9" height="0.9"/><rect x="97.8" y="646.5" width="0.9" height="0.9"/><rect x="78.7" y="660.5" width="0.9" height="0.9"/><rect x="151.9" y="664.2" width="0.9" height="0.9"/><rect x="152.7" y="663.4" width="0.9" height="0.9"/><rect x="139.4" y="650.5" width="0.9" height="0.9"/><rect x="67.6" y="664.7" width="0.9" height="0.9"/><rect x="81.0" y="657.6" width="0.9" height="0.9"/><rect x="146.4" y="656.6" width="0.9" height="0.9"/><rect x="134.3" y="649.2" width="0.9" height="0.9"/><rect x="66.2" y="665.6" width="0.9" height="0.9"/><rect x="132.5" y="681.6" width="0.9" height="0.9"/><rect x="94.5" y="647.7" width="0.9" height="0.9"/><rect x="87.4" y="679.2" width="0.9" height="0.9"/><rect x="92.4" y="648.7" width="0.9" height="0.9"/><rect x="148.2" y="669.9" width="0.9" height="0.9"/><rect x="150.7" y="666.9" width="0.9" height="0.9"/><rect x="152.0" y="671.7" width="0.9" height="0.9"/><rect x="98.9" y="645.5" width="0.9" height="0.9"/><rect x="149.3" y="663.8" width="0.9" height="0.9"/><rect x="137.6" y="679.5" width="0.9" height="0.9"/><rect x="119.5" y="642.6" width="0.9" height="0.9"/><rect x="92.7" y="650.8" width="0.9" height="0.9"/><rect x="81.3" y="675.2" width="0.9" height="0.9"/><rect x="86.0" y="654.2" width="0.9" height="0.9"/><rect x="93.3" y="683.8" width="0.9" height="0.9"/><rect x="145.2" y="672.3" width="0.9" height="0.9"/><rect x="72.0" y="664.0" width="0.9" height="0.9"/><rect x="129.0" y="649.3" width="0.9" height="0.9"/><rect x="120.7" y="689.7" width="0.9" height="0.9"/><rect x="132.6" y="681.2" width="0.9" height="0.9"/><rect x="141.2" y="655.0" width="0.9" height="0.9"/><rect x="115.7" y="644.9" width="0.9" height="0.9"/><rect x="86.0" y="654.9" width="0.9" height="0.9"/><rect x="77.3" y="673.2" width="0.9" height="0.9"/><rect x="99.8" y="688.9" width="0.9" height="0.9"/><rect x="110.2" y="643.1" width="0.9" height="0.9"/><rect x="155.2" y="662.5" width="0.9" height="0.9"/><rect x="107.2" y="693.6" width="0.9" height="0.9"/><rect x="66.8" y="664.8" width="0.9" height="0.9"/><rect x="74.1" y="662.3" width="0.9" height="0.9"/><rect x="149.5" y="665.0" width="0.9" height="0.9"/><rect x="143.5" y="657.9" width="0.9" height="0.9"/><rect x="151.0" y="661.5" width="0.9" height="0.9"/><rect x="118.4" y="688.7" width="0.9" height="0.9"/><rect x="76.1" y="661.5" width="0.9" height="0.9"/><rect x="86.7" y="678.8" width="0.9" height="0.9"/><rect x="64.1" y="666.5" width="0.9" height="0.9"/><rect x="126.1" y="647.8" width="0.9" height="0.9"/><rect x="137.0" y="679.5" width="0.9" height="0.9"/><rect x="68.9" y="664.6" width="0.9" height="0.9"/><rect x="122.4" y="645.3" width="0.9" height="0.9"/><rect x="78.2" y="673.7" width="0.9" height="0.9"/><rect x="91.6" y="682.6" width="0.9" height="0.9"/><rect x="92.0" y="683.3" width="0.9" height="0.9"/><rect x="143.4" y="676.0" width="0.9" height="0.9"/><rect x="96.8" y="648.2" width="0.9" height="0.9"/><rect x="63.5" y="668.2" width="0.9" height="0.9"/><rect x="102.4" y="692.7" width="0.9" height="0.9"/><rect x="105.9" y="641.7" width="0.9" height="0.9"/><rect x="64.4" y="668.8" width="0.9" height="0.9"/><rect x="71.3" y="671.3" width="0.9" height="0.9"/><rect x="97.5" y="687.3" width="0.9" height="0.9"/><rect x="111.5" y="692.0" width="0.9" height="0.9"/><rect x="73.1" y="663.1" width="0.9" height="0.9"/><rect x="81.4" y="656.5" width="0.9" height="0.9"/><rect x="150.7" y="669.0" width="0.9" height="0.9"/><rect x="149.1" y="665.0" width="0.9" height="0.9"/><rect x="147.1" y="671.5" width="0.9" height="0.9"/><rect x="136.1" y="651.3" width="0.9" height="0.9"/><rect x="100.6" y="689.2" width="0.9" height="0.9"/><rect x="83.3" y="657.1" width="0.9" height="0.9"/><rect x="111.2" y="643.1" width="0.9" height="0.9"/><rect x="130.4" y="683.3" width="0.9" height="0.9"/><rect x="66.8" y="668.8" width="0.9" height="0.9"/><rect x="141.0" y="655.3" width="0.9" height="0.9"/><rect x="118.8" y="689.5" width="0.9" height="0.9"/><rect x="102.1" y="690.6" width="0.9" height="0.9"/><rect x="102.6" y="691.6" width="0.9" height="0.9"/><rect x="65.2" y="668.6" width="0.9" height="0.9"/><rect x="108.5" y="643.7" width="0.9" height="0.9"/><rect x="105.6" y="640.7" width="0.9" height="0.9"/><rect x="107.0" y="642.4" width="0.9" height="0.9"/><rect x="71.5" y="663.9" width="0.9" height="0.9"/><rect x="110.4" y="643.6" width="0.9" height="0.9"/><rect x="131.2" y="682.2" width="0.9" height="0.9"/><rect x="110.6" y="642.2" width="0.9" height="0.9"/><rect x="151.4" y="667.2" width="0.9" height="0.9"/><rect x="142.7" y="674.5" width="0.9" height="0.9"/><rect x="81.0" y="676.4" width="0.9" height="0.9"/><rect x="108.7" y="692.1" width="0.9" height="0.9"/><rect x="136.3" y="679.0" width="0.9" height="0.9"/><rect x="69.1" y="665.2" width="0.9" height="0.9"/><rect x="146.4" y="659.6" width="0.9" height="0.9"/><rect x="138.9" y="647.7" width="0.9" height="0.9"/><rect x="82.4" y="658.3" width="0.9" height="0.9"/><rect x="110.1" y="642.9" width="0.9" height="0.9"/><rect x="78.0" y="673.0" width="0.9" height="0.9"/><rect x="126.2" y="686.7" width="0.9" height="0.9"/><rect x="73.7" y="672.2" width="0.9" height="0.9"/><rect x="122.2" y="644.9" width="0.9" height="0.9"/><rect x="116.9" y="691.0" width="0.9" height="0.9"/><rect x="72.7" y="671.1" width="0.9" height="0.9"/><rect x="137.2" y="651.3" width="0.9" height="0.9"/><rect x="155.1" y="671.7" width="0.9" height="0.9"/><rect x="104.1" y="642.3" width="0.9" height="0.9"/><rect x="132.2" y="650.0" width="0.9" height="0.9"/><rect x="122.4" y="688.0" width="0.9" height="0.9"/><rect x="117.5" y="688.7" width="0.9" height="0.9"/><rect x="66.1" y="666.0" width="0.9" height="0.9"/><rect x="120.3" y="641.4" width="0.9" height="0.9"/><rect x="75.3" y="662.6" width="0.9" height="0.9"/><rect x="123.7" y="645.3" width="0.9" height="0.9"/><rect x="72.9" y="663.9" width="0.9" height="0.9"/><rect x="83.9" y="676.9" width="0.9" height="0.9"/><rect x="121.0" y="645.8" width="0.9" height="0.9"/><rect x="75.5" y="671.8" width="0.9" height="0.9"/><rect x="71.9" y="670.7" width="0.9" height="0.9"/><rect x="144.0" y="675.0" width="0.9" height="0.9"/><rect x="64.1" y="668.3" width="0.9" height="0.9"/><rect x="115.3" y="643.5" width="0.9" height="0.9"/><rect x="150.2" y="671.1" width="0.9" height="0.9"/><rect x="86.1" y="679.3" width="0.9" height="0.9"/><rect x="100.8" y="645.6" width="0.9" height="0.9"/><rect x="68.4" y="670.0" width="0.9" height="0.9"/><rect x="150.5" y="666.8" width="0.9" height="0.9"/><rect x="81.6" y="676.4" width="0.9" height="0.9"/><rect x="138.6" y="654.0" width="0.9" height="0.9"/><rect x="91.8" y="648.8" width="0.9" height="0.9"/><rect x="135.8" y="680.2" width="0.9" height="0.9"/><rect x="63.6" y="667.9" width="0.9" height="0.9"/><rect x="132.0" y="647.7" width="0.9" height="0.9"/><rect x="84.0" y="657.2" width="0.9" height="0.9"/><rect x="94.2" y="684.5" width="0.9" height="0.9"/><rect x="127.6" y="684.1" width="0.9" height="0.9"/><rect x="114.5" y="643.1" width="0.9" height="0.9"/><rect x="136.3" y="678.5" width="0.9" height="0.9"/><rect x="152.8" y="662.4" width="0.9" height="0.9"/><rect x="144.8" y="659.6" width="0.9" height="0.9"/><rect x="132.2" y="682.8" width="0.9" height="0.9"/><rect x="132.4" y="649.2" width="0.9" height="0.9"/><rect x="85.2" y="678.0" width="0.9" height="0.9"/><rect x="121.7" y="690.1" width="0.9" height="0.9"/><rect x="106.7" y="696.0" width="0.9" height="0.9"/><rect x="127.9" y="687.3" width="0.9" height="0.9"/><rect x="116.0" y="643.8" width="0.9" height="0.9"/><rect x="82.7" y="677.6" width="0.9" height="0.9"/><rect x="76.4" y="661.2" width="0.9" height="0.9"/><rect x="72.9" y="670.9" width="0.9" height="0.9"/><rect x="65.7" y="665.9" width="0.9" height="0.9"/><rect x="127.4" y="685.1" width="0.9" height="0.9"/><rect x="69.1" y="670.4" width="0.9" height="0.9"/><rect x="96.8" y="687.5" width="0.9" height="0.9"/><rect x="69.1" y="670.6" width="0.9" height="0.9"/><rect x="148.0" y="671.7" width="0.9" height="0.9"/><rect x="73.4" y="663.3" width="0.9" height="0.9"/><rect x="141.8" y="678.3" width="0.9" height="0.9"/><rect x="121.7" y="643.6" width="0.9" height="0.9"/><rect x="72.3" y="664.1" width="0.9" height="0.9"/><rect x="92.7" y="650.0" width="0.9" height="0.9"/><rect x="64.9" y="666.2" width="0.9" height="0.9"/><rect x="97.2" y="645.7" width="0.9" height="0.9"/><rect x="152.7" y="670.7" width="0.9" height="0.9"/><rect x="65.9" y="665.5" width="0.9" height="0.9"/><rect x="103.6" y="691.9" width="0.9" height="0.9"/><rect x="113.0" y="641.7" width="0.9" height="0.9"/><rect x="143.2" y="657.2" width="0.9" height="0.9"/><rect x="63.1" y="666.8" width="0.9" height="0.9"/><rect x="133.9" y="682.9" width="0.9" height="0.9"/><rect x="108.7" y="691.2" width="0.9" height="0.9"/><rect x="80.2" y="658.7" width="0.9" height="0.9"/><rect x="87.2" y="680.6" width="0.9" height="0.9"/><rect x="89.4" y="652.7" width="0.9" height="0.9"/><rect x="73.2" y="671.7" width="0.9" height="0.9"/><rect x="149.1" y="669.1" width="0.9" height="0.9"/><rect x="159.0" y="660.7" width="0.9" height="0.9"/><rect x="156.8" y="664.7" width="0.9" height="0.9"/><rect x="153.5" y="671.1" width="0.9" height="0.9"/><rect x="160.5" y="675.6" width="0.9" height="0.9"/><rect x="148.4" y="672.4" width="0.9" height="0.9"/><rect x="150.9" y="666.7" width="0.9" height="0.9"/><rect x="155.0" y="677.1" width="0.9" height="0.9"/><rect x="153.3" y="669.9" width="0.9" height="0.9"/><rect x="154.5" y="665.3" width="0.9" height="0.9"/><rect x="155.4" y="667.7" width="0.9" height="0.9"/><rect x="157.0" y="660.0" width="0.9" height="0.9"/><rect x="152.9" y="666.3" width="0.9" height="0.9"/><rect x="159.8" y="669.8" width="0.9" height="0.9"/><rect x="157.3" y="667.4" width="0.9" height="0.9"/><rect x="154.1" y="664.8" width="0.9" height="0.9"/><rect x="158.8" y="665.4" width="0.9" height="0.9"/><rect x="154.5" y="666.4" width="0.9" height="0.9"/><rect x="160.4" y="667.7" width="0.9" height="0.9"/><rect x="152.2" y="670.4" width="0.9" height="0.9"/><rect x="157.8" y="668.9" width="0.9" height="0.9"/><rect x="150.2" y="665.3" width="0.9" height="0.9"/><rect x="151.5" y="665.0" width="0.9" height="0.9"/><rect x="150.3" y="672.3" width="0.9" height="0.9"/><rect x="152.6" y="672.1" width="0.9" height="0.9"/><rect x="158.2" y="678.9" width="0.9" height="0.9"/><rect x="149.4" y="669.5" width="0.9" height="0.9"/><rect x="153.4" y="667.0" width="0.9" height="0.9"/><rect x="161.8" y="669.5" width="0.9" height="0.9"/><rect x="154.1" y="660.5" width="0.9" height="0.9"/><rect x="150.7" y="666.1" width="0.9" height="0.9"/><rect x="150.9" y="665.9" width="0.9" height="0.9"/><rect x="153.4" y="671.9" width="0.9" height="0.9"/><rect x="159.1" y="668.5" width="0.9" height="0.9"/><rect x="157.7" y="661.1" width="0.9" height="0.9"/><rect x="154.5" y="667.5" width="0.9" height="0.9"/><rect x="150.0" y="663.9" width="0.9" height="0.9"/><rect x="158.4" y="664.7" width="0.9" height="0.9"/><rect x="160.7" y="662.2" width="0.9" height="0.9"/><rect x="158.5" y="670.0" width="0.9" height="0.9"/><rect x="153.9" y="668.5" width="0.9" height="0.9"/><rect x="160.3" y="674.6" width="0.9" height="0.9"/><rect x="158.8" y="664.8" width="0.9" height="0.9"/><rect x="157.5" y="659.1" width="0.9" height="0.9"/><rect x="157.0" y="663.8" width="0.9" height="0.9"/><rect x="156.8" y="668.6" width="0.9" height="0.9"/><rect x="149.4" y="660.6" width="0.9" height="0.9"/><rect x="158.0" y="671.3" width="0.9" height="0.9"/><rect x="156.8" y="667.5" width="0.9" height="0.9"/><rect x="154.4" y="672.2" width="0.9" height="0.9"/></g>
<g fill="#f00"><rect x="106.3" y="615.1" width="1.8" height="1.8"/><rect x="117.0" y="614.2" width="1.8" height="1.8"/><rect x="112.4" y="617.6" width="1.8" height="1.8"/><rect x="129.7" y="622.0" width="1.8" height="1.8"/><rect x="108.6" y="625.9" width="1.8" height="1.8"/><rect x="115.1" y="627.7" width="1.8" height="1.8"/><rect x="112.7" y="631.0" width="1.8" height="1.8"/><rect x="115.7" y="631.0" width="1.8" height="1.8"/><rect x="126.1" y="633.0" width="1.8" height="1.8"/><rect x="123.8" y="634.0" width="1.8" height="1.8"/><rect x="130.8" y="632.8" width="1.8" height="1.8"/><rect x="133.5" y="632.0" width="1.8" height="1.8"/><rect x="100.5" y="635.1" width="1.8" height="1.8"/><rect x="104.2" y="634.4" width="1.8" height="1.8"/><rect x="107.9" y="636.1" width="1.8" height="1.8"/><rect x="112.2" y="635.7" width="1.8" height="1.8"/><rect x="102.6" y="637.7" width="1.8" height="1.8"/><rect x="99.2" y="640.8" width="1.8" height="1.8"/><rect x="135.5" y="640.2" width="1.8" height="1.8"/><rect x="138.0" y="643.8" width="1.8" height="1.8"/><rect x="124.1" y="639.4" width="1.8" height="1.8"/><rect x="105.9" y="721.9" width="1.8" height="1.8"/><rect x="115.3" y="713.1" width="1.8" height="1.8"/><rect x="126.5" y="716.1" width="1.8" height="1.8"/><rect x="125.2" y="707.3" width="1.8" height="1.8"/><rect x="117.4" y="707.7" width="1.8" height="1.8"/><rect x="113.6" y="706.0" width="1.8" height="1.8"/><rect x="107.3" y="706.1" width="1.8" height="1.8"/><rect x="103.2" y="705.1" width="1.8" height="1.8"/><rect x="101.5" y="702.8" width="1.8" height="1.8"/><rect x="130.1" y="700.1" width="1.8" height="1.8"/><rect x="148.3" y="692.3" width="1.8" height="1.8"/><rect x="140.2" y="683.3" width="1.8" height="1.8"/><rect x="142.3" y="676.8" width="1.8" height="1.8"/><rect x="131.5" y="692.9" width="1.8" height="1.8"/><rect x="131.2" y="687.6" width="1.8" height="1.8"/><rect x="107.1" y="711.6" width="1.8" height="1.8"/><rect x="111.1" y="701.1" width="1.8" height="1.8"/><rect x="120.6" y="710.6" width="1.8" height="1.8"/><rect x="135.6" y="696.1" width="1.8" height="1.8"/><rect x="127.6" y="696.6" width="1.8" height="1.8"/><rect x="128.9" y="638.7" width="1.8" height="1.8"/><rect x="143.7" y="651.2" width="1.8" height="1.8"/><rect x="107.9" y="634.6" width="1.8" height="1.8"/><rect x="117.8" y="633.6" width="1.8" height="1.8"/><rect x="122.6" y="642.8" width="1.8" height="1.8"/><rect x="125.2" y="645.2" width="1.8" height="1.8"/><rect x="106.8" y="637.8" width="1.8" height="1.8"/><rect x="124.0" y="629.9" width="1.8" height="1.8"/><rect x="104.0" y="634.1" width="1.8" height="1.8"/><rect x="133.5" y="645.3" width="1.8" height="1.8"/><rect x="123.7" y="637.1" width="1.8" height="1.8"/><rect x="124.1" y="635.7" width="1.8" height="1.8"/><rect x="118.8" y="639.0" width="1.8" height="1.8"/><rect x="131.9" y="646.8" width="1.8" height="1.8"/><rect x="117.9" y="642.7" width="1.8" height="1.8"/><rect x="146.4" y="656.2" width="1.8" height="1.8"/><rect x="116.2" y="637.6" width="1.8" height="1.8"/><rect x="118.3" y="641.3" width="1.8" height="1.8"/><rect x="99.7" y="637.3" width="1.8" height="1.8"/><rect x="132.6" y="645.2" width="1.8" height="1.8"/><rect x="116.0" y="642.0" width="1.8" height="1.8"/><rect x="134.7" y="645.0" width="1.8" height="1.8"/><rect x="144.2" y="652.5" width="1.8" height="1.8"/><rect x="137.6" y="650.3" width="1.8" height="1.8"/><rect x="117.9" y="642.1" width="1.8" height="1.8"/><rect x="136.4" y="647.1" width="1.8" height="1.8"/><rect x="138.0" y="646.5" width="1.8" height="1.8"/><rect x="126.1" y="640.3" width="1.8" height="1.8"/><rect x="109.9" y="635.3" width="1.8" height="1.8"/><rect x="129.8" y="645.9" width="1.8" height="1.8"/><rect x="138.4" y="648.8" width="1.8" height="1.8"/><rect x="113.2" y="634.9" width="1.8" height="1.8"/><rect x="125.4" y="636.8" width="1.8" height="1.8"/><rect x="116.1" y="633.7" width="1.8" height="1.8"/><rect x="139.9" y="652.3" width="1.8" height="1.8"/><rect x="111.3" y="635.1" width="1.8" height="1.8"/><rect x="119.6" y="643.3" width="1.8" height="1.8"/><rect x="133.7" y="648.7" width="1.8" height="1.8"/><rect x="112.6" y="641.3" width="1.8" height="1.8"/><rect x="122.1" y="638.9" width="1.8" height="1.8"/><rect x="119.7" y="637.3" width="1.8" height="1.8"/><rect x="116.5" y="635.3" width="1.8" height="1.8"/><rect x="143.7" y="655.1" width="1.8" height="1.8"/><rect x="138.8" y="650.4" width="1.8" height="1.8"/><rect x="142.6" y="654.4" width="1.8" height="1.8"/><rect x="139.0" y="648.8" width="1.8" height="1.8"/><rect x="129.5" y="646.2" width="1.8" height="1.8"/><rect x="144.8" y="657.6" width="1.8" height="1.8"/><rect x="130.6" y="647.6" width="1.8" height="1.8"/><rect x="106.0" y="637.8" width="1.8" height="1.8"/><rect x="110.3" y="640.2" width="1.8" height="1.8"/><rect x="106.4" y="634.9" width="1.8" height="1.8"/><rect x="142.5" y="654.1" width="1.8" height="1.8"/><rect x="141.9" y="650.8" width="1.8" height="1.8"/><rect x="128.3" y="644.8" width="1.8" height="1.8"/><rect x="142.0" y="645.3" width="1.8" height="1.8"/><rect x="136.9" y="648.5" width="1.8" height="1.8"/><rect x="132.4" y="644.7" width="1.8" height="1.8"/><rect x="124.6" y="644.9" width="1.8" height="1.8"/><rect x="141.5" y="647.3" width="1.8" height="1.8"/><rect x="125.7" y="645.2" width="1.8" height="1.8"/><rect x="105.8" y="636.0" width="1.8" height="1.8"/><rect x="122.8" y="637.8" width="1.8" height="1.8"/><rect x="106.0" y="638.2" width="1.8" height="1.8"/><rect x="122.7" y="636.5" width="1.8" height="1.8"/><rect x="140.5" y="653.4" width="1.8" height="1.8"/><rect x="99.4" y="639.5" width="1.8" height="1.8"/><rect x="126.1" y="639.7" width="1.8" height="1.8"/><rect x="131.0" y="644.4" width="1.8" height="1.8"/><rect x="119.2" y="638.0" width="1.8" height="1.8"/><rect x="145.2" y="680.9" width="1.8" height="1.8"/><rect x="129.3" y="687.4" width="1.8" height="1.8"/><rect x="99.5" y="697.3" width="1.8" height="1.8"/><rect x="143.7" y="680.0" width="1.8" height="1.8"/><rect x="114.3" y="698.6" width="1.8" height="1.8"/><rect x="121.8" y="688.3" width="1.8" height="1.8"/><rect x="142.1" y="685.0" width="1.8" height="1.8"/><rect x="128.7" y="685.7" width="1.8" height="1.8"/><rect x="114.7" y="694.7" width="1.8" height="1.8"/><rect x="121.4" y="692.4" width="1.8" height="1.8"/><rect x="123.9" y="687.0" width="1.8" height="1.8"/><rect x="119.4" y="693.1" width="1.8" height="1.8"/><rect x="118.8" y="700.4" width="1.8" height="1.8"/><rect x="112.5" y="695.6" width="1.8" height="1.8"/><rect x="138.7" y="683.5" width="1.8" height="1.8"/><rect x="111.4" y="696.1" width="1.8" height="1.8"/><rect x="122.9" y="696.3" width="1.8" height="1.8"/><rect x="136.9" y="679.8" width="1.8" height="1.8"/><rect x="114.3" y="693.1" width="1.8" height="1.8"/><rect x="126.8" y="689.7" width="1.8" height="1.8"/><rect x="129.2" y="683.7" width="1.8" height="1.8"/><rect x="133.5" y="682.4" width="1.8" height="1.8"/><rect x="141.5" y="677.3" width="1.8" height="1.8"/><rect x="112.8" y="692.1" width="1.8" height="1.8"/><rect x="98.4" y="694.4" width="1.8" height="1.8"/><rect x="127.9" y="697.7" width="1.8" height="1.8"/><rect x="130.3" y="686.0" width="1.8" height="1.8"/><rect x="128.1" y="697.8" width="1.8" height="1.8"/><rect x="128.3" y="690.8" width="1.8" height="1.8"/><rect x="127.3" y="691.6" width="1.8" height="1.8"/><rect x="131.5" y="684.1" width="1.8" height="1.8"/><rect x="120.5" y="697.5" width="1.8" height="1.8"/><rect x="135.5" y="682.6" width="1.8" height="1.8"/><rect x="99.9" y="692.5" width="1.8" height="1.8"/><rect x="136.1" y="687.0" width="1.8" height="1.8"/><rect x="116.2" y="695.0" width="1.8" height="1.8"/><rect x="138.4" y="679.3" width="1.8" height="1.8"/><rect x="110.7" y="700.0" width="1.8" height="1.8"/><rect x="112.9" y="696.5" width="1.8" height="1.8"/><rect x="119.2" y="691.4" width="1.8" height="1.8"/><rect x="129.5" y="685.0" width="1.8" height="1.8"/><rect x="125.9" y="686.2" width="1.8" height="1.8"/><rect x="100.0" y="698.8" width="1.8" height="1.8"/><rect x="126.3" y="693.1" width="1.8" height="1.8"/><rect x="143.1" y="675.2" width="1.8" height="1.8"/><rect x="117.1" y="690.0" width="1.8" height="1.8"/><rect x="127.1" y="701.5" width="1.8" height="1.8"/><rect x="121.4" y="694.6" width="1.8" height="1.8"/><rect x="118.3" y="696.6" width="1.8" height="1.8"/><rect x="108.5" y="697.8" width="1.8" height="1.8"/><rect x="105.5" y="693.3" width="1.8" height="1.8"/><rect x="131.6" y="681.8" width="1.8" height="1.8"/><rect x="104.1" y="694.9" width="1.8" height="1.8"/><rect x="140.7" y="676.4" width="1.8" height="1.8"/><rect x="104.4" y="702.6" width="1.8" height="1.8"/><rect x="110.0" y="693.1" width="1.8" height="1.8"/><rect x="134.0" y="681.0" width="1.8" height="1.8"/><rect x="136.0" y="680.8" width="1.8" height="1.8"/><rect x="133.1" y="687.3" width="1.8" height="1.8"/><rect x="102.2" y="699.6" width="1.8" height="1.8"/><rect x="128.9" y="685.3" width="1.8" height="1.8"/><rect x="143.8" y="680.7" width="1.8" height="1.8"/><rect x="110.5" y="701.9" width="1.8" height="1.8"/><rect x="98.7" y="691.5" width="1.8" height="1.8"/><rect x="98.8" y="696.3" width="1.8" height="1.8"/><rect x="102.0" y="700.9" width="1.8" height="1.8"/><rect x="113.3" y="691.8" width="1.8" height="1.8"/><rect x="140.3" y="680.0" width="1.8" height="1.8"/><rect x="121.9" y="693.2" width="1.8" height="1.8"/><rect x="126.3" y="687.4" width="1.8" height="1.8"/></g>
<circle cx="100.1" cy="692.5" r="2.2" fill="#000"/>
<circle cx="123.4" cy="686.7" r="2.2" fill="#000"/>
<circle cx="121.2" cy="694.2" r="2.2" fill="#000"/>
<circle cx="118.9" cy="697.2" r="2.2" fill="#000"/>
<circle cx="118.3" cy="698.1" r="2.2" fill="#000"/>
<circle cx="136.4" cy="709" r="2.2" fill="#000"/>
<line x1="53.00" y1="605.00" x2="53.00" y2="728.50" stroke="#000" stroke-width="1.8"/>
<line x1="52.10" y1="727.80" x2="198.80" y2="727.80" stroke="#000" stroke-width="1.8"/>
<line x1="48.00" y1="631.60" x2="53.00" y2="631.60" stroke="#000" stroke-width="1.4"/>
<text x="42.60" y="635.80" font-size="12.3" text-anchor="end" textLength="5.60" lengthAdjust="spacingAndGlyphs">1</text>
<line x1="48.00" y1="665.70" x2="53.00" y2="665.70" stroke="#000" stroke-width="1.4"/>
<text x="42.60" y="669.90" font-size="12.3" text-anchor="end" textLength="6.80" lengthAdjust="spacingAndGlyphs">0</text>
<line x1="48.00" y1="699.20" x2="53.00" y2="699.20" stroke="#000" stroke-width="1.4"/>
<text x="42.60" y="703.40" font-size="12.3" text-anchor="end" textLength="13.20" lengthAdjust="spacingAndGlyphs">−1</text>
<line x1="55.20" y1="727.80" x2="55.20" y2="731.80" stroke="#000" stroke-width="1.4"/>
<text x="55.70" y="748.90" font-size="12.3" text-anchor="middle" textLength="13.20" lengthAdjust="spacingAndGlyphs">−5</text>
<line x1="82.20" y1="727.80" x2="82.20" y2="731.80" stroke="#000" stroke-width="1.4"/>
<text x="82.20" y="748.90" font-size="12.3" text-anchor="middle" textLength="7.00" lengthAdjust="spacingAndGlyphs">0</text>
<line x1="109.10" y1="727.80" x2="109.10" y2="731.80" stroke="#000" stroke-width="1.4"/>
<text x="109.10" y="748.90" font-size="12.3" text-anchor="middle" textLength="7.00" lengthAdjust="spacingAndGlyphs">5</text>
<line x1="136.10" y1="727.80" x2="136.10" y2="731.80" stroke="#000" stroke-width="1.4"/>
<text x="136.10" y="748.90" font-size="12.3" text-anchor="middle" textLength="14.20" lengthAdjust="spacingAndGlyphs">10</text>
<line x1="162.90" y1="727.80" x2="162.90" y2="731.80" stroke="#000" stroke-width="1.4"/>
<text x="162.90" y="748.90" font-size="12.3" text-anchor="middle" textLength="14.20" lengthAdjust="spacingAndGlyphs">15</text>
<line x1="189.70" y1="727.80" x2="189.70" y2="731.80" stroke="#000" stroke-width="1.4"/>
<text x="189.70" y="748.90" font-size="12.3" text-anchor="middle" textLength="15.60" lengthAdjust="spacingAndGlyphs">20</text>
<text x="79.80" y="767.80" font-size="14" textLength="92.00" lengthAdjust="spacingAndGlyphs">log2 mean counts</text>
<text x="21.90" y="686.10" font-size="14" textLength="38.00" lengthAdjust="spacingAndGlyphs" transform="rotate(-90 21.90 686.10)">Log2FC</text>
<text x="228.00" y="597.40" font-size="17.5" font-weight="bold" fill="#000">F</text>
<rect x="266.30" y="620.80" width="19.90" height="20.15" fill="#CF4A30" stroke="#c8c8c8" stroke-width="0.9"/>
<rect x="286.20" y="620.80" width="19.90" height="20.15" fill="#F8F4C8" stroke="#c8c8c8" stroke-width="0.9"/>
<rect x="306.10" y="620.80" width="19.90" height="20.15" fill="#E8A86A" stroke="#c8c8c8" stroke-width="0.9"/>
<rect x="326.00" y="620.80" width="19.90" height="20.15" fill="#EEC07E" stroke="#c8c8c8" stroke-width="0.9"/>
<rect x="345.90" y="620.80" width="19.90" height="20.15" fill="#90BEDC" stroke="#c8c8c8" stroke-width="0.9"/>
<rect x="365.80" y="620.80" width="19.90" height="20.15" fill="#C8E2F0" stroke="#c8c8c8" stroke-width="0.9"/>
<rect x="385.70" y="620.80" width="19.90" height="20.15" fill="#AED4EA" stroke="#c8c8c8" stroke-width="0.9"/>
<rect x="405.60" y="620.80" width="19.90" height="20.15" fill="#EEF3E0" stroke="#c8c8c8" stroke-width="0.9"/>
<rect x="266.30" y="640.95" width="19.90" height="20.15" fill="#D86C45" stroke="#c8c8c8" stroke-width="0.9"/>
<rect x="286.20" y="640.95" width="19.90" height="20.15" fill="#E39A62" stroke="#c8c8c8" stroke-width="0.9"/>
<rect x="306.10" y="640.95" width="19.90" height="20.15" fill="#E49C62" stroke="#c8c8c8" stroke-width="0.9"/>
<rect x="326.00" y="640.95" width="19.90" height="20.15" fill="#FCEFA0" stroke="#c8c8c8" stroke-width="0.9"/>
<rect x="345.90" y="640.95" width="19.90" height="20.15" fill="#A8CFE6" stroke="#c8c8c8" stroke-width="0.9"/>
<rect x="365.80" y="640.95" width="19.90" height="20.15" fill="#C9E3F0" stroke="#c8c8c8" stroke-width="0.9"/>
<rect x="385.70" y="640.95" width="19.90" height="20.15" fill="#B2D7EC" stroke="#c8c8c8" stroke-width="0.9"/>
<rect x="405.60" y="640.95" width="19.90" height="20.15" fill="#BCDCEE" stroke="#c8c8c8" stroke-width="0.9"/>
<rect x="266.30" y="661.10" width="19.90" height="20.15" fill="#F8D98A" stroke="#c8c8c8" stroke-width="0.9"/>
<rect x="286.20" y="661.10" width="19.90" height="20.15" fill="#D87048" stroke="#c8c8c8" stroke-width="0.9"/>
<rect x="306.10" y="661.10" width="19.90" height="20.15" fill="#FBE59A" stroke="#c8c8c8" stroke-width="0.9"/>
<rect x="326.00" y="661.10" width="19.90" height="20.15" fill="#D8774E" stroke="#c8c8c8" stroke-width="0.9"/>
<rect x="345.90" y="661.10" width="19.90" height="20.15" fill="#EEF2E6" stroke="#c8c8c8" stroke-width="0.9"/>
<rect x="365.80" y="661.10" width="19.90" height="20.15" fill="#A6CCE4" stroke="#c8c8c8" stroke-width="0.9"/>
<rect x="385.70" y="661.10" width="19.90" height="20.15" fill="#B8DAEE" stroke="#c8c8c8" stroke-width="0.9"/>
<rect x="405.60" y="661.10" width="19.90" height="20.15" fill="#8DBCDD" stroke="#c8c8c8" stroke-width="0.9"/>
<rect x="266.30" y="681.25" width="19.90" height="20.15" fill="#FBF2B5" stroke="#c8c8c8" stroke-width="0.9"/>
<rect x="286.20" y="681.25" width="19.90" height="20.15" fill="#E6A46C" stroke="#c8c8c8" stroke-width="0.9"/>
<rect x="306.10" y="681.25" width="19.90" height="20.15" fill="#F9E09A" stroke="#c8c8c8" stroke-width="0.9"/>
<rect x="326.00" y="681.25" width="19.90" height="20.15" fill="#CC3E2A" stroke="#c8c8c8" stroke-width="0.9"/>
<rect x="345.90" y="681.25" width="19.90" height="20.15" fill="#90BCDC" stroke="#c8c8c8" stroke-width="0.9"/>
<rect x="365.80" y="681.25" width="19.90" height="20.15" fill="#CCE4F1" stroke="#c8c8c8" stroke-width="0.9"/>
<rect x="385.70" y="681.25" width="19.90" height="20.15" fill="#EEF2DE" stroke="#c8c8c8" stroke-width="0.9"/>
<rect x="405.60" y="681.25" width="19.90" height="20.15" fill="#B0D4EA" stroke="#c8c8c8" stroke-width="0.9"/>
<rect x="266.30" y="701.40" width="19.90" height="20.15" fill="#ECB478" stroke="#c8c8c8" stroke-width="0.9"/>
<rect x="286.20" y="701.40" width="19.90" height="20.15" fill="#F8F2BC" stroke="#c8c8c8" stroke-width="0.9"/>
<rect x="306.10" y="701.40" width="19.90" height="20.15" fill="#C8302A" stroke="#c8c8c8" stroke-width="0.9"/>
<rect x="326.00" y="701.40" width="19.90" height="20.15" fill="#FCEEA4" stroke="#c8c8c8" stroke-width="0.9"/>
<rect x="345.90" y="701.40" width="19.90" height="20.15" fill="#B0D4EA" stroke="#c8c8c8" stroke-width="0.9"/>
<rect x="365.80" y="701.40" width="19.90" height="20.15" fill="#8DBBDB" stroke="#c8c8c8" stroke-width="0.9"/>
<rect x="385.70" y="701.40" width="19.90" height="20.15" fill="#D7EAF4" stroke="#c8c8c8" stroke-width="0.9"/>
<rect x="405.60" y="701.40" width="19.90" height="20.15" fill="#F2F4DC" stroke="#c8c8c8" stroke-width="0.9"/>
<rect x="266.30" y="721.55" width="19.90" height="20.15" fill="#FCE7A0" stroke="#c8c8c8" stroke-width="0.9"/>
<rect x="286.20" y="721.55" width="19.90" height="20.15" fill="#E2925E" stroke="#c8c8c8" stroke-width="0.9"/>
<rect x="306.10" y="721.55" width="19.90" height="20.15" fill="#FBE49C" stroke="#c8c8c8" stroke-width="0.9"/>
<rect x="326.00" y="721.55" width="19.90" height="20.15" fill="#D4643E" stroke="#c8c8c8" stroke-width="0.9"/>
<rect x="345.90" y="721.55" width="19.90" height="20.15" fill="#7FAED6" stroke="#c8c8c8" stroke-width="0.9"/>
<rect x="365.80" y="721.55" width="19.90" height="20.15" fill="#88B8DA" stroke="#c8c8c8" stroke-width="0.9"/>
<rect x="385.70" y="721.55" width="19.90" height="20.15" fill="#F2F4DA" stroke="#c8c8c8" stroke-width="0.9"/>
<rect x="405.60" y="721.55" width="19.90" height="20.15" fill="#EBF1E2" stroke="#c8c8c8" stroke-width="0.9"/>
<text x="278.85" y="615.90" font-size="12.6" textLength="24.00" lengthAdjust="spacingAndGlyphs" transform="rotate(-90 278.85 615.90)">WT1</text>
<text x="298.75" y="615.90" font-size="12.6" textLength="24.00" lengthAdjust="spacingAndGlyphs" transform="rotate(-90 298.75 615.90)">WT2</text>
<text x="318.65" y="615.90" font-size="12.6" textLength="24.00" lengthAdjust="spacingAndGlyphs" transform="rotate(-90 318.65 615.90)">WT3</text>
<text x="338.55" y="615.90" font-size="12.6" textLength="24.00" lengthAdjust="spacingAndGlyphs" transform="rotate(-90 338.55 615.90)">WT4</text>
<text x="358.45" y="615.90" font-size="12.6" textLength="24.00" lengthAdjust="spacingAndGlyphs" transform="rotate(-90 358.45 615.90)">KO1</text>
<text x="378.35" y="615.90" font-size="12.6" textLength="24.00" lengthAdjust="spacingAndGlyphs" transform="rotate(-90 378.35 615.90)">KO2</text>
<text x="398.25" y="615.90" font-size="12.6" textLength="24.00" lengthAdjust="spacingAndGlyphs" transform="rotate(-90 398.25 615.90)">KO3</text>
<text x="418.15" y="615.90" font-size="12.6" textLength="24.00" lengthAdjust="spacingAndGlyphs" transform="rotate(-90 418.15 615.90)">KO4</text>
<text x="260.70" y="634.77" font-size="12" text-anchor="end" textLength="27.90" lengthAdjust="spacingAndGlyphs">Aim2</text>
<text x="260.70" y="654.92" font-size="12" text-anchor="end" textLength="32.90" lengthAdjust="spacingAndGlyphs">Atf7ip</text>
<text x="260.70" y="675.07" font-size="12" text-anchor="end" textLength="32.20" lengthAdjust="spacingAndGlyphs">Nom1</text>
<text x="260.70" y="695.23" font-size="12" text-anchor="end" textLength="24.80" lengthAdjust="spacingAndGlyphs">Sall2</text>
<text x="260.70" y="715.38" font-size="12" text-anchor="end" textLength="27.90" lengthAdjust="spacingAndGlyphs">Taf1b</text>
<text x="260.70" y="735.52" font-size="12" text-anchor="end" textLength="37.70" lengthAdjust="spacingAndGlyphs">Zfp445</text>
<rect x="436.3" y="618.5" width="13.9" height="126.4" fill="url(#cb)"/>
<text x="431.00" y="607.00" font-size="12.6" textLength="40.00" lengthAdjust="spacingAndGlyphs">Z-score</text>
<text x="455.00" y="628.80" font-size="12.6" textLength="16.50" lengthAdjust="spacingAndGlyphs">1.5</text>
<text x="455.00" y="647.90" font-size="12.6" textLength="5.60" lengthAdjust="spacingAndGlyphs">1</text>
<text x="455.00" y="666.60" font-size="12.6" textLength="16.50" lengthAdjust="spacingAndGlyphs">0.5</text>
<text x="455.00" y="686.20" font-size="12.6" textLength="6.60" lengthAdjust="spacingAndGlyphs">0</text>
<text x="455.00" y="703.70" font-size="12.6" textLength="22.70" lengthAdjust="spacingAndGlyphs">–0.5</text>
<text x="455.00" y="722.20" font-size="12.6" textLength="11.80" lengthAdjust="spacingAndGlyphs">–1</text>
<text x="455.00" y="742.70" font-size="12.6" textLength="22.70" lengthAdjust="spacingAndGlyphs">–1.5</text>
<text x="13.00" y="809.40" font-size="17.5" font-weight="bold" fill="#000">G</text>
<rect x="85.40" y="844.30" width="8.70" height="71.20" fill="#A8032E"/>
<rect x="97.80" y="862.10" width="8.70" height="53.40" fill="#2C4A80"/>
<rect x="110.20" y="911.94" width="8.70" height="3.56" fill="#6AAF45"/>
<rect x="122.60" y="911.23" width="8.70" height="4.27" fill="#4F2468"/>
<rect x="143.60" y="844.30" width="8.70" height="71.20" fill="#A8032E"/>
<rect x="156.00" y="894.85" width="8.70" height="20.65" fill="#2C4A80"/>
<rect x="168.40" y="910.52" width="8.70" height="4.98" fill="#6AAF45"/>
<rect x="180.80" y="901.97" width="8.70" height="13.53" fill="#4F2468"/>
<rect x="201.80" y="844.30" width="8.70" height="71.20" fill="#A8032E"/>
<rect x="214.20" y="839.32" width="8.70" height="76.18" fill="#2C4A80"/>
<rect x="226.60" y="879.90" width="8.70" height="35.60" fill="#6AAF45"/>
<rect x="239.00" y="886.31" width="8.70" height="29.19" fill="#4F2468"/>
<rect x="260.00" y="844.30" width="8.70" height="71.20" fill="#A8032E"/>
<rect x="272.40" y="859.25" width="8.70" height="56.25" fill="#2C4A80"/>
<rect x="284.80" y="878.48" width="8.70" height="37.02" fill="#6AAF45"/>
<rect x="297.20" y="894.14" width="8.70" height="21.36" fill="#4F2468"/>
<line x1="81.60" y1="804.60" x2="81.60" y2="916.80" stroke="#000" stroke-width="1.6"/>
<line x1="80.80" y1="916.00" x2="313.60" y2="916.00" stroke="#000" stroke-width="1.6"/>
<line x1="77.50" y1="808.50" x2="81.60" y2="808.50" stroke="#000" stroke-width="1.4"/>
<text x="72.20" y="812.70" font-size="12" text-anchor="end" textLength="16.40" lengthAdjust="spacingAndGlyphs">1.5</text>
<line x1="77.50" y1="844.20" x2="81.60" y2="844.20" stroke="#000" stroke-width="1.4"/>
<text x="72.20" y="848.40" font-size="12" text-anchor="end" textLength="16.40" lengthAdjust="spacingAndGlyphs">1.0</text>
<line x1="77.50" y1="879.40" x2="81.60" y2="879.40" stroke="#000" stroke-width="1.4"/>
<text x="72.20" y="883.60" font-size="12" text-anchor="end" textLength="16.40" lengthAdjust="spacingAndGlyphs">0.5</text>
<line x1="77.50" y1="915.20" x2="81.60" y2="915.20" stroke="#000" stroke-width="1.4"/>
<text x="72.20" y="919.40" font-size="12" text-anchor="end" textLength="16.40" lengthAdjust="spacingAndGlyphs">0.0</text>
<line x1="108.35" y1="915.50" x2="108.35" y2="920.40" stroke="#000" stroke-width="1.4"/>
<text x="108.35" y="936.00" font-size="12.6" text-anchor="middle" textLength="19.20" lengthAdjust="spacingAndGlyphs">sg1</text>
<line x1="166.55" y1="915.50" x2="166.55" y2="920.40" stroke="#000" stroke-width="1.4"/>
<text x="166.55" y="936.00" font-size="12.6" text-anchor="middle" textLength="19.20" lengthAdjust="spacingAndGlyphs">sg2</text>
<line x1="224.75" y1="915.50" x2="224.75" y2="920.40" stroke="#000" stroke-width="1.4"/>
<text x="224.75" y="936.00" font-size="12.6" text-anchor="middle" textLength="19.20" lengthAdjust="spacingAndGlyphs">sg1</text>
<line x1="282.95" y1="915.50" x2="282.95" y2="920.40" stroke="#000" stroke-width="1.4"/>
<text x="282.95" y="936.00" font-size="12.6" text-anchor="middle" textLength="34.70" lengthAdjust="spacingAndGlyphs">Rps19</text>
<line x1="82.80" y1="940.30" x2="189.60" y2="940.30" stroke="#000" stroke-width="1.3"/>
<line x1="201.50" y1="940.30" x2="251.00" y2="940.30" stroke="#000" stroke-width="1.3"/>
<text x="135.90" y="955.50" font-size="12.6" text-anchor="middle" textLength="32.30" lengthAdjust="spacingAndGlyphs">Nom1</text>
<text x="225.30" y="955.50" font-size="12.6" text-anchor="middle" textLength="28.50" lengthAdjust="spacingAndGlyphs">Taf1b</text>
<text x="44.60" y="906.00" font-size="12.5" textLength="90.40" lengthAdjust="spacingAndGlyphs" transform="rotate(-90 44.60 906.00)">GFP % rel to day 3</text>
<rect x="317.80" y="815.00" width="16.80" height="8.80" fill="#A8032E"/>
<text x="339.20" y="823.90" font-size="12.6" textLength="29.60" lengthAdjust="spacingAndGlyphs">day 3</text>
<rect x="317.80" y="829.60" width="16.80" height="8.80" fill="#2C4A80"/>
<text x="339.20" y="838.50" font-size="12.6" textLength="29.60" lengthAdjust="spacingAndGlyphs">day 6</text>
<rect x="317.80" y="844.20" width="16.80" height="8.80" fill="#6AAF45"/>
<text x="339.20" y="853.10" font-size="12.6" textLength="29.60" lengthAdjust="spacingAndGlyphs">day 9</text>
<rect x="317.80" y="858.80" width="16.80" height="8.80" fill="#4F2468"/>
<text x="339.20" y="867.70" font-size="12.6" textLength="36.00" lengthAdjust="spacingAndGlyphs">day 12</text>
<rect x="0" y="0" width="520" height="1" fill="#000"/><rect x="0" y="1" width="520" height="1" fill="#777"/><rect x="0" y="0" width="1" height="967" fill="#000"/><rect x="1" y="1" width="1" height="966" fill="#777"/><rect x="518" y="0" width="2" height="967" fill="#000"/><rect x="0" y="965" width="520" height="2" fill="#000"/>
</svg>
</body></html>
